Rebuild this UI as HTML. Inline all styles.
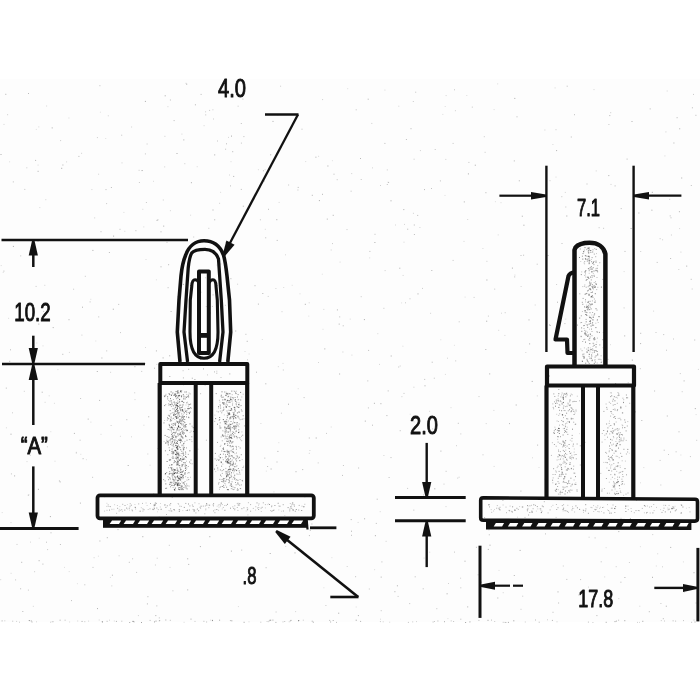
<!DOCTYPE html>
<html><head><meta charset="utf-8"><style>
html,body{margin:0;padding:0;background:#fff;width:700px;height:700px;overflow:hidden}
svg{display:block;filter:blur(0.45px)}
</style></head><body><svg width="700" height="700" viewBox="0 0 700 700"><rect x="0" y="79" width="700" height="543" fill="#fdfdfd"/><g fill="#111" opacity="1"><rect x="175.6" y="405.1" width="1.0" height="1.0" fill-opacity="0.41"/><rect x="175.0" y="395.8" width="1.0" height="1.0" fill-opacity="0.40"/><rect x="179.5" y="433.4" width="1.0" height="1.0" fill-opacity="0.37"/><rect x="178.2" y="402.4" width="1.0" height="1.0" fill-opacity="0.29"/><rect x="171.4" y="484.8" width="1.0" height="1.0" fill-opacity="0.59"/><rect x="174.1" y="475.8" width="1.0" height="1.0" fill-opacity="0.32"/><rect x="172.8" y="401.8" width="1.0" height="1.0" fill-opacity="0.27"/><rect x="187.8" y="453.9" width="1.0" height="1.0" fill-opacity="0.35"/><rect x="181.0" y="396.3" width="1.0" height="1.0" fill-opacity="0.47"/><rect x="178.6" y="421.4" width="1.0" height="1.0" fill-opacity="0.43"/><rect x="179.7" y="420.0" width="1.0" height="1.0" fill-opacity="0.30"/><rect x="167.6" y="442.5" width="1.0" height="1.0" fill-opacity="0.55"/><rect x="180.1" y="418.8" width="1.0" height="1.0" fill-opacity="0.37"/><rect x="176.6" y="405.2" width="1.0" height="1.0" fill-opacity="0.40"/><rect x="177.8" y="456.8" width="1.0" height="1.0" fill-opacity="0.55"/><rect x="168.8" y="459.5" width="1.0" height="1.0" fill-opacity="0.44"/><rect x="185.1" y="435.6" width="1.0" height="1.0" fill-opacity="0.39"/><rect x="164.2" y="396.1" width="1.0" height="1.0" fill-opacity="0.48"/><rect x="179.3" y="489.3" width="1.0" height="1.0" fill-opacity="0.35"/><rect x="172.4" y="392.3" width="1.0" height="1.0" fill-opacity="0.38"/><rect x="187.0" y="401.7" width="1.0" height="1.0" fill-opacity="0.25"/><rect x="180.9" y="429.1" width="1.0" height="1.0" fill-opacity="0.55"/><rect x="164.6" y="434.9" width="1.0" height="1.0" fill-opacity="0.53"/><rect x="173.0" y="417.8" width="1.0" height="1.0" fill-opacity="0.37"/><rect x="180.5" y="478.4" width="1.0" height="1.0" fill-opacity="0.27"/><rect x="176.1" y="413.3" width="1.0" height="1.0" fill-opacity="0.39"/><rect x="183.6" y="416.3" width="1.0" height="1.0" fill-opacity="0.35"/><rect x="177.2" y="485.3" width="1.0" height="1.0" fill-opacity="0.48"/><rect x="176.1" y="451.8" width="1.0" height="1.0" fill-opacity="0.56"/><rect x="175.1" y="477.5" width="1.0" height="1.0" fill-opacity="0.52"/><rect x="184.1" y="429.9" width="1.0" height="1.0" fill-opacity="0.22"/><rect x="182.4" y="410.9" width="1.0" height="1.0" fill-opacity="0.26"/><rect x="180.6" y="395.3" width="1.0" height="1.0" fill-opacity="0.24"/><rect x="177.0" y="392.6" width="1.0" height="1.0" fill-opacity="0.55"/><rect x="176.9" y="404.9" width="1.0" height="1.0" fill-opacity="0.35"/><rect x="182.8" y="474.9" width="1.0" height="1.0" fill-opacity="0.60"/><rect x="179.5" y="438.4" width="1.0" height="1.0" fill-opacity="0.34"/><rect x="178.5" y="472.9" width="1.0" height="1.0" fill-opacity="0.26"/><rect x="173.5" y="485.1" width="1.0" height="1.0" fill-opacity="0.42"/><rect x="176.4" y="442.8" width="1.0" height="1.0" fill-opacity="0.59"/><rect x="176.6" y="459.6" width="1.0" height="1.0" fill-opacity="0.27"/><rect x="183.0" y="443.3" width="1.0" height="1.0" fill-opacity="0.51"/><rect x="183.9" y="412.3" width="1.0" height="1.0" fill-opacity="0.54"/><rect x="171.1" y="412.7" width="1.0" height="1.0" fill-opacity="0.21"/><rect x="176.3" y="417.9" width="1.0" height="1.0" fill-opacity="0.30"/><rect x="181.8" y="485.5" width="1.0" height="1.0" fill-opacity="0.35"/><rect x="178.4" y="412.7" width="1.0" height="1.0" fill-opacity="0.45"/><rect x="181.0" y="474.0" width="1.0" height="1.0" fill-opacity="0.39"/><rect x="185.0" y="470.0" width="1.0" height="1.0" fill-opacity="0.56"/><rect x="181.7" y="465.0" width="1.0" height="1.0" fill-opacity="0.39"/><rect x="171.4" y="468.9" width="1.0" height="1.0" fill-opacity="0.59"/><rect x="186.8" y="430.1" width="1.0" height="1.0" fill-opacity="0.58"/><rect x="179.5" y="407.0" width="1.0" height="1.0" fill-opacity="0.56"/><rect x="179.6" y="404.6" width="1.0" height="1.0" fill-opacity="0.53"/><rect x="172.3" y="455.7" width="1.0" height="1.0" fill-opacity="0.25"/><rect x="183.4" y="487.1" width="1.0" height="1.0" fill-opacity="0.46"/><rect x="165.3" y="483.4" width="1.0" height="1.0" fill-opacity="0.53"/><rect x="182.2" y="415.2" width="1.0" height="1.0" fill-opacity="0.32"/><rect x="176.6" y="448.6" width="1.0" height="1.0" fill-opacity="0.25"/><rect x="183.6" y="425.4" width="1.0" height="1.0" fill-opacity="0.38"/><rect x="164.6" y="480.4" width="1.0" height="1.0" fill-opacity="0.40"/><rect x="183.7" y="442.4" width="1.0" height="1.0" fill-opacity="0.21"/><rect x="188.3" y="408.3" width="1.0" height="1.0" fill-opacity="0.27"/><rect x="177.3" y="462.5" width="1.0" height="1.0" fill-opacity="0.42"/><rect x="166.6" y="441.8" width="1.0" height="1.0" fill-opacity="0.24"/><rect x="173.2" y="414.8" width="1.0" height="1.0" fill-opacity="0.31"/><rect x="167.1" y="440.8" width="1.0" height="1.0" fill-opacity="0.56"/><rect x="173.0" y="451.3" width="1.0" height="1.0" fill-opacity="0.40"/><rect x="169.6" y="459.3" width="1.0" height="1.0" fill-opacity="0.39"/><rect x="179.3" y="459.9" width="1.0" height="1.0" fill-opacity="0.55"/><rect x="171.5" y="403.7" width="1.0" height="1.0" fill-opacity="0.25"/><rect x="177.1" y="397.3" width="1.0" height="1.0" fill-opacity="0.47"/><rect x="179.5" y="479.7" width="1.0" height="1.0" fill-opacity="0.26"/><rect x="185.1" y="456.0" width="1.0" height="1.0" fill-opacity="0.59"/><rect x="187.2" y="485.3" width="1.0" height="1.0" fill-opacity="0.36"/><rect x="178.9" y="489.0" width="1.0" height="1.0" fill-opacity="0.37"/><rect x="173.8" y="423.9" width="1.0" height="1.0" fill-opacity="0.28"/><rect x="184.9" y="462.2" width="1.0" height="1.0" fill-opacity="0.38"/><rect x="178.0" y="423.1" width="1.0" height="1.0" fill-opacity="0.45"/><rect x="188.1" y="396.4" width="1.0" height="1.0" fill-opacity="0.59"/><rect x="176.0" y="416.6" width="1.0" height="1.0" fill-opacity="0.22"/><rect x="181.5" y="417.0" width="1.0" height="1.0" fill-opacity="0.56"/><rect x="181.8" y="415.9" width="1.0" height="1.0" fill-opacity="0.26"/><rect x="176.2" y="447.1" width="1.0" height="1.0" fill-opacity="0.22"/><rect x="174.4" y="432.5" width="1.0" height="1.0" fill-opacity="0.23"/><rect x="177.8" y="453.4" width="1.0" height="1.0" fill-opacity="0.54"/><rect x="174.5" y="476.3" width="1.0" height="1.0" fill-opacity="0.38"/><rect x="181.5" y="445.3" width="1.0" height="1.0" fill-opacity="0.25"/><rect x="174.8" y="413.8" width="1.0" height="1.0" fill-opacity="0.24"/><rect x="178.6" y="395.0" width="1.0" height="1.0" fill-opacity="0.32"/><rect x="182.2" y="419.0" width="1.0" height="1.0" fill-opacity="0.40"/><rect x="181.8" y="424.7" width="1.0" height="1.0" fill-opacity="0.21"/><rect x="177.5" y="445.1" width="1.0" height="1.0" fill-opacity="0.28"/><rect x="186.1" y="483.5" width="1.0" height="1.0" fill-opacity="0.37"/><rect x="184.2" y="473.5" width="1.0" height="1.0" fill-opacity="0.36"/><rect x="182.7" y="458.8" width="1.0" height="1.0" fill-opacity="0.53"/><rect x="176.4" y="453.6" width="1.0" height="1.0" fill-opacity="0.36"/><rect x="178.7" y="395.4" width="1.0" height="1.0" fill-opacity="0.50"/><rect x="178.8" y="406.3" width="1.0" height="1.0" fill-opacity="0.23"/><rect x="174.5" y="477.1" width="1.0" height="1.0" fill-opacity="0.30"/><rect x="172.5" y="435.9" width="1.0" height="1.0" fill-opacity="0.26"/><rect x="173.0" y="414.4" width="1.0" height="1.0" fill-opacity="0.59"/><rect x="183.2" y="425.7" width="1.0" height="1.0" fill-opacity="0.39"/><rect x="177.0" y="410.1" width="1.0" height="1.0" fill-opacity="0.40"/><rect x="182.4" y="416.4" width="1.0" height="1.0" fill-opacity="0.22"/><rect x="180.4" y="420.4" width="1.0" height="1.0" fill-opacity="0.29"/><rect x="177.0" y="442.9" width="1.0" height="1.0" fill-opacity="0.49"/><rect x="167.8" y="429.0" width="1.0" height="1.0" fill-opacity="0.33"/><rect x="175.5" y="404.9" width="1.0" height="1.0" fill-opacity="0.22"/><rect x="168.1" y="479.2" width="1.0" height="1.0" fill-opacity="0.45"/><rect x="181.9" y="471.2" width="1.0" height="1.0" fill-opacity="0.40"/><rect x="182.9" y="470.5" width="1.0" height="1.0" fill-opacity="0.53"/><rect x="173.0" y="479.3" width="1.0" height="1.0" fill-opacity="0.29"/><rect x="168.2" y="403.3" width="1.0" height="1.0" fill-opacity="0.34"/><rect x="168.7" y="473.6" width="1.0" height="1.0" fill-opacity="0.45"/><rect x="173.8" y="438.9" width="1.0" height="1.0" fill-opacity="0.20"/><rect x="169.2" y="464.8" width="1.0" height="1.0" fill-opacity="0.46"/><rect x="176.9" y="463.7" width="1.0" height="1.0" fill-opacity="0.30"/><rect x="176.4" y="416.6" width="1.0" height="1.0" fill-opacity="0.50"/><rect x="172.8" y="439.4" width="1.0" height="1.0" fill-opacity="0.35"/><rect x="177.9" y="458.4" width="1.0" height="1.0" fill-opacity="0.46"/><rect x="168.3" y="404.7" width="1.0" height="1.0" fill-opacity="0.30"/><rect x="176.1" y="420.4" width="1.0" height="1.0" fill-opacity="0.22"/><rect x="176.6" y="457.2" width="1.0" height="1.0" fill-opacity="0.48"/><rect x="170.0" y="419.1" width="1.0" height="1.0" fill-opacity="0.39"/><rect x="176.3" y="479.4" width="1.0" height="1.0" fill-opacity="0.28"/><rect x="183.9" y="483.6" width="1.0" height="1.0" fill-opacity="0.53"/><rect x="177.8" y="434.9" width="1.0" height="1.0" fill-opacity="0.31"/><rect x="179.0" y="484.6" width="1.0" height="1.0" fill-opacity="0.26"/><rect x="185.1" y="485.3" width="1.0" height="1.0" fill-opacity="0.25"/><rect x="184.4" y="440.9" width="1.0" height="1.0" fill-opacity="0.29"/><rect x="170.6" y="438.6" width="1.0" height="1.0" fill-opacity="0.21"/><rect x="171.9" y="439.2" width="1.0" height="1.0" fill-opacity="0.26"/><rect x="178.6" y="421.6" width="1.0" height="1.0" fill-opacity="0.54"/><rect x="178.7" y="465.1" width="1.0" height="1.0" fill-opacity="0.57"/><rect x="174.3" y="480.2" width="1.0" height="1.0" fill-opacity="0.32"/><rect x="185.4" y="429.3" width="1.0" height="1.0" fill-opacity="0.34"/><rect x="176.9" y="417.5" width="1.0" height="1.0" fill-opacity="0.22"/><rect x="173.7" y="473.5" width="1.0" height="1.0" fill-opacity="0.30"/><rect x="191.4" y="441.1" width="1.0" height="1.0" fill-opacity="0.28"/><rect x="185.6" y="485.6" width="1.0" height="1.0" fill-opacity="0.45"/><rect x="169.3" y="484.1" width="1.0" height="1.0" fill-opacity="0.42"/><rect x="176.2" y="394.9" width="1.0" height="1.0" fill-opacity="0.50"/><rect x="170.1" y="418.6" width="1.0" height="1.0" fill-opacity="0.22"/><rect x="171.3" y="402.7" width="1.0" height="1.0" fill-opacity="0.32"/><rect x="178.0" y="487.6" width="1.0" height="1.0" fill-opacity="0.30"/><rect x="171.1" y="420.1" width="1.0" height="1.0" fill-opacity="0.27"/><rect x="174.8" y="410.8" width="1.0" height="1.0" fill-opacity="0.56"/><rect x="165.2" y="404.0" width="1.0" height="1.0" fill-opacity="0.28"/><rect x="180.9" y="424.2" width="1.0" height="1.0" fill-opacity="0.30"/><rect x="179.5" y="478.7" width="1.0" height="1.0" fill-opacity="0.50"/><rect x="170.9" y="431.4" width="1.0" height="1.0" fill-opacity="0.34"/><rect x="176.1" y="417.8" width="1.0" height="1.0" fill-opacity="0.59"/><rect x="168.4" y="440.3" width="1.0" height="1.0" fill-opacity="0.29"/><rect x="167.9" y="414.8" width="1.0" height="1.0" fill-opacity="0.36"/><rect x="184.4" y="485.4" width="1.0" height="1.0" fill-opacity="0.21"/><rect x="166.6" y="461.0" width="1.0" height="1.0" fill-opacity="0.56"/><rect x="183.3" y="448.7" width="1.0" height="1.0" fill-opacity="0.57"/><rect x="177.0" y="475.5" width="1.0" height="1.0" fill-opacity="0.59"/><rect x="181.3" y="400.9" width="1.0" height="1.0" fill-opacity="0.47"/><rect x="183.3" y="462.2" width="1.0" height="1.0" fill-opacity="0.46"/><rect x="175.3" y="435.7" width="1.0" height="1.0" fill-opacity="0.51"/><rect x="176.4" y="482.0" width="1.0" height="1.0" fill-opacity="0.46"/><rect x="176.9" y="402.8" width="1.0" height="1.0" fill-opacity="0.48"/><rect x="186.0" y="397.0" width="1.0" height="1.0" fill-opacity="0.41"/><rect x="178.4" y="428.8" width="1.0" height="1.0" fill-opacity="0.20"/><rect x="185.4" y="436.1" width="1.0" height="1.0" fill-opacity="0.58"/><rect x="172.4" y="478.4" width="1.0" height="1.0" fill-opacity="0.30"/><rect x="177.7" y="460.5" width="1.0" height="1.0" fill-opacity="0.32"/><rect x="174.0" y="439.8" width="1.0" height="1.0" fill-opacity="0.30"/><rect x="171.2" y="482.5" width="1.0" height="1.0" fill-opacity="0.29"/><rect x="168.6" y="423.8" width="1.0" height="1.0" fill-opacity="0.28"/><rect x="181.6" y="463.9" width="1.0" height="1.0" fill-opacity="0.40"/><rect x="172.6" y="487.0" width="1.0" height="1.0" fill-opacity="0.29"/><rect x="187.8" y="466.0" width="1.0" height="1.0" fill-opacity="0.32"/><rect x="178.7" y="439.6" width="1.0" height="1.0" fill-opacity="0.37"/><rect x="181.1" y="484.9" width="1.0" height="1.0" fill-opacity="0.26"/><rect x="180.4" y="411.3" width="1.0" height="1.0" fill-opacity="0.22"/><rect x="176.4" y="429.3" width="1.0" height="1.0" fill-opacity="0.56"/><rect x="191.6" y="463.3" width="1.0" height="1.0" fill-opacity="0.33"/><rect x="176.8" y="483.6" width="1.0" height="1.0" fill-opacity="0.50"/><rect x="172.6" y="456.4" width="1.0" height="1.0" fill-opacity="0.33"/><rect x="181.2" y="390.3" width="1.0" height="1.0" fill-opacity="0.31"/><rect x="188.6" y="485.6" width="1.0" height="1.0" fill-opacity="0.28"/><rect x="188.4" y="472.2" width="1.0" height="1.0" fill-opacity="0.53"/><rect x="171.0" y="394.9" width="1.0" height="1.0" fill-opacity="0.57"/><rect x="178.0" y="426.4" width="1.0" height="1.0" fill-opacity="0.56"/><rect x="181.1" y="431.1" width="1.0" height="1.0" fill-opacity="0.22"/><rect x="167.1" y="396.3" width="1.0" height="1.0" fill-opacity="0.57"/><rect x="181.6" y="464.7" width="1.0" height="1.0" fill-opacity="0.31"/><rect x="173.6" y="451.7" width="1.0" height="1.0" fill-opacity="0.30"/><rect x="176.9" y="421.6" width="1.0" height="1.0" fill-opacity="0.50"/><rect x="177.5" y="453.4" width="1.0" height="1.0" fill-opacity="0.58"/><rect x="179.5" y="428.7" width="1.0" height="1.0" fill-opacity="0.30"/><rect x="180.6" y="439.3" width="1.0" height="1.0" fill-opacity="0.52"/><rect x="175.3" y="472.3" width="1.0" height="1.0" fill-opacity="0.51"/><rect x="174.5" y="422.8" width="1.0" height="1.0" fill-opacity="0.51"/><rect x="182.4" y="409.7" width="1.0" height="1.0" fill-opacity="0.50"/><rect x="184.8" y="396.5" width="1.0" height="1.0" fill-opacity="0.33"/><rect x="178.7" y="478.3" width="1.0" height="1.0" fill-opacity="0.60"/><rect x="183.1" y="398.4" width="1.0" height="1.0" fill-opacity="0.48"/><rect x="181.2" y="413.4" width="1.0" height="1.0" fill-opacity="0.37"/><rect x="176.8" y="457.4" width="1.0" height="1.0" fill-opacity="0.47"/><rect x="164.8" y="474.1" width="1.0" height="1.0" fill-opacity="0.32"/><rect x="176.7" y="427.3" width="1.0" height="1.0" fill-opacity="0.30"/><rect x="172.8" y="405.3" width="1.0" height="1.0" fill-opacity="0.55"/><rect x="189.0" y="413.1" width="1.0" height="1.0" fill-opacity="0.52"/><rect x="182.7" y="489.1" width="1.0" height="1.0" fill-opacity="0.53"/><rect x="181.3" y="481.4" width="1.0" height="1.0" fill-opacity="0.22"/><rect x="183.3" y="401.9" width="1.0" height="1.0" fill-opacity="0.43"/><rect x="192.7" y="427.2" width="1.0" height="1.0" fill-opacity="0.55"/><rect x="179.6" y="416.0" width="1.0" height="1.0" fill-opacity="0.24"/><rect x="179.7" y="426.9" width="1.0" height="1.0" fill-opacity="0.30"/><rect x="180.3" y="455.2" width="1.0" height="1.0" fill-opacity="0.28"/><rect x="175.2" y="422.7" width="1.0" height="1.0" fill-opacity="0.32"/><rect x="173.4" y="469.5" width="1.0" height="1.0" fill-opacity="0.42"/><rect x="170.7" y="400.1" width="1.0" height="1.0" fill-opacity="0.46"/><rect x="181.9" y="406.4" width="1.0" height="1.0" fill-opacity="0.48"/><rect x="171.5" y="418.3" width="1.0" height="1.0" fill-opacity="0.32"/><rect x="191.6" y="425.7" width="1.0" height="1.0" fill-opacity="0.37"/><rect x="174.3" y="489.7" width="1.0" height="1.0" fill-opacity="0.49"/><rect x="180.2" y="390.6" width="1.0" height="1.0" fill-opacity="0.56"/><rect x="166.2" y="472.0" width="1.0" height="1.0" fill-opacity="0.38"/><rect x="184.3" y="391.5" width="1.0" height="1.0" fill-opacity="0.42"/><rect x="184.5" y="481.0" width="1.0" height="1.0" fill-opacity="0.35"/><rect x="181.7" y="404.6" width="1.0" height="1.0" fill-opacity="0.31"/><rect x="182.7" y="482.5" width="1.0" height="1.0" fill-opacity="0.52"/><rect x="181.6" y="409.7" width="1.0" height="1.0" fill-opacity="0.25"/><rect x="174.9" y="487.6" width="1.0" height="1.0" fill-opacity="0.57"/><rect x="177.2" y="480.4" width="1.0" height="1.0" fill-opacity="0.45"/><rect x="178.0" y="406.0" width="1.0" height="1.0" fill-opacity="0.36"/><rect x="172.6" y="472.9" width="1.0" height="1.0" fill-opacity="0.27"/><rect x="170.8" y="430.0" width="1.0" height="1.0" fill-opacity="0.25"/><rect x="176.3" y="462.5" width="1.0" height="1.0" fill-opacity="0.56"/><rect x="177.1" y="446.2" width="1.0" height="1.0" fill-opacity="0.54"/><rect x="175.2" y="450.0" width="1.0" height="1.0" fill-opacity="0.42"/><rect x="169.7" y="420.6" width="1.0" height="1.0" fill-opacity="0.37"/><rect x="181.0" y="434.7" width="1.0" height="1.0" fill-opacity="0.38"/><rect x="172.4" y="451.9" width="1.0" height="1.0" fill-opacity="0.51"/><rect x="177.3" y="435.8" width="1.0" height="1.0" fill-opacity="0.27"/><rect x="181.6" y="400.7" width="1.0" height="1.0" fill-opacity="0.24"/><rect x="181.8" y="441.0" width="1.0" height="1.0" fill-opacity="0.22"/><rect x="175.9" y="398.2" width="1.0" height="1.0" fill-opacity="0.40"/><rect x="166.1" y="440.4" width="1.0" height="1.0" fill-opacity="0.35"/><rect x="190.1" y="403.6" width="1.0" height="1.0" fill-opacity="0.49"/><rect x="190.5" y="439.2" width="1.0" height="1.0" fill-opacity="0.27"/><rect x="173.2" y="483.1" width="1.0" height="1.0" fill-opacity="0.23"/><rect x="184.3" y="465.6" width="1.0" height="1.0" fill-opacity="0.31"/><rect x="188.3" y="404.4" width="1.0" height="1.0" fill-opacity="0.40"/><rect x="176.4" y="410.8" width="1.0" height="1.0" fill-opacity="0.33"/><rect x="184.5" y="408.2" width="1.0" height="1.0" fill-opacity="0.26"/><rect x="180.0" y="458.0" width="1.0" height="1.0" fill-opacity="0.51"/><rect x="174.7" y="443.1" width="1.0" height="1.0" fill-opacity="0.45"/><rect x="169.2" y="477.3" width="1.0" height="1.0" fill-opacity="0.55"/><rect x="174.2" y="489.3" width="1.0" height="1.0" fill-opacity="0.45"/><rect x="175.2" y="469.8" width="1.0" height="1.0" fill-opacity="0.43"/><rect x="176.9" y="407.7" width="1.0" height="1.0" fill-opacity="0.53"/><rect x="175.0" y="453.9" width="1.0" height="1.0" fill-opacity="0.59"/><rect x="176.9" y="456.4" width="1.0" height="1.0" fill-opacity="0.21"/><rect x="177.3" y="451.6" width="1.0" height="1.0" fill-opacity="0.37"/><rect x="180.1" y="479.6" width="1.0" height="1.0" fill-opacity="0.46"/><rect x="180.3" y="390.3" width="1.0" height="1.0" fill-opacity="0.34"/><rect x="178.3" y="425.7" width="1.0" height="1.0" fill-opacity="0.44"/><rect x="185.2" y="452.4" width="1.0" height="1.0" fill-opacity="0.39"/><rect x="177.1" y="483.7" width="1.0" height="1.0" fill-opacity="0.24"/><rect x="180.6" y="477.1" width="1.0" height="1.0" fill-opacity="0.51"/><rect x="186.0" y="416.4" width="1.0" height="1.0" fill-opacity="0.42"/><rect x="177.7" y="454.6" width="1.0" height="1.0" fill-opacity="0.38"/><rect x="177.1" y="463.4" width="1.0" height="1.0" fill-opacity="0.22"/><rect x="190.6" y="430.6" width="1.0" height="1.0" fill-opacity="0.30"/><rect x="184.9" y="467.9" width="1.0" height="1.0" fill-opacity="0.58"/><rect x="177.6" y="410.0" width="1.0" height="1.0" fill-opacity="0.44"/><rect x="178.5" y="454.2" width="1.0" height="1.0" fill-opacity="0.32"/><rect x="173.4" y="394.8" width="1.0" height="1.0" fill-opacity="0.56"/><rect x="189.1" y="461.5" width="1.0" height="1.0" fill-opacity="0.50"/><rect x="177.5" y="464.2" width="1.0" height="1.0" fill-opacity="0.38"/><rect x="177.2" y="400.5" width="1.0" height="1.0" fill-opacity="0.33"/><rect x="178.8" y="459.5" width="1.0" height="1.0" fill-opacity="0.54"/><rect x="170.6" y="416.6" width="1.0" height="1.0" fill-opacity="0.52"/><rect x="174.8" y="416.5" width="1.0" height="1.0" fill-opacity="0.46"/><rect x="177.8" y="411.7" width="1.0" height="1.0" fill-opacity="0.30"/><rect x="176.2" y="464.4" width="1.0" height="1.0" fill-opacity="0.58"/><rect x="181.1" y="422.7" width="1.0" height="1.0" fill-opacity="0.30"/><rect x="173.2" y="453.1" width="1.0" height="1.0" fill-opacity="0.48"/><rect x="165.2" y="487.9" width="1.0" height="1.0" fill-opacity="0.48"/><rect x="179.3" y="433.7" width="1.0" height="1.0" fill-opacity="0.49"/><rect x="179.1" y="420.8" width="1.0" height="1.0" fill-opacity="0.23"/><rect x="185.5" y="404.5" width="1.0" height="1.0" fill-opacity="0.21"/><rect x="175.0" y="482.9" width="1.0" height="1.0" fill-opacity="0.21"/><rect x="179.9" y="459.3" width="1.0" height="1.0" fill-opacity="0.45"/><rect x="184.7" y="463.7" width="1.0" height="1.0" fill-opacity="0.35"/><rect x="180.4" y="472.0" width="1.0" height="1.0" fill-opacity="0.56"/><rect x="190.0" y="476.8" width="1.0" height="1.0" fill-opacity="0.24"/><rect x="169.2" y="401.2" width="1.0" height="1.0" fill-opacity="0.21"/><rect x="169.2" y="471.2" width="1.0" height="1.0" fill-opacity="0.45"/><rect x="168.2" y="400.0" width="1.0" height="1.0" fill-opacity="0.24"/><rect x="174.2" y="410.5" width="1.0" height="1.0" fill-opacity="0.21"/><rect x="183.0" y="418.3" width="1.0" height="1.0" fill-opacity="0.49"/><rect x="184.3" y="422.1" width="1.0" height="1.0" fill-opacity="0.54"/><rect x="175.3" y="393.1" width="1.0" height="1.0" fill-opacity="0.37"/><rect x="171.4" y="467.3" width="1.0" height="1.0" fill-opacity="0.42"/><rect x="185.1" y="476.2" width="1.0" height="1.0" fill-opacity="0.24"/><rect x="181.2" y="407.0" width="1.0" height="1.0" fill-opacity="0.50"/><rect x="177.0" y="390.4" width="1.0" height="1.0" fill-opacity="0.40"/><rect x="179.9" y="469.7" width="1.0" height="1.0" fill-opacity="0.34"/><rect x="183.7" y="416.1" width="1.0" height="1.0" fill-opacity="0.58"/><rect x="174.7" y="411.5" width="1.0" height="1.0" fill-opacity="0.24"/><rect x="170.0" y="398.1" width="1.0" height="1.0" fill-opacity="0.52"/><rect x="172.9" y="468.7" width="1.0" height="1.0" fill-opacity="0.36"/><rect x="172.7" y="479.0" width="1.0" height="1.0" fill-opacity="0.23"/><rect x="178.3" y="392.5" width="1.0" height="1.0" fill-opacity="0.56"/><rect x="181.7" y="427.9" width="1.0" height="1.0" fill-opacity="0.55"/><rect x="166.6" y="436.1" width="1.0" height="1.0" fill-opacity="0.50"/><rect x="174.9" y="424.8" width="1.0" height="1.0" fill-opacity="0.33"/><rect x="171.6" y="474.3" width="1.0" height="1.0" fill-opacity="0.27"/><rect x="168.2" y="467.3" width="1.0" height="1.0" fill-opacity="0.43"/><rect x="180.5" y="436.2" width="1.0" height="1.0" fill-opacity="0.28"/><rect x="173.9" y="460.3" width="1.0" height="1.0" fill-opacity="0.54"/><rect x="177.1" y="405.6" width="1.0" height="1.0" fill-opacity="0.41"/><rect x="182.6" y="422.8" width="1.0" height="1.0" fill-opacity="0.28"/><rect x="189.9" y="462.9" width="1.0" height="1.0" fill-opacity="0.24"/><rect x="186.6" y="488.4" width="1.0" height="1.0" fill-opacity="0.52"/><rect x="180.0" y="433.5" width="1.0" height="1.0" fill-opacity="0.24"/><rect x="185.5" y="428.8" width="1.0" height="1.0" fill-opacity="0.21"/><rect x="174.4" y="469.1" width="1.0" height="1.0" fill-opacity="0.45"/><rect x="170.0" y="404.2" width="1.0" height="1.0" fill-opacity="0.44"/><rect x="182.6" y="464.1" width="1.0" height="1.0" fill-opacity="0.43"/><rect x="173.4" y="432.1" width="1.0" height="1.0" fill-opacity="0.29"/><rect x="178.5" y="478.0" width="1.0" height="1.0" fill-opacity="0.54"/><rect x="167.3" y="454.2" width="1.0" height="1.0" fill-opacity="0.38"/><rect x="182.4" y="452.8" width="1.0" height="1.0" fill-opacity="0.51"/><rect x="180.8" y="453.0" width="1.0" height="1.0" fill-opacity="0.30"/><rect x="172.3" y="435.5" width="1.0" height="1.0" fill-opacity="0.47"/><rect x="172.5" y="408.3" width="1.0" height="1.0" fill-opacity="0.46"/><rect x="178.1" y="444.3" width="1.0" height="1.0" fill-opacity="0.26"/><rect x="174.1" y="484.1" width="1.0" height="1.0" fill-opacity="0.43"/><rect x="176.6" y="461.7" width="1.0" height="1.0" fill-opacity="0.40"/><rect x="170.6" y="472.9" width="1.0" height="1.0" fill-opacity="0.58"/><rect x="176.1" y="458.4" width="1.0" height="1.0" fill-opacity="0.36"/><rect x="182.9" y="402.2" width="1.0" height="1.0" fill-opacity="0.22"/><rect x="176.4" y="430.0" width="1.0" height="1.0" fill-opacity="0.21"/><rect x="175.1" y="432.1" width="1.0" height="1.0" fill-opacity="0.31"/><rect x="171.4" y="464.1" width="1.0" height="1.0" fill-opacity="0.58"/><rect x="179.0" y="411.9" width="1.0" height="1.0" fill-opacity="0.28"/><rect x="171.0" y="467.7" width="1.0" height="1.0" fill-opacity="0.52"/><rect x="172.8" y="436.9" width="1.0" height="1.0" fill-opacity="0.59"/><rect x="175.3" y="453.9" width="1.0" height="1.0" fill-opacity="0.53"/><rect x="174.8" y="436.8" width="1.0" height="1.0" fill-opacity="0.25"/><rect x="184.6" y="425.5" width="1.0" height="1.0" fill-opacity="0.54"/><rect x="176.9" y="427.6" width="1.0" height="1.0" fill-opacity="0.27"/><rect x="183.6" y="462.2" width="1.0" height="1.0" fill-opacity="0.31"/><rect x="170.4" y="420.2" width="1.0" height="1.0" fill-opacity="0.45"/><rect x="177.9" y="426.2" width="1.0" height="1.0" fill-opacity="0.57"/><rect x="183.4" y="395.7" width="1.0" height="1.0" fill-opacity="0.51"/><rect x="164.9" y="473.1" width="1.0" height="1.0" fill-opacity="0.45"/><rect x="185.8" y="391.1" width="1.0" height="1.0" fill-opacity="0.30"/><rect x="174.3" y="404.3" width="1.0" height="1.0" fill-opacity="0.29"/><rect x="184.8" y="424.6" width="1.0" height="1.0" fill-opacity="0.52"/><rect x="188.2" y="479.1" width="1.0" height="1.0" fill-opacity="0.44"/><rect x="185.7" y="456.8" width="1.0" height="1.0" fill-opacity="0.54"/><rect x="170.1" y="459.3" width="1.0" height="1.0" fill-opacity="0.41"/><rect x="182.9" y="433.9" width="1.0" height="1.0" fill-opacity="0.31"/><rect x="171.6" y="403.9" width="1.0" height="1.0" fill-opacity="0.40"/><rect x="181.5" y="436.7" width="1.0" height="1.0" fill-opacity="0.40"/><rect x="182.8" y="476.3" width="1.0" height="1.0" fill-opacity="0.20"/><rect x="168.4" y="436.8" width="1.0" height="1.0" fill-opacity="0.54"/><rect x="173.4" y="431.9" width="1.0" height="1.0" fill-opacity="0.58"/><rect x="176.0" y="453.7" width="1.0" height="1.0" fill-opacity="0.44"/><rect x="175.9" y="483.1" width="1.0" height="1.0" fill-opacity="0.33"/><rect x="163.6" y="441.1" width="1.0" height="1.0" fill-opacity="0.21"/><rect x="178.3" y="452.5" width="1.0" height="1.0" fill-opacity="0.34"/><rect x="169.4" y="426.6" width="1.0" height="1.0" fill-opacity="0.51"/><rect x="178.2" y="433.5" width="1.0" height="1.0" fill-opacity="0.37"/><rect x="173.9" y="472.7" width="1.0" height="1.0" fill-opacity="0.36"/><rect x="188.4" y="417.2" width="1.0" height="1.0" fill-opacity="0.40"/><rect x="178.5" y="455.5" width="1.0" height="1.0" fill-opacity="0.33"/><rect x="171.5" y="448.6" width="1.0" height="1.0" fill-opacity="0.45"/><rect x="174.8" y="394.0" width="1.0" height="1.0" fill-opacity="0.42"/><rect x="164.1" y="420.0" width="1.0" height="1.0" fill-opacity="0.20"/><rect x="169.8" y="482.1" width="1.0" height="1.0" fill-opacity="0.52"/><rect x="171.2" y="451.2" width="1.0" height="1.0" fill-opacity="0.45"/><rect x="169.2" y="459.6" width="1.0" height="1.0" fill-opacity="0.29"/><rect x="171.6" y="435.8" width="1.0" height="1.0" fill-opacity="0.51"/><rect x="187.6" y="408.1" width="1.0" height="1.0" fill-opacity="0.57"/><rect x="179.5" y="426.9" width="1.0" height="1.0" fill-opacity="0.53"/><rect x="176.7" y="446.2" width="1.0" height="1.0" fill-opacity="0.37"/><rect x="182.3" y="433.1" width="1.0" height="1.0" fill-opacity="0.46"/><rect x="175.4" y="395.5" width="1.0" height="1.0" fill-opacity="0.25"/><rect x="176.3" y="447.5" width="1.0" height="1.0" fill-opacity="0.57"/><rect x="170.6" y="391.4" width="1.0" height="1.0" fill-opacity="0.58"/><rect x="182.5" y="437.5" width="1.0" height="1.0" fill-opacity="0.36"/><rect x="177.8" y="454.5" width="1.0" height="1.0" fill-opacity="0.21"/><rect x="180.5" y="458.4" width="1.0" height="1.0" fill-opacity="0.25"/><rect x="179.3" y="398.8" width="1.0" height="1.0" fill-opacity="0.21"/><rect x="174.6" y="414.2" width="1.0" height="1.0" fill-opacity="0.49"/><rect x="178.5" y="395.0" width="1.0" height="1.0" fill-opacity="0.54"/><rect x="167.2" y="398.4" width="1.0" height="1.0" fill-opacity="0.45"/><rect x="181.4" y="436.1" width="1.0" height="1.0" fill-opacity="0.59"/><rect x="175.0" y="391.1" width="1.0" height="1.0" fill-opacity="0.21"/><rect x="181.8" y="471.7" width="1.0" height="1.0" fill-opacity="0.49"/><rect x="179.6" y="476.1" width="1.0" height="1.0" fill-opacity="0.39"/><rect x="171.0" y="426.8" width="1.0" height="1.0" fill-opacity="0.47"/><rect x="173.9" y="469.7" width="1.0" height="1.0" fill-opacity="0.35"/><rect x="171.6" y="453.0" width="1.0" height="1.0" fill-opacity="0.51"/><rect x="180.1" y="468.5" width="1.0" height="1.0" fill-opacity="0.43"/><rect x="186.7" y="396.1" width="1.0" height="1.0" fill-opacity="0.53"/><rect x="175.4" y="450.6" width="1.0" height="1.0" fill-opacity="0.59"/><rect x="174.6" y="450.1" width="1.0" height="1.0" fill-opacity="0.56"/><rect x="183.2" y="458.5" width="1.0" height="1.0" fill-opacity="0.44"/><rect x="176.9" y="470.7" width="1.0" height="1.0" fill-opacity="0.31"/><rect x="177.4" y="448.7" width="1.0" height="1.0" fill-opacity="0.53"/><rect x="182.8" y="394.2" width="1.0" height="1.0" fill-opacity="0.55"/><rect x="167.0" y="417.4" width="1.0" height="1.0" fill-opacity="0.54"/><rect x="182.0" y="458.5" width="1.0" height="1.0" fill-opacity="0.23"/><rect x="174.0" y="469.7" width="1.0" height="1.0" fill-opacity="0.28"/><rect x="177.9" y="483.2" width="1.0" height="1.0" fill-opacity="0.47"/><rect x="185.6" y="410.7" width="1.0" height="1.0" fill-opacity="0.30"/><rect x="174.4" y="469.2" width="1.0" height="1.0" fill-opacity="0.52"/><rect x="177.7" y="413.3" width="1.0" height="1.0" fill-opacity="0.43"/><rect x="169.9" y="478.5" width="1.0" height="1.0" fill-opacity="0.44"/><rect x="176.0" y="409.2" width="1.0" height="1.0" fill-opacity="0.27"/><rect x="171.1" y="426.3" width="1.0" height="1.0" fill-opacity="0.41"/><rect x="174.5" y="394.5" width="1.0" height="1.0" fill-opacity="0.60"/><rect x="169.6" y="400.6" width="1.0" height="1.0" fill-opacity="0.26"/><rect x="168.8" y="424.5" width="1.0" height="1.0" fill-opacity="0.41"/><rect x="189.6" y="393.4" width="1.0" height="1.0" fill-opacity="0.39"/><rect x="176.2" y="416.2" width="1.0" height="1.0" fill-opacity="0.51"/><rect x="178.3" y="484.6" width="1.0" height="1.0" fill-opacity="0.59"/><rect x="165.4" y="393.8" width="1.0" height="1.0" fill-opacity="0.28"/><rect x="184.6" y="398.4" width="1.0" height="1.0" fill-opacity="0.55"/><rect x="179.5" y="484.7" width="1.0" height="1.0" fill-opacity="0.56"/><rect x="174.5" y="449.8" width="1.0" height="1.0" fill-opacity="0.58"/><rect x="178.9" y="446.4" width="1.0" height="1.0" fill-opacity="0.46"/><rect x="171.6" y="457.0" width="1.0" height="1.0" fill-opacity="0.26"/><rect x="181.3" y="489.2" width="1.0" height="1.0" fill-opacity="0.29"/><rect x="168.9" y="415.6" width="1.0" height="1.0" fill-opacity="0.56"/><rect x="187.9" y="394.7" width="1.0" height="1.0" fill-opacity="0.51"/><rect x="179.1" y="454.7" width="1.0" height="1.0" fill-opacity="0.26"/><rect x="176.8" y="483.9" width="1.0" height="1.0" fill-opacity="0.47"/><rect x="177.1" y="449.1" width="1.0" height="1.0" fill-opacity="0.33"/><rect x="174.0" y="402.4" width="1.0" height="1.0" fill-opacity="0.39"/><rect x="182.9" y="413.8" width="1.0" height="1.0" fill-opacity="0.21"/><rect x="184.4" y="409.5" width="1.0" height="1.0" fill-opacity="0.21"/><rect x="188.6" y="412.1" width="1.0" height="1.0" fill-opacity="0.56"/><rect x="171.9" y="434.7" width="1.0" height="1.0" fill-opacity="0.24"/><rect x="172.2" y="474.2" width="1.0" height="1.0" fill-opacity="0.34"/><rect x="172.0" y="437.8" width="1.0" height="1.0" fill-opacity="0.45"/><rect x="186.3" y="412.2" width="1.0" height="1.0" fill-opacity="0.42"/><rect x="180.5" y="477.1" width="1.0" height="1.0" fill-opacity="0.31"/><rect x="175.4" y="405.6" width="1.0" height="1.0" fill-opacity="0.33"/><rect x="188.9" y="439.1" width="1.0" height="1.0" fill-opacity="0.33"/><rect x="179.1" y="401.4" width="1.0" height="1.0" fill-opacity="0.56"/><rect x="176.7" y="411.1" width="1.0" height="1.0" fill-opacity="0.39"/><rect x="178.8" y="415.8" width="1.0" height="1.0" fill-opacity="0.60"/><rect x="182.7" y="482.5" width="1.0" height="1.0" fill-opacity="0.24"/><rect x="186.5" y="479.6" width="1.0" height="1.0" fill-opacity="0.32"/><rect x="180.6" y="391.6" width="1.0" height="1.0" fill-opacity="0.52"/><rect x="188.9" y="404.0" width="1.0" height="1.0" fill-opacity="0.41"/><rect x="177.1" y="433.5" width="1.0" height="1.0" fill-opacity="0.56"/><rect x="179.6" y="447.1" width="1.0" height="1.0" fill-opacity="0.51"/><rect x="180.0" y="409.7" width="1.0" height="1.0" fill-opacity="0.23"/><rect x="172.0" y="450.9" width="1.0" height="1.0" fill-opacity="0.28"/><rect x="177.1" y="460.8" width="1.0" height="1.0" fill-opacity="0.52"/><rect x="186.4" y="410.2" width="1.0" height="1.0" fill-opacity="0.36"/><rect x="181.1" y="395.5" width="1.0" height="1.0" fill-opacity="0.52"/><rect x="181.8" y="474.2" width="1.0" height="1.0" fill-opacity="0.21"/><rect x="171.5" y="437.7" width="1.0" height="1.0" fill-opacity="0.55"/><rect x="180.0" y="408.6" width="1.0" height="1.0" fill-opacity="0.27"/><rect x="171.7" y="449.5" width="1.0" height="1.0" fill-opacity="0.20"/><rect x="173.8" y="434.6" width="1.0" height="1.0" fill-opacity="0.49"/><rect x="176.7" y="476.5" width="1.0" height="1.0" fill-opacity="0.33"/><rect x="177.0" y="428.1" width="1.0" height="1.0" fill-opacity="0.55"/><rect x="174.8" y="439.5" width="1.0" height="1.0" fill-opacity="0.41"/><rect x="179.1" y="408.2" width="1.0" height="1.0" fill-opacity="0.24"/><rect x="179.8" y="471.7" width="1.0" height="1.0" fill-opacity="0.48"/><rect x="177.5" y="391.8" width="1.0" height="1.0" fill-opacity="0.44"/><rect x="176.1" y="442.3" width="1.0" height="1.0" fill-opacity="0.55"/><rect x="174.2" y="394.5" width="1.0" height="1.0" fill-opacity="0.25"/><rect x="176.4" y="440.1" width="1.0" height="1.0" fill-opacity="0.36"/><rect x="180.2" y="449.2" width="1.0" height="1.0" fill-opacity="0.54"/><rect x="176.9" y="447.3" width="1.0" height="1.0" fill-opacity="0.53"/><rect x="173.2" y="428.9" width="1.0" height="1.0" fill-opacity="0.37"/><rect x="165.1" y="442.6" width="1.0" height="1.0" fill-opacity="0.51"/><rect x="186.1" y="414.0" width="1.0" height="1.0" fill-opacity="0.33"/><rect x="181.7" y="488.1" width="1.0" height="1.0" fill-opacity="0.53"/><rect x="163.9" y="395.4" width="1.0" height="1.0" fill-opacity="0.41"/><rect x="177.0" y="483.4" width="1.0" height="1.0" fill-opacity="0.45"/><rect x="183.6" y="443.1" width="1.0" height="1.0" fill-opacity="0.23"/><rect x="180.4" y="440.5" width="1.0" height="1.0" fill-opacity="0.59"/><rect x="177.5" y="483.7" width="1.0" height="1.0" fill-opacity="0.45"/><rect x="178.2" y="478.4" width="1.0" height="1.0" fill-opacity="0.46"/><rect x="175.9" y="457.8" width="1.0" height="1.0" fill-opacity="0.31"/><rect x="173.5" y="482.4" width="1.0" height="1.0" fill-opacity="0.41"/><rect x="173.7" y="485.1" width="1.0" height="1.0" fill-opacity="0.32"/><rect x="183.2" y="454.8" width="1.0" height="1.0" fill-opacity="0.58"/><rect x="182.8" y="416.8" width="1.0" height="1.0" fill-opacity="0.39"/><rect x="179.4" y="404.8" width="1.0" height="1.0" fill-opacity="0.32"/><rect x="179.3" y="418.8" width="1.0" height="1.0" fill-opacity="0.30"/><rect x="181.6" y="444.6" width="1.0" height="1.0" fill-opacity="0.43"/><rect x="169.7" y="410.1" width="1.0" height="1.0" fill-opacity="0.48"/><rect x="171.6" y="444.8" width="1.0" height="1.0" fill-opacity="0.32"/><rect x="172.4" y="412.2" width="1.0" height="1.0" fill-opacity="0.40"/><rect x="182.9" y="448.6" width="1.0" height="1.0" fill-opacity="0.54"/><rect x="177.4" y="445.7" width="1.0" height="1.0" fill-opacity="0.40"/><rect x="173.9" y="488.8" width="1.0" height="1.0" fill-opacity="0.26"/><rect x="187.4" y="477.1" width="1.0" height="1.0" fill-opacity="0.38"/><rect x="167.5" y="428.8" width="1.0" height="1.0" fill-opacity="0.24"/><rect x="180.8" y="485.9" width="1.0" height="1.0" fill-opacity="0.50"/><rect x="171.3" y="423.7" width="1.0" height="1.0" fill-opacity="0.45"/><rect x="184.6" y="472.1" width="1.0" height="1.0" fill-opacity="0.41"/><rect x="177.4" y="464.3" width="1.0" height="1.0" fill-opacity="0.51"/><rect x="169.9" y="481.5" width="1.0" height="1.0" fill-opacity="0.25"/><rect x="177.8" y="390.4" width="1.0" height="1.0" fill-opacity="0.40"/><rect x="168.7" y="447.2" width="1.0" height="1.0" fill-opacity="0.37"/><rect x="172.2" y="477.3" width="1.0" height="1.0" fill-opacity="0.38"/><rect x="173.2" y="462.3" width="1.0" height="1.0" fill-opacity="0.32"/><rect x="172.8" y="445.5" width="1.0" height="1.0" fill-opacity="0.51"/><rect x="180.7" y="440.0" width="1.0" height="1.0" fill-opacity="0.38"/><rect x="182.1" y="420.4" width="1.0" height="1.0" fill-opacity="0.43"/><rect x="183.5" y="482.0" width="1.0" height="1.0" fill-opacity="0.33"/><rect x="181.1" y="473.8" width="1.0" height="1.0" fill-opacity="0.37"/><rect x="175.9" y="391.1" width="1.0" height="1.0" fill-opacity="0.22"/><rect x="186.5" y="439.7" width="1.0" height="1.0" fill-opacity="0.42"/><rect x="171.8" y="441.7" width="1.0" height="1.0" fill-opacity="0.41"/><rect x="171.7" y="429.0" width="1.0" height="1.0" fill-opacity="0.34"/><rect x="183.6" y="457.6" width="1.0" height="1.0" fill-opacity="0.41"/><rect x="170.4" y="427.4" width="1.0" height="1.0" fill-opacity="0.43"/><rect x="181.7" y="486.4" width="1.0" height="1.0" fill-opacity="0.39"/><rect x="182.8" y="452.5" width="1.0" height="1.0" fill-opacity="0.41"/><rect x="176.9" y="407.1" width="1.0" height="1.0" fill-opacity="0.33"/><rect x="174.0" y="472.6" width="1.0" height="1.0" fill-opacity="0.56"/><rect x="176.8" y="472.1" width="1.0" height="1.0" fill-opacity="0.60"/><rect x="179.9" y="432.1" width="1.0" height="1.0" fill-opacity="0.40"/><rect x="181.3" y="408.8" width="1.0" height="1.0" fill-opacity="0.27"/><rect x="164.9" y="450.3" width="1.0" height="1.0" fill-opacity="0.45"/><rect x="193.0" y="431.1" width="1.0" height="1.0" fill-opacity="0.52"/><rect x="182.4" y="459.1" width="1.0" height="1.0" fill-opacity="0.54"/><rect x="177.1" y="456.8" width="1.0" height="1.0" fill-opacity="0.28"/><rect x="176.1" y="445.3" width="1.0" height="1.0" fill-opacity="0.41"/><rect x="186.0" y="447.4" width="1.0" height="1.0" fill-opacity="0.36"/><rect x="177.2" y="405.7" width="1.0" height="1.0" fill-opacity="0.24"/><rect x="174.0" y="442.2" width="1.0" height="1.0" fill-opacity="0.53"/><rect x="177.9" y="470.7" width="1.0" height="1.0" fill-opacity="0.51"/><rect x="177.4" y="461.5" width="1.0" height="1.0" fill-opacity="0.34"/><rect x="188.1" y="416.7" width="1.0" height="1.0" fill-opacity="0.43"/><rect x="185.0" y="435.0" width="1.0" height="1.0" fill-opacity="0.35"/><rect x="163.1" y="479.1" width="1.0" height="1.0" fill-opacity="0.38"/><rect x="169.1" y="414.9" width="1.0" height="1.0" fill-opacity="0.22"/><rect x="171.7" y="475.5" width="1.0" height="1.0" fill-opacity="0.53"/><rect x="189.4" y="450.3" width="1.0" height="1.0" fill-opacity="0.58"/><rect x="177.3" y="485.0" width="1.0" height="1.0" fill-opacity="0.49"/><rect x="183.3" y="420.9" width="1.0" height="1.0" fill-opacity="0.55"/><rect x="177.2" y="469.3" width="1.0" height="1.0" fill-opacity="0.34"/><rect x="180.9" y="487.2" width="1.0" height="1.0" fill-opacity="0.32"/><rect x="170.9" y="401.5" width="1.0" height="1.0" fill-opacity="0.36"/><rect x="175.7" y="402.3" width="1.0" height="1.0" fill-opacity="0.53"/><rect x="178.9" y="414.5" width="1.0" height="1.0" fill-opacity="0.29"/><rect x="181.8" y="456.4" width="1.0" height="1.0" fill-opacity="0.34"/><rect x="181.2" y="460.6" width="1.0" height="1.0" fill-opacity="0.53"/><rect x="179.7" y="434.3" width="1.0" height="1.0" fill-opacity="0.53"/><rect x="170.9" y="405.9" width="1.0" height="1.0" fill-opacity="0.35"/><rect x="185.1" y="410.8" width="1.0" height="1.0" fill-opacity="0.58"/><rect x="173.8" y="412.7" width="1.0" height="1.0" fill-opacity="0.48"/><rect x="178.0" y="480.0" width="1.0" height="1.0" fill-opacity="0.44"/><rect x="173.6" y="414.6" width="1.0" height="1.0" fill-opacity="0.55"/><rect x="174.3" y="441.3" width="1.0" height="1.0" fill-opacity="0.42"/><rect x="170.1" y="467.2" width="1.0" height="1.0" fill-opacity="0.43"/><rect x="183.1" y="429.0" width="1.0" height="1.0" fill-opacity="0.23"/><rect x="173.0" y="475.1" width="1.0" height="1.0" fill-opacity="0.24"/><rect x="185.4" y="426.1" width="1.0" height="1.0" fill-opacity="0.40"/><rect x="175.3" y="396.6" width="1.0" height="1.0" fill-opacity="0.25"/><rect x="181.2" y="418.2" width="1.0" height="1.0" fill-opacity="0.36"/><rect x="186.3" y="467.5" width="1.0" height="1.0" fill-opacity="0.25"/><rect x="168.6" y="393.0" width="1.0" height="1.0" fill-opacity="0.47"/><rect x="169.1" y="425.1" width="1.0" height="1.0" fill-opacity="0.48"/><rect x="181.8" y="474.7" width="1.0" height="1.0" fill-opacity="0.34"/><rect x="187.4" y="408.2" width="1.0" height="1.0" fill-opacity="0.49"/><rect x="186.2" y="394.0" width="1.0" height="1.0" fill-opacity="0.22"/><rect x="175.0" y="409.8" width="1.0" height="1.0" fill-opacity="0.22"/><rect x="182.8" y="453.8" width="1.0" height="1.0" fill-opacity="0.27"/><rect x="176.0" y="447.0" width="1.0" height="1.0" fill-opacity="0.37"/><rect x="172.3" y="424.9" width="1.0" height="1.0" fill-opacity="0.20"/><rect x="176.6" y="467.6" width="1.0" height="1.0" fill-opacity="0.54"/><rect x="178.8" y="394.7" width="1.0" height="1.0" fill-opacity="0.30"/><rect x="180.5" y="469.1" width="1.0" height="1.0" fill-opacity="0.50"/><rect x="190.5" y="459.5" width="1.0" height="1.0" fill-opacity="0.36"/><rect x="176.5" y="472.9" width="1.0" height="1.0" fill-opacity="0.58"/><rect x="179.7" y="483.0" width="1.0" height="1.0" fill-opacity="0.48"/><rect x="172.2" y="473.0" width="1.0" height="1.0" fill-opacity="0.22"/><rect x="172.0" y="432.8" width="1.0" height="1.0" fill-opacity="0.40"/><rect x="177.1" y="402.8" width="1.0" height="1.0" fill-opacity="0.48"/><rect x="175.1" y="416.1" width="1.0" height="1.0" fill-opacity="0.42"/><rect x="172.4" y="453.8" width="1.0" height="1.0" fill-opacity="0.22"/><rect x="175.7" y="431.2" width="1.0" height="1.0" fill-opacity="0.28"/><rect x="174.5" y="403.7" width="1.0" height="1.0" fill-opacity="0.30"/><rect x="168.0" y="441.5" width="1.0" height="1.0" fill-opacity="0.38"/><rect x="173.0" y="425.1" width="1.0" height="1.0" fill-opacity="0.26"/><rect x="189.5" y="423.4" width="1.0" height="1.0" fill-opacity="0.53"/><rect x="181.5" y="466.1" width="1.0" height="1.0" fill-opacity="0.44"/><rect x="185.2" y="466.6" width="1.0" height="1.0" fill-opacity="0.53"/><rect x="174.3" y="418.9" width="1.0" height="1.0" fill-opacity="0.22"/><rect x="180.3" y="409.7" width="1.0" height="1.0" fill-opacity="0.48"/><rect x="173.8" y="401.3" width="1.0" height="1.0" fill-opacity="0.35"/><rect x="183.3" y="397.2" width="1.0" height="1.0" fill-opacity="0.20"/><rect x="185.7" y="465.0" width="1.0" height="1.0" fill-opacity="0.59"/><rect x="182.0" y="400.9" width="1.0" height="1.0" fill-opacity="0.40"/><rect x="176.2" y="409.0" width="1.0" height="1.0" fill-opacity="0.57"/><rect x="176.8" y="452.8" width="1.0" height="1.0" fill-opacity="0.57"/><rect x="177.1" y="415.1" width="1.0" height="1.0" fill-opacity="0.21"/><rect x="180.4" y="474.0" width="1.0" height="1.0" fill-opacity="0.32"/><rect x="185.1" y="453.8" width="1.0" height="1.0" fill-opacity="0.27"/><rect x="165.1" y="473.0" width="1.0" height="1.0" fill-opacity="0.50"/><rect x="179.5" y="408.5" width="1.0" height="1.0" fill-opacity="0.35"/><rect x="172.1" y="426.9" width="1.0" height="1.0" fill-opacity="0.53"/><rect x="168.9" y="394.1" width="1.0" height="1.0" fill-opacity="0.53"/><rect x="173.4" y="480.5" width="1.0" height="1.0" fill-opacity="0.58"/><rect x="179.9" y="440.0" width="1.0" height="1.0" fill-opacity="0.43"/><rect x="181.4" y="458.8" width="1.0" height="1.0" fill-opacity="0.27"/><rect x="178.5" y="487.0" width="1.0" height="1.0" fill-opacity="0.38"/><rect x="178.0" y="462.3" width="1.0" height="1.0" fill-opacity="0.20"/><rect x="178.5" y="475.5" width="1.0" height="1.0" fill-opacity="0.31"/><rect x="170.5" y="441.5" width="1.0" height="1.0" fill-opacity="0.37"/><rect x="171.1" y="433.9" width="1.0" height="1.0" fill-opacity="0.56"/><rect x="166.8" y="419.6" width="1.0" height="1.0" fill-opacity="0.38"/><rect x="177.9" y="424.8" width="1.0" height="1.0" fill-opacity="0.33"/><rect x="179.5" y="487.1" width="1.0" height="1.0" fill-opacity="0.56"/><rect x="185.5" y="487.4" width="1.0" height="1.0" fill-opacity="0.52"/><rect x="174.9" y="457.6" width="1.0" height="1.0" fill-opacity="0.44"/><rect x="183.9" y="447.1" width="1.0" height="1.0" fill-opacity="0.46"/><rect x="174.9" y="424.3" width="1.0" height="1.0" fill-opacity="0.55"/><rect x="174.0" y="408.9" width="1.0" height="1.0" fill-opacity="0.23"/><rect x="170.8" y="427.2" width="1.0" height="1.0" fill-opacity="0.43"/><rect x="171.2" y="443.0" width="1.0" height="1.0" fill-opacity="0.25"/><rect x="174.5" y="479.0" width="1.0" height="1.0" fill-opacity="0.42"/><rect x="176.9" y="476.2" width="1.0" height="1.0" fill-opacity="0.41"/><rect x="179.8" y="438.9" width="1.0" height="1.0" fill-opacity="0.42"/><rect x="182.7" y="447.3" width="1.0" height="1.0" fill-opacity="0.44"/><rect x="181.9" y="430.8" width="1.0" height="1.0" fill-opacity="0.23"/><rect x="167.5" y="476.3" width="1.0" height="1.0" fill-opacity="0.50"/><rect x="173.9" y="489.1" width="1.0" height="1.0" fill-opacity="0.49"/><rect x="174.0" y="473.0" width="1.0" height="1.0" fill-opacity="0.58"/><rect x="179.4" y="467.5" width="1.0" height="1.0" fill-opacity="0.25"/><rect x="177.5" y="395.8" width="1.0" height="1.0" fill-opacity="0.21"/><rect x="183.1" y="411.3" width="1.0" height="1.0" fill-opacity="0.32"/><rect x="183.7" y="432.6" width="1.0" height="1.0" fill-opacity="0.55"/><rect x="171.3" y="481.8" width="1.0" height="1.0" fill-opacity="0.55"/><rect x="171.2" y="464.5" width="1.0" height="1.0" fill-opacity="0.47"/><rect x="186.0" y="402.3" width="1.0" height="1.0" fill-opacity="0.35"/><rect x="176.7" y="484.8" width="1.0" height="1.0" fill-opacity="0.44"/><rect x="175.2" y="444.9" width="1.0" height="1.0" fill-opacity="0.52"/><rect x="174.8" y="482.5" width="1.0" height="1.0" fill-opacity="0.28"/><rect x="172.7" y="473.8" width="1.0" height="1.0" fill-opacity="0.43"/><rect x="185.7" y="392.1" width="1.0" height="1.0" fill-opacity="0.27"/><rect x="184.2" y="419.0" width="1.0" height="1.0" fill-opacity="0.47"/><rect x="182.6" y="404.4" width="1.0" height="1.0" fill-opacity="0.48"/><rect x="171.5" y="484.9" width="1.0" height="1.0" fill-opacity="0.21"/><rect x="164.2" y="405.1" width="1.0" height="1.0" fill-opacity="0.52"/><rect x="176.9" y="408.2" width="1.0" height="1.0" fill-opacity="0.53"/><rect x="173.3" y="429.3" width="1.0" height="1.0" fill-opacity="0.54"/><rect x="177.6" y="477.3" width="1.0" height="1.0" fill-opacity="0.44"/><rect x="179.8" y="422.9" width="1.0" height="1.0" fill-opacity="0.44"/><rect x="190.0" y="407.0" width="1.0" height="1.0" fill-opacity="0.34"/><rect x="172.5" y="447.7" width="1.0" height="1.0" fill-opacity="0.20"/><rect x="180.8" y="423.4" width="1.0" height="1.0" fill-opacity="0.21"/><rect x="180.4" y="488.6" width="1.0" height="1.0" fill-opacity="0.47"/><rect x="178.0" y="417.3" width="1.0" height="1.0" fill-opacity="0.40"/><rect x="174.2" y="393.4" width="1.0" height="1.0" fill-opacity="0.42"/><rect x="178.4" y="477.2" width="1.0" height="1.0" fill-opacity="0.45"/><rect x="168.2" y="418.2" width="1.0" height="1.0" fill-opacity="0.52"/><rect x="174.8" y="483.9" width="1.0" height="1.0" fill-opacity="0.51"/><rect x="172.1" y="440.9" width="1.0" height="1.0" fill-opacity="0.45"/><rect x="175.2" y="445.1" width="1.0" height="1.0" fill-opacity="0.33"/><rect x="178.2" y="488.8" width="1.0" height="1.0" fill-opacity="0.39"/><rect x="177.6" y="414.3" width="1.0" height="1.0" fill-opacity="0.25"/><rect x="182.8" y="477.1" width="1.0" height="1.0" fill-opacity="0.38"/><rect x="175.8" y="446.9" width="1.0" height="1.0" fill-opacity="0.23"/><rect x="180.6" y="420.8" width="1.0" height="1.0" fill-opacity="0.49"/><rect x="169.4" y="483.7" width="1.0" height="1.0" fill-opacity="0.43"/><rect x="189.0" y="407.9" width="1.0" height="1.0" fill-opacity="0.43"/><rect x="178.0" y="425.7" width="1.0" height="1.0" fill-opacity="0.55"/><rect x="170.4" y="438.5" width="1.0" height="1.0" fill-opacity="0.56"/><rect x="180.7" y="415.8" width="1.0" height="1.0" fill-opacity="0.31"/><rect x="177.5" y="411.8" width="1.0" height="1.0" fill-opacity="0.36"/><rect x="183.0" y="450.3" width="1.0" height="1.0" fill-opacity="0.28"/><rect x="170.1" y="486.3" width="1.0" height="1.0" fill-opacity="0.44"/><rect x="181.1" y="470.9" width="1.0" height="1.0" fill-opacity="0.25"/><rect x="172.9" y="443.7" width="1.0" height="1.0" fill-opacity="0.55"/><rect x="178.3" y="482.3" width="1.0" height="1.0" fill-opacity="0.50"/><rect x="182.4" y="430.5" width="1.0" height="1.0" fill-opacity="0.47"/><rect x="175.4" y="395.7" width="1.0" height="1.0" fill-opacity="0.45"/><rect x="178.0" y="439.4" width="1.0" height="1.0" fill-opacity="0.44"/><rect x="191.3" y="436.3" width="1.0" height="1.0" fill-opacity="0.43"/><rect x="178.2" y="395.6" width="1.0" height="1.0" fill-opacity="0.45"/><rect x="180.1" y="422.9" width="1.0" height="1.0" fill-opacity="0.26"/><rect x="179.0" y="399.0" width="1.0" height="1.0" fill-opacity="0.53"/><rect x="170.2" y="443.9" width="1.0" height="1.0" fill-opacity="0.46"/><rect x="172.8" y="423.1" width="1.0" height="1.0" fill-opacity="0.50"/><rect x="177.9" y="461.1" width="1.0" height="1.0" fill-opacity="0.32"/><rect x="166.1" y="487.7" width="1.0" height="1.0" fill-opacity="0.38"/><rect x="180.1" y="442.3" width="1.0" height="1.0" fill-opacity="0.20"/><rect x="175.8" y="455.5" width="1.0" height="1.0" fill-opacity="0.51"/><rect x="178.4" y="489.0" width="1.0" height="1.0" fill-opacity="0.24"/><rect x="187.5" y="403.4" width="1.0" height="1.0" fill-opacity="0.22"/><rect x="183.2" y="445.5" width="1.0" height="1.0" fill-opacity="0.35"/><rect x="190.6" y="407.7" width="1.0" height="1.0" fill-opacity="0.50"/><rect x="187.8" y="406.2" width="1.0" height="1.0" fill-opacity="0.30"/><rect x="179.0" y="439.9" width="1.0" height="1.0" fill-opacity="0.45"/><rect x="171.6" y="470.1" width="1.0" height="1.0" fill-opacity="0.56"/><rect x="178.4" y="463.3" width="1.0" height="1.0" fill-opacity="0.23"/><rect x="178.5" y="430.2" width="1.0" height="1.0" fill-opacity="0.43"/><rect x="175.3" y="481.9" width="1.0" height="1.0" fill-opacity="0.58"/><rect x="176.9" y="412.4" width="1.0" height="1.0" fill-opacity="0.37"/><rect x="181.9" y="410.3" width="1.0" height="1.0" fill-opacity="0.50"/><rect x="181.4" y="419.8" width="1.0" height="1.0" fill-opacity="0.43"/><rect x="176.8" y="476.3" width="1.0" height="1.0" fill-opacity="0.55"/><rect x="179.3" y="465.2" width="1.0" height="1.0" fill-opacity="0.33"/><rect x="172.4" y="479.1" width="1.0" height="1.0" fill-opacity="0.26"/><rect x="169.1" y="449.8" width="1.0" height="1.0" fill-opacity="0.55"/><rect x="179.4" y="478.4" width="1.0" height="1.0" fill-opacity="0.34"/><rect x="182.2" y="476.3" width="1.0" height="1.0" fill-opacity="0.60"/><rect x="188.5" y="392.4" width="1.0" height="1.0" fill-opacity="0.24"/><rect x="180.1" y="390.9" width="1.0" height="1.0" fill-opacity="0.49"/><rect x="175.1" y="406.9" width="1.0" height="1.0" fill-opacity="0.47"/><rect x="185.7" y="424.0" width="1.0" height="1.0" fill-opacity="0.55"/><rect x="172.1" y="393.3" width="1.0" height="1.0" fill-opacity="0.29"/><rect x="184.3" y="458.9" width="1.0" height="1.0" fill-opacity="0.29"/><rect x="178.8" y="400.5" width="1.0" height="1.0" fill-opacity="0.21"/><rect x="179.3" y="421.6" width="1.0" height="1.0" fill-opacity="0.39"/><rect x="174.8" y="432.8" width="1.0" height="1.0" fill-opacity="0.27"/><rect x="176.5" y="404.8" width="1.0" height="1.0" fill-opacity="0.24"/><rect x="169.6" y="439.6" width="1.0" height="1.0" fill-opacity="0.57"/><rect x="189.8" y="411.5" width="1.0" height="1.0" fill-opacity="0.49"/><rect x="174.4" y="407.7" width="1.0" height="1.0" fill-opacity="0.31"/><rect x="170.6" y="394.3" width="1.0" height="1.0" fill-opacity="0.42"/><rect x="176.6" y="391.1" width="1.0" height="1.0" fill-opacity="0.48"/><rect x="167.8" y="444.4" width="1.0" height="1.0" fill-opacity="0.59"/><rect x="174.1" y="461.8" width="1.0" height="1.0" fill-opacity="0.36"/><rect x="183.1" y="431.9" width="1.0" height="1.0" fill-opacity="0.35"/><rect x="175.9" y="404.3" width="1.0" height="1.0" fill-opacity="0.60"/><rect x="181.3" y="450.8" width="1.0" height="1.0" fill-opacity="0.44"/><rect x="174.8" y="414.1" width="1.0" height="1.0" fill-opacity="0.28"/><rect x="179.9" y="474.3" width="1.0" height="1.0" fill-opacity="0.22"/><rect x="163.5" y="422.4" width="1.0" height="1.0" fill-opacity="0.46"/><rect x="177.3" y="421.6" width="1.0" height="1.0" fill-opacity="0.50"/><rect x="177.0" y="441.0" width="1.0" height="1.0" fill-opacity="0.44"/><rect x="169.9" y="413.4" width="1.0" height="1.0" fill-opacity="0.35"/><rect x="169.4" y="429.4" width="1.0" height="1.0" fill-opacity="0.41"/><rect x="173.1" y="457.7" width="1.0" height="1.0" fill-opacity="0.42"/><rect x="185.0" y="451.3" width="1.0" height="1.0" fill-opacity="0.31"/><rect x="175.6" y="437.3" width="1.0" height="1.0" fill-opacity="0.39"/><rect x="169.5" y="404.2" width="1.0" height="1.0" fill-opacity="0.57"/><rect x="165.6" y="442.4" width="1.0" height="1.0" fill-opacity="0.30"/><rect x="175.0" y="472.2" width="1.0" height="1.0" fill-opacity="0.38"/><rect x="187.0" y="472.7" width="1.0" height="1.0" fill-opacity="0.22"/><rect x="169.2" y="473.2" width="1.0" height="1.0" fill-opacity="0.53"/><rect x="177.0" y="405.4" width="1.0" height="1.0" fill-opacity="0.34"/><rect x="179.9" y="442.1" width="1.0" height="1.0" fill-opacity="0.38"/><rect x="186.7" y="429.6" width="1.0" height="1.0" fill-opacity="0.38"/><rect x="176.8" y="469.8" width="1.0" height="1.0" fill-opacity="0.50"/><rect x="171.9" y="458.0" width="1.0" height="1.0" fill-opacity="0.30"/><rect x="182.7" y="424.0" width="1.0" height="1.0" fill-opacity="0.35"/><rect x="175.0" y="410.1" width="1.0" height="1.0" fill-opacity="0.27"/><rect x="176.1" y="417.5" width="1.0" height="1.0" fill-opacity="0.33"/><rect x="184.5" y="473.4" width="1.0" height="1.0" fill-opacity="0.54"/><rect x="181.9" y="432.3" width="1.0" height="1.0" fill-opacity="0.52"/><rect x="183.6" y="427.2" width="1.0" height="1.0" fill-opacity="0.35"/><rect x="178.9" y="419.5" width="1.0" height="1.0" fill-opacity="0.36"/><rect x="173.3" y="471.1" width="1.0" height="1.0" fill-opacity="0.43"/><rect x="182.0" y="409.2" width="1.0" height="1.0" fill-opacity="0.59"/><rect x="174.2" y="427.2" width="1.0" height="1.0" fill-opacity="0.23"/><rect x="172.1" y="427.9" width="1.0" height="1.0" fill-opacity="0.41"/><rect x="177.1" y="480.1" width="1.0" height="1.0" fill-opacity="0.44"/><rect x="175.6" y="436.2" width="1.0" height="1.0" fill-opacity="0.54"/><rect x="182.2" y="437.4" width="1.0" height="1.0" fill-opacity="0.40"/><rect x="172.7" y="472.5" width="1.0" height="1.0" fill-opacity="0.47"/><rect x="186.2" y="430.2" width="1.0" height="1.0" fill-opacity="0.42"/><rect x="179.4" y="467.0" width="1.0" height="1.0" fill-opacity="0.25"/><rect x="178.2" y="397.7" width="1.0" height="1.0" fill-opacity="0.24"/><rect x="174.3" y="446.4" width="1.0" height="1.0" fill-opacity="0.22"/><rect x="174.9" y="461.1" width="1.0" height="1.0" fill-opacity="0.48"/><rect x="177.2" y="448.4" width="1.0" height="1.0" fill-opacity="0.60"/><rect x="180.5" y="477.2" width="1.0" height="1.0" fill-opacity="0.41"/><rect x="181.5" y="488.9" width="1.0" height="1.0" fill-opacity="0.31"/><rect x="176.6" y="421.3" width="1.0" height="1.0" fill-opacity="0.42"/><rect x="189.5" y="432.0" width="1.0" height="1.0" fill-opacity="0.22"/><rect x="181.0" y="476.7" width="1.0" height="1.0" fill-opacity="0.30"/><rect x="165.2" y="395.2" width="1.0" height="1.0" fill-opacity="0.41"/><rect x="220.7" y="436.4" width="1.0" height="1.0" fill-opacity="0.33"/><rect x="229.6" y="410.0" width="1.0" height="1.0" fill-opacity="0.52"/><rect x="225.9" y="395.1" width="1.0" height="1.0" fill-opacity="0.34"/><rect x="236.1" y="422.4" width="1.0" height="1.0" fill-opacity="0.30"/><rect x="226.2" y="419.2" width="1.0" height="1.0" fill-opacity="0.41"/><rect x="218.0" y="483.5" width="1.0" height="1.0" fill-opacity="0.36"/><rect x="220.8" y="395.8" width="1.0" height="1.0" fill-opacity="0.22"/><rect x="232.6" y="397.2" width="1.0" height="1.0" fill-opacity="0.41"/><rect x="218.5" y="482.2" width="1.0" height="1.0" fill-opacity="0.37"/><rect x="224.8" y="457.5" width="1.0" height="1.0" fill-opacity="0.30"/><rect x="237.6" y="473.8" width="1.0" height="1.0" fill-opacity="0.27"/><rect x="240.2" y="399.5" width="1.0" height="1.0" fill-opacity="0.47"/><rect x="226.4" y="431.5" width="1.0" height="1.0" fill-opacity="0.52"/><rect x="224.9" y="405.5" width="1.0" height="1.0" fill-opacity="0.22"/><rect x="231.7" y="394.2" width="1.0" height="1.0" fill-opacity="0.28"/><rect x="224.5" y="421.9" width="1.0" height="1.0" fill-opacity="0.40"/><rect x="223.6" y="481.2" width="1.0" height="1.0" fill-opacity="0.25"/><rect x="239.8" y="488.0" width="1.0" height="1.0" fill-opacity="0.34"/><rect x="226.2" y="428.0" width="1.0" height="1.0" fill-opacity="0.39"/><rect x="225.5" y="436.4" width="1.0" height="1.0" fill-opacity="0.45"/><rect x="237.9" y="457.9" width="1.0" height="1.0" fill-opacity="0.24"/><rect x="236.8" y="489.6" width="1.0" height="1.0" fill-opacity="0.53"/><rect x="222.9" y="419.1" width="1.0" height="1.0" fill-opacity="0.37"/><rect x="237.6" y="399.3" width="1.0" height="1.0" fill-opacity="0.37"/><rect x="226.4" y="449.8" width="1.0" height="1.0" fill-opacity="0.25"/><rect x="228.3" y="479.3" width="1.0" height="1.0" fill-opacity="0.50"/><rect x="237.3" y="482.5" width="1.0" height="1.0" fill-opacity="0.54"/><rect x="230.7" y="484.4" width="1.0" height="1.0" fill-opacity="0.43"/><rect x="224.5" y="423.3" width="1.0" height="1.0" fill-opacity="0.46"/><rect x="230.5" y="468.8" width="1.0" height="1.0" fill-opacity="0.30"/><rect x="235.6" y="445.9" width="1.0" height="1.0" fill-opacity="0.48"/><rect x="233.5" y="436.1" width="1.0" height="1.0" fill-opacity="0.21"/><rect x="227.0" y="399.7" width="1.0" height="1.0" fill-opacity="0.40"/><rect x="226.3" y="427.5" width="1.0" height="1.0" fill-opacity="0.43"/><rect x="234.3" y="407.0" width="1.0" height="1.0" fill-opacity="0.49"/><rect x="227.0" y="438.0" width="1.0" height="1.0" fill-opacity="0.25"/><rect x="234.5" y="477.9" width="1.0" height="1.0" fill-opacity="0.39"/><rect x="233.9" y="436.8" width="1.0" height="1.0" fill-opacity="0.26"/><rect x="226.2" y="440.7" width="1.0" height="1.0" fill-opacity="0.34"/><rect x="232.1" y="402.7" width="1.0" height="1.0" fill-opacity="0.28"/><rect x="229.8" y="440.2" width="1.0" height="1.0" fill-opacity="0.53"/><rect x="228.3" y="469.1" width="1.0" height="1.0" fill-opacity="0.40"/><rect x="229.0" y="412.9" width="1.0" height="1.0" fill-opacity="0.29"/><rect x="225.4" y="429.3" width="1.0" height="1.0" fill-opacity="0.38"/><rect x="236.1" y="479.1" width="1.0" height="1.0" fill-opacity="0.28"/><rect x="233.2" y="468.4" width="1.0" height="1.0" fill-opacity="0.45"/><rect x="214.4" y="414.6" width="1.0" height="1.0" fill-opacity="0.21"/><rect x="218.5" y="459.2" width="1.0" height="1.0" fill-opacity="0.49"/><rect x="215.2" y="471.1" width="1.0" height="1.0" fill-opacity="0.20"/><rect x="232.4" y="431.2" width="1.0" height="1.0" fill-opacity="0.34"/><rect x="228.0" y="414.5" width="1.0" height="1.0" fill-opacity="0.25"/><rect x="219.6" y="404.0" width="1.0" height="1.0" fill-opacity="0.27"/><rect x="225.7" y="438.0" width="1.0" height="1.0" fill-opacity="0.37"/><rect x="229.1" y="480.8" width="1.0" height="1.0" fill-opacity="0.27"/><rect x="220.0" y="474.6" width="1.0" height="1.0" fill-opacity="0.48"/><rect x="226.8" y="461.7" width="1.0" height="1.0" fill-opacity="0.54"/><rect x="232.0" y="464.6" width="1.0" height="1.0" fill-opacity="0.25"/><rect x="237.6" y="483.7" width="1.0" height="1.0" fill-opacity="0.49"/><rect x="223.1" y="449.0" width="1.0" height="1.0" fill-opacity="0.35"/><rect x="232.7" y="468.4" width="1.0" height="1.0" fill-opacity="0.54"/><rect x="225.1" y="484.6" width="1.0" height="1.0" fill-opacity="0.24"/><rect x="228.8" y="468.7" width="1.0" height="1.0" fill-opacity="0.28"/><rect x="241.0" y="435.8" width="1.0" height="1.0" fill-opacity="0.28"/><rect x="225.1" y="480.8" width="1.0" height="1.0" fill-opacity="0.34"/><rect x="219.9" y="469.4" width="1.0" height="1.0" fill-opacity="0.44"/><rect x="226.8" y="472.6" width="1.0" height="1.0" fill-opacity="0.43"/><rect x="230.5" y="424.0" width="1.0" height="1.0" fill-opacity="0.41"/><rect x="236.3" y="469.3" width="1.0" height="1.0" fill-opacity="0.21"/><rect x="229.2" y="471.2" width="1.0" height="1.0" fill-opacity="0.35"/><rect x="226.8" y="435.7" width="1.0" height="1.0" fill-opacity="0.32"/><rect x="232.8" y="451.9" width="1.0" height="1.0" fill-opacity="0.30"/><rect x="226.9" y="417.1" width="1.0" height="1.0" fill-opacity="0.43"/><rect x="222.5" y="402.1" width="1.0" height="1.0" fill-opacity="0.44"/><rect x="231.0" y="472.3" width="1.0" height="1.0" fill-opacity="0.54"/><rect x="233.6" y="412.4" width="1.0" height="1.0" fill-opacity="0.51"/><rect x="223.2" y="479.4" width="1.0" height="1.0" fill-opacity="0.53"/><rect x="233.6" y="488.9" width="1.0" height="1.0" fill-opacity="0.27"/><rect x="228.8" y="406.2" width="1.0" height="1.0" fill-opacity="0.26"/><rect x="229.0" y="435.5" width="1.0" height="1.0" fill-opacity="0.48"/><rect x="235.4" y="425.2" width="1.0" height="1.0" fill-opacity="0.50"/><rect x="233.7" y="427.7" width="1.0" height="1.0" fill-opacity="0.53"/><rect x="236.8" y="456.6" width="1.0" height="1.0" fill-opacity="0.36"/><rect x="233.0" y="426.2" width="1.0" height="1.0" fill-opacity="0.43"/><rect x="219.6" y="427.6" width="1.0" height="1.0" fill-opacity="0.52"/><rect x="227.7" y="426.4" width="1.0" height="1.0" fill-opacity="0.54"/><rect x="225.7" y="473.5" width="1.0" height="1.0" fill-opacity="0.36"/><rect x="221.6" y="479.1" width="1.0" height="1.0" fill-opacity="0.46"/><rect x="227.4" y="393.5" width="1.0" height="1.0" fill-opacity="0.53"/><rect x="232.0" y="404.5" width="1.0" height="1.0" fill-opacity="0.41"/><rect x="220.9" y="394.7" width="1.0" height="1.0" fill-opacity="0.42"/><rect x="235.5" y="466.2" width="1.0" height="1.0" fill-opacity="0.30"/><rect x="238.0" y="432.1" width="1.0" height="1.0" fill-opacity="0.48"/><rect x="227.8" y="428.0" width="1.0" height="1.0" fill-opacity="0.54"/><rect x="228.4" y="459.1" width="1.0" height="1.0" fill-opacity="0.40"/><rect x="232.7" y="469.4" width="1.0" height="1.0" fill-opacity="0.32"/><rect x="231.7" y="441.6" width="1.0" height="1.0" fill-opacity="0.46"/><rect x="226.4" y="421.2" width="1.0" height="1.0" fill-opacity="0.22"/><rect x="225.7" y="420.9" width="1.0" height="1.0" fill-opacity="0.53"/><rect x="226.2" y="422.1" width="1.0" height="1.0" fill-opacity="0.29"/><rect x="230.1" y="428.6" width="1.0" height="1.0" fill-opacity="0.54"/><rect x="234.8" y="410.4" width="1.0" height="1.0" fill-opacity="0.49"/><rect x="225.3" y="467.9" width="1.0" height="1.0" fill-opacity="0.31"/><rect x="221.1" y="465.7" width="1.0" height="1.0" fill-opacity="0.43"/><rect x="230.5" y="417.5" width="1.0" height="1.0" fill-opacity="0.33"/><rect x="226.9" y="442.9" width="1.0" height="1.0" fill-opacity="0.29"/><rect x="237.6" y="394.1" width="1.0" height="1.0" fill-opacity="0.49"/><rect x="233.6" y="425.4" width="1.0" height="1.0" fill-opacity="0.29"/><rect x="227.2" y="444.9" width="1.0" height="1.0" fill-opacity="0.46"/><rect x="230.1" y="431.3" width="1.0" height="1.0" fill-opacity="0.31"/><rect x="226.1" y="486.7" width="1.0" height="1.0" fill-opacity="0.42"/><rect x="217.2" y="467.5" width="1.0" height="1.0" fill-opacity="0.46"/><rect x="238.2" y="429.3" width="1.0" height="1.0" fill-opacity="0.48"/><rect x="234.4" y="408.6" width="1.0" height="1.0" fill-opacity="0.38"/><rect x="223.4" y="480.2" width="1.0" height="1.0" fill-opacity="0.25"/><rect x="222.6" y="396.6" width="1.0" height="1.0" fill-opacity="0.50"/><rect x="232.9" y="447.8" width="1.0" height="1.0" fill-opacity="0.34"/><rect x="235.2" y="417.4" width="1.0" height="1.0" fill-opacity="0.49"/><rect x="219.8" y="457.2" width="1.0" height="1.0" fill-opacity="0.46"/><rect x="237.4" y="479.8" width="1.0" height="1.0" fill-opacity="0.49"/><rect x="222.8" y="477.9" width="1.0" height="1.0" fill-opacity="0.25"/><rect x="225.2" y="460.4" width="1.0" height="1.0" fill-opacity="0.22"/><rect x="225.7" y="472.4" width="1.0" height="1.0" fill-opacity="0.30"/><rect x="236.9" y="412.4" width="1.0" height="1.0" fill-opacity="0.54"/><rect x="234.3" y="426.0" width="1.0" height="1.0" fill-opacity="0.44"/><rect x="228.8" y="473.9" width="1.0" height="1.0" fill-opacity="0.42"/><rect x="229.5" y="417.5" width="1.0" height="1.0" fill-opacity="0.22"/><rect x="229.6" y="445.5" width="1.0" height="1.0" fill-opacity="0.49"/><rect x="227.3" y="412.4" width="1.0" height="1.0" fill-opacity="0.42"/><rect x="225.0" y="423.1" width="1.0" height="1.0" fill-opacity="0.48"/><rect x="227.2" y="473.9" width="1.0" height="1.0" fill-opacity="0.48"/><rect x="229.3" y="393.0" width="1.0" height="1.0" fill-opacity="0.38"/><rect x="227.5" y="396.3" width="1.0" height="1.0" fill-opacity="0.42"/><rect x="222.9" y="448.5" width="1.0" height="1.0" fill-opacity="0.41"/><rect x="233.4" y="476.8" width="1.0" height="1.0" fill-opacity="0.55"/><rect x="220.2" y="486.1" width="1.0" height="1.0" fill-opacity="0.22"/><rect x="227.2" y="458.3" width="1.0" height="1.0" fill-opacity="0.32"/><rect x="222.3" y="430.3" width="1.0" height="1.0" fill-opacity="0.30"/><rect x="222.3" y="463.6" width="1.0" height="1.0" fill-opacity="0.27"/><rect x="228.3" y="409.7" width="1.0" height="1.0" fill-opacity="0.29"/><rect x="239.3" y="460.1" width="1.0" height="1.0" fill-opacity="0.53"/><rect x="227.2" y="462.3" width="1.0" height="1.0" fill-opacity="0.45"/><rect x="241.5" y="410.6" width="1.0" height="1.0" fill-opacity="0.45"/><rect x="230.0" y="416.4" width="1.0" height="1.0" fill-opacity="0.32"/><rect x="234.4" y="453.2" width="1.0" height="1.0" fill-opacity="0.22"/><rect x="228.7" y="425.5" width="1.0" height="1.0" fill-opacity="0.51"/><rect x="231.4" y="435.5" width="1.0" height="1.0" fill-opacity="0.25"/><rect x="230.8" y="437.1" width="1.0" height="1.0" fill-opacity="0.55"/><rect x="217.4" y="469.5" width="1.0" height="1.0" fill-opacity="0.24"/><rect x="230.7" y="446.3" width="1.0" height="1.0" fill-opacity="0.38"/><rect x="242.7" y="415.2" width="1.0" height="1.0" fill-opacity="0.45"/><rect x="230.8" y="488.1" width="1.0" height="1.0" fill-opacity="0.35"/><rect x="233.6" y="428.4" width="1.0" height="1.0" fill-opacity="0.25"/><rect x="217.8" y="411.4" width="1.0" height="1.0" fill-opacity="0.40"/><rect x="234.3" y="390.9" width="1.0" height="1.0" fill-opacity="0.36"/><rect x="219.3" y="478.9" width="1.0" height="1.0" fill-opacity="0.39"/><rect x="219.7" y="422.3" width="1.0" height="1.0" fill-opacity="0.37"/><rect x="219.8" y="410.6" width="1.0" height="1.0" fill-opacity="0.29"/><rect x="235.7" y="428.3" width="1.0" height="1.0" fill-opacity="0.24"/><rect x="234.1" y="435.6" width="1.0" height="1.0" fill-opacity="0.40"/><rect x="226.8" y="460.7" width="1.0" height="1.0" fill-opacity="0.45"/><rect x="229.9" y="437.1" width="1.0" height="1.0" fill-opacity="0.34"/><rect x="229.6" y="461.4" width="1.0" height="1.0" fill-opacity="0.44"/><rect x="238.1" y="404.2" width="1.0" height="1.0" fill-opacity="0.52"/><rect x="230.3" y="396.3" width="1.0" height="1.0" fill-opacity="0.28"/><rect x="228.9" y="453.4" width="1.0" height="1.0" fill-opacity="0.23"/><rect x="227.2" y="470.3" width="1.0" height="1.0" fill-opacity="0.21"/><rect x="233.0" y="414.0" width="1.0" height="1.0" fill-opacity="0.44"/><rect x="227.1" y="453.9" width="1.0" height="1.0" fill-opacity="0.52"/><rect x="239.5" y="405.3" width="1.0" height="1.0" fill-opacity="0.24"/><rect x="230.2" y="461.0" width="1.0" height="1.0" fill-opacity="0.27"/><rect x="226.0" y="406.3" width="1.0" height="1.0" fill-opacity="0.48"/><rect x="228.8" y="481.6" width="1.0" height="1.0" fill-opacity="0.20"/><rect x="232.2" y="445.6" width="1.0" height="1.0" fill-opacity="0.42"/><rect x="222.3" y="470.0" width="1.0" height="1.0" fill-opacity="0.23"/><rect x="227.4" y="444.5" width="1.0" height="1.0" fill-opacity="0.20"/><rect x="235.1" y="392.4" width="1.0" height="1.0" fill-opacity="0.49"/><rect x="235.6" y="435.8" width="1.0" height="1.0" fill-opacity="0.27"/><rect x="235.3" y="401.0" width="1.0" height="1.0" fill-opacity="0.54"/><rect x="237.5" y="425.3" width="1.0" height="1.0" fill-opacity="0.50"/><rect x="234.7" y="400.1" width="1.0" height="1.0" fill-opacity="0.33"/><rect x="234.2" y="466.2" width="1.0" height="1.0" fill-opacity="0.54"/><rect x="235.9" y="390.7" width="1.0" height="1.0" fill-opacity="0.23"/><rect x="222.8" y="459.2" width="1.0" height="1.0" fill-opacity="0.36"/><rect x="224.6" y="451.1" width="1.0" height="1.0" fill-opacity="0.43"/><rect x="233.0" y="463.3" width="1.0" height="1.0" fill-opacity="0.49"/><rect x="215.7" y="393.1" width="1.0" height="1.0" fill-opacity="0.44"/><rect x="231.9" y="433.1" width="1.0" height="1.0" fill-opacity="0.53"/><rect x="226.3" y="460.6" width="1.0" height="1.0" fill-opacity="0.29"/><rect x="227.7" y="424.8" width="1.0" height="1.0" fill-opacity="0.36"/><rect x="231.5" y="455.4" width="1.0" height="1.0" fill-opacity="0.53"/><rect x="239.5" y="473.7" width="1.0" height="1.0" fill-opacity="0.30"/><rect x="228.6" y="431.2" width="1.0" height="1.0" fill-opacity="0.21"/><rect x="233.9" y="478.6" width="1.0" height="1.0" fill-opacity="0.47"/><rect x="226.3" y="479.0" width="1.0" height="1.0" fill-opacity="0.48"/><rect x="231.5" y="400.5" width="1.0" height="1.0" fill-opacity="0.42"/><rect x="224.1" y="443.7" width="1.0" height="1.0" fill-opacity="0.54"/><rect x="224.4" y="443.1" width="1.0" height="1.0" fill-opacity="0.53"/><rect x="222.7" y="481.4" width="1.0" height="1.0" fill-opacity="0.44"/><rect x="230.2" y="399.0" width="1.0" height="1.0" fill-opacity="0.52"/><rect x="234.0" y="416.0" width="1.0" height="1.0" fill-opacity="0.45"/><rect x="220.1" y="407.6" width="1.0" height="1.0" fill-opacity="0.44"/><rect x="232.6" y="465.3" width="1.0" height="1.0" fill-opacity="0.29"/><rect x="227.4" y="392.8" width="1.0" height="1.0" fill-opacity="0.29"/><rect x="225.0" y="454.3" width="1.0" height="1.0" fill-opacity="0.41"/><rect x="227.2" y="449.8" width="1.0" height="1.0" fill-opacity="0.22"/><rect x="224.0" y="391.5" width="1.0" height="1.0" fill-opacity="0.33"/><rect x="229.7" y="417.3" width="1.0" height="1.0" fill-opacity="0.47"/><rect x="226.9" y="400.0" width="1.0" height="1.0" fill-opacity="0.44"/><rect x="235.1" y="462.8" width="1.0" height="1.0" fill-opacity="0.23"/><rect x="229.8" y="424.2" width="1.0" height="1.0" fill-opacity="0.49"/><rect x="227.6" y="475.5" width="1.0" height="1.0" fill-opacity="0.48"/><rect x="233.1" y="417.8" width="1.0" height="1.0" fill-opacity="0.52"/><rect x="229.3" y="455.9" width="1.0" height="1.0" fill-opacity="0.41"/><rect x="230.8" y="408.1" width="1.0" height="1.0" fill-opacity="0.54"/><rect x="231.2" y="455.2" width="1.0" height="1.0" fill-opacity="0.40"/><rect x="241.3" y="396.5" width="1.0" height="1.0" fill-opacity="0.25"/><rect x="230.1" y="426.4" width="1.0" height="1.0" fill-opacity="0.45"/><rect x="228.9" y="468.8" width="1.0" height="1.0" fill-opacity="0.38"/><rect x="235.0" y="414.8" width="1.0" height="1.0" fill-opacity="0.48"/><rect x="229.4" y="428.1" width="1.0" height="1.0" fill-opacity="0.27"/><rect x="224.5" y="428.4" width="1.0" height="1.0" fill-opacity="0.33"/><rect x="230.4" y="437.2" width="1.0" height="1.0" fill-opacity="0.43"/><rect x="227.5" y="413.5" width="1.0" height="1.0" fill-opacity="0.21"/><rect x="219.4" y="401.6" width="1.0" height="1.0" fill-opacity="0.23"/><rect x="231.5" y="438.0" width="1.0" height="1.0" fill-opacity="0.26"/><rect x="230.7" y="434.0" width="1.0" height="1.0" fill-opacity="0.33"/><rect x="230.6" y="483.7" width="1.0" height="1.0" fill-opacity="0.39"/><rect x="228.7" y="412.2" width="1.0" height="1.0" fill-opacity="0.50"/><rect x="220.9" y="475.8" width="1.0" height="1.0" fill-opacity="0.24"/><rect x="229.2" y="442.5" width="1.0" height="1.0" fill-opacity="0.50"/><rect x="232.8" y="398.3" width="1.0" height="1.0" fill-opacity="0.29"/><rect x="228.7" y="436.1" width="1.0" height="1.0" fill-opacity="0.36"/><rect x="226.5" y="410.5" width="1.0" height="1.0" fill-opacity="0.43"/><rect x="236.2" y="402.0" width="1.0" height="1.0" fill-opacity="0.26"/><rect x="228.3" y="455.3" width="1.0" height="1.0" fill-opacity="0.38"/><rect x="228.5" y="437.0" width="1.0" height="1.0" fill-opacity="0.28"/><rect x="221.2" y="450.5" width="1.0" height="1.0" fill-opacity="0.43"/><rect x="238.7" y="470.4" width="1.0" height="1.0" fill-opacity="0.50"/><rect x="225.5" y="480.3" width="1.0" height="1.0" fill-opacity="0.26"/><rect x="231.1" y="449.8" width="1.0" height="1.0" fill-opacity="0.28"/><rect x="227.5" y="433.9" width="1.0" height="1.0" fill-opacity="0.25"/><rect x="216.1" y="464.9" width="1.0" height="1.0" fill-opacity="0.34"/><rect x="221.5" y="391.3" width="1.0" height="1.0" fill-opacity="0.53"/><rect x="227.9" y="489.2" width="1.0" height="1.0" fill-opacity="0.42"/><rect x="236.4" y="473.4" width="1.0" height="1.0" fill-opacity="0.36"/><rect x="223.8" y="430.7" width="1.0" height="1.0" fill-opacity="0.21"/><rect x="236.8" y="406.2" width="1.0" height="1.0" fill-opacity="0.49"/><rect x="228.7" y="450.8" width="1.0" height="1.0" fill-opacity="0.40"/><rect x="235.9" y="403.8" width="1.0" height="1.0" fill-opacity="0.28"/><rect x="231.0" y="486.0" width="1.0" height="1.0" fill-opacity="0.38"/><rect x="231.8" y="478.7" width="1.0" height="1.0" fill-opacity="0.22"/><rect x="223.1" y="406.8" width="1.0" height="1.0" fill-opacity="0.34"/><rect x="225.5" y="456.2" width="1.0" height="1.0" fill-opacity="0.50"/><rect x="235.0" y="416.9" width="1.0" height="1.0" fill-opacity="0.22"/><rect x="226.7" y="400.4" width="1.0" height="1.0" fill-opacity="0.21"/><rect x="241.5" y="418.9" width="1.0" height="1.0" fill-opacity="0.35"/><rect x="226.4" y="474.9" width="1.0" height="1.0" fill-opacity="0.48"/><rect x="232.5" y="441.3" width="1.0" height="1.0" fill-opacity="0.43"/><rect x="232.1" y="470.1" width="1.0" height="1.0" fill-opacity="0.51"/><rect x="240.9" y="409.3" width="1.0" height="1.0" fill-opacity="0.40"/><rect x="235.2" y="459.2" width="1.0" height="1.0" fill-opacity="0.29"/><rect x="219.6" y="426.6" width="1.0" height="1.0" fill-opacity="0.23"/><rect x="227.6" y="452.4" width="1.0" height="1.0" fill-opacity="0.37"/><rect x="236.1" y="470.0" width="1.0" height="1.0" fill-opacity="0.44"/><rect x="229.4" y="454.8" width="1.0" height="1.0" fill-opacity="0.26"/><rect x="229.7" y="468.6" width="1.0" height="1.0" fill-opacity="0.54"/><rect x="235.6" y="430.9" width="1.0" height="1.0" fill-opacity="0.54"/><rect x="228.5" y="413.2" width="1.0" height="1.0" fill-opacity="0.43"/><rect x="223.1" y="402.8" width="1.0" height="1.0" fill-opacity="0.28"/><rect x="232.3" y="416.6" width="1.0" height="1.0" fill-opacity="0.34"/><rect x="229.8" y="397.8" width="1.0" height="1.0" fill-opacity="0.40"/><rect x="222.9" y="447.7" width="1.0" height="1.0" fill-opacity="0.35"/><rect x="236.7" y="438.2" width="1.0" height="1.0" fill-opacity="0.21"/><rect x="218.0" y="406.1" width="1.0" height="1.0" fill-opacity="0.47"/><rect x="240.8" y="454.2" width="1.0" height="1.0" fill-opacity="0.42"/><rect x="232.6" y="486.6" width="1.0" height="1.0" fill-opacity="0.31"/><rect x="239.1" y="472.2" width="1.0" height="1.0" fill-opacity="0.41"/><rect x="225.4" y="477.5" width="1.0" height="1.0" fill-opacity="0.21"/><rect x="226.8" y="462.6" width="1.0" height="1.0" fill-opacity="0.30"/><rect x="233.5" y="390.5" width="1.0" height="1.0" fill-opacity="0.20"/><rect x="237.6" y="416.5" width="1.0" height="1.0" fill-opacity="0.45"/><rect x="240.1" y="391.9" width="1.0" height="1.0" fill-opacity="0.54"/><rect x="238.7" y="423.5" width="1.0" height="1.0" fill-opacity="0.38"/><rect x="224.2" y="431.7" width="1.0" height="1.0" fill-opacity="0.22"/><rect x="229.6" y="406.2" width="1.0" height="1.0" fill-opacity="0.23"/><rect x="228.1" y="459.7" width="1.0" height="1.0" fill-opacity="0.46"/><rect x="240.1" y="439.2" width="1.0" height="1.0" fill-opacity="0.27"/><rect x="232.5" y="446.0" width="1.0" height="1.0" fill-opacity="0.44"/><rect x="230.2" y="461.7" width="1.0" height="1.0" fill-opacity="0.28"/><rect x="235.9" y="470.2" width="1.0" height="1.0" fill-opacity="0.27"/><rect x="233.7" y="470.4" width="1.0" height="1.0" fill-opacity="0.48"/><rect x="224.8" y="399.3" width="1.0" height="1.0" fill-opacity="0.25"/><rect x="222.0" y="448.2" width="1.0" height="1.0" fill-opacity="0.24"/><rect x="228.6" y="414.1" width="1.0" height="1.0" fill-opacity="0.39"/><rect x="235.6" y="393.1" width="1.0" height="1.0" fill-opacity="0.45"/><rect x="222.8" y="419.1" width="1.0" height="1.0" fill-opacity="0.42"/><rect x="221.6" y="410.5" width="1.0" height="1.0" fill-opacity="0.31"/><rect x="231.5" y="416.1" width="1.0" height="1.0" fill-opacity="0.47"/><rect x="232.8" y="461.6" width="1.0" height="1.0" fill-opacity="0.54"/><rect x="225.0" y="421.0" width="1.0" height="1.0" fill-opacity="0.22"/><rect x="238.2" y="398.9" width="1.0" height="1.0" fill-opacity="0.22"/><rect x="240.7" y="405.1" width="1.0" height="1.0" fill-opacity="0.36"/><rect x="223.6" y="402.0" width="1.0" height="1.0" fill-opacity="0.38"/><rect x="227.4" y="426.3" width="1.0" height="1.0" fill-opacity="0.47"/><rect x="221.4" y="397.0" width="1.0" height="1.0" fill-opacity="0.34"/><rect x="226.8" y="415.3" width="1.0" height="1.0" fill-opacity="0.31"/><rect x="225.1" y="461.2" width="1.0" height="1.0" fill-opacity="0.47"/><rect x="242.2" y="434.7" width="1.0" height="1.0" fill-opacity="0.42"/><rect x="222.5" y="435.6" width="1.0" height="1.0" fill-opacity="0.42"/><rect x="242.7" y="393.7" width="1.0" height="1.0" fill-opacity="0.25"/><rect x="227.4" y="451.9" width="1.0" height="1.0" fill-opacity="0.30"/><rect x="229.9" y="465.1" width="1.0" height="1.0" fill-opacity="0.23"/><rect x="222.3" y="399.4" width="1.0" height="1.0" fill-opacity="0.54"/><rect x="229.4" y="418.8" width="1.0" height="1.0" fill-opacity="0.24"/><rect x="225.6" y="406.4" width="1.0" height="1.0" fill-opacity="0.39"/><rect x="233.9" y="406.9" width="1.0" height="1.0" fill-opacity="0.35"/><rect x="238.5" y="402.3" width="1.0" height="1.0" fill-opacity="0.28"/><rect x="228.4" y="401.7" width="1.0" height="1.0" fill-opacity="0.51"/><rect x="239.3" y="437.3" width="1.0" height="1.0" fill-opacity="0.53"/><rect x="219.2" y="418.9" width="1.0" height="1.0" fill-opacity="0.46"/><rect x="231.2" y="409.4" width="1.0" height="1.0" fill-opacity="0.54"/><rect x="226.5" y="471.3" width="1.0" height="1.0" fill-opacity="0.29"/><rect x="233.0" y="489.1" width="1.0" height="1.0" fill-opacity="0.25"/><rect x="233.9" y="422.1" width="1.0" height="1.0" fill-opacity="0.32"/><rect x="238.2" y="431.8" width="1.0" height="1.0" fill-opacity="0.49"/><rect x="239.7" y="447.5" width="1.0" height="1.0" fill-opacity="0.41"/><rect x="229.7" y="485.2" width="1.0" height="1.0" fill-opacity="0.31"/><rect x="228.4" y="471.9" width="1.0" height="1.0" fill-opacity="0.33"/><rect x="235.0" y="427.8" width="1.0" height="1.0" fill-opacity="0.24"/><rect x="221.4" y="481.0" width="1.0" height="1.0" fill-opacity="0.51"/><rect x="233.8" y="414.4" width="1.0" height="1.0" fill-opacity="0.52"/><rect x="227.5" y="489.1" width="1.0" height="1.0" fill-opacity="0.48"/><rect x="218.5" y="455.6" width="1.0" height="1.0" fill-opacity="0.33"/><rect x="223.5" y="403.4" width="1.0" height="1.0" fill-opacity="0.49"/><rect x="227.6" y="474.4" width="1.0" height="1.0" fill-opacity="0.50"/><rect x="238.6" y="403.9" width="1.0" height="1.0" fill-opacity="0.44"/><rect x="225.1" y="394.8" width="1.0" height="1.0" fill-opacity="0.50"/><rect x="223.1" y="435.6" width="1.0" height="1.0" fill-opacity="0.47"/><rect x="238.3" y="411.4" width="1.0" height="1.0" fill-opacity="0.32"/><rect x="228.3" y="400.0" width="1.0" height="1.0" fill-opacity="0.48"/><rect x="230.3" y="397.1" width="1.0" height="1.0" fill-opacity="0.22"/><rect x="222.8" y="409.8" width="1.0" height="1.0" fill-opacity="0.48"/><rect x="230.5" y="421.0" width="1.0" height="1.0" fill-opacity="0.42"/><rect x="237.3" y="437.0" width="1.0" height="1.0" fill-opacity="0.31"/><rect x="223.0" y="447.3" width="1.0" height="1.0" fill-opacity="0.24"/><rect x="221.8" y="472.9" width="1.0" height="1.0" fill-opacity="0.35"/><rect x="228.2" y="456.6" width="1.0" height="1.0" fill-opacity="0.27"/><rect x="238.4" y="426.3" width="1.0" height="1.0" fill-opacity="0.24"/><rect x="226.5" y="393.5" width="1.0" height="1.0" fill-opacity="0.41"/><rect x="226.5" y="461.7" width="1.0" height="1.0" fill-opacity="0.38"/><rect x="230.2" y="468.9" width="1.0" height="1.0" fill-opacity="0.32"/><rect x="230.4" y="464.5" width="1.0" height="1.0" fill-opacity="0.51"/><rect x="224.8" y="433.3" width="1.0" height="1.0" fill-opacity="0.33"/><rect x="230.6" y="483.0" width="1.0" height="1.0" fill-opacity="0.32"/><rect x="234.1" y="408.7" width="1.0" height="1.0" fill-opacity="0.39"/><rect x="238.8" y="456.8" width="1.0" height="1.0" fill-opacity="0.55"/><rect x="241.4" y="469.5" width="1.0" height="1.0" fill-opacity="0.26"/><rect x="229.8" y="445.1" width="1.0" height="1.0" fill-opacity="0.33"/><rect x="216.3" y="410.7" width="1.0" height="1.0" fill-opacity="0.21"/><rect x="241.7" y="479.9" width="1.0" height="1.0" fill-opacity="0.38"/><rect x="219.8" y="446.0" width="1.0" height="1.0" fill-opacity="0.25"/><rect x="221.4" y="470.3" width="1.0" height="1.0" fill-opacity="0.29"/><rect x="232.9" y="432.0" width="1.0" height="1.0" fill-opacity="0.38"/><rect x="234.7" y="399.2" width="1.0" height="1.0" fill-opacity="0.45"/><rect x="229.2" y="413.7" width="1.0" height="1.0" fill-opacity="0.29"/><rect x="218.1" y="407.5" width="1.0" height="1.0" fill-opacity="0.27"/><rect x="220.8" y="462.1" width="1.0" height="1.0" fill-opacity="0.46"/><rect x="227.3" y="461.1" width="1.0" height="1.0" fill-opacity="0.52"/><rect x="240.9" y="484.4" width="1.0" height="1.0" fill-opacity="0.35"/><rect x="231.8" y="397.0" width="1.0" height="1.0" fill-opacity="0.25"/><rect x="219.9" y="453.9" width="1.0" height="1.0" fill-opacity="0.55"/><rect x="229.1" y="466.7" width="1.0" height="1.0" fill-opacity="0.26"/><rect x="233.2" y="451.8" width="1.0" height="1.0" fill-opacity="0.31"/><rect x="232.6" y="411.9" width="1.0" height="1.0" fill-opacity="0.31"/><rect x="231.1" y="408.4" width="1.0" height="1.0" fill-opacity="0.37"/><rect x="230.3" y="409.8" width="1.0" height="1.0" fill-opacity="0.41"/><rect x="237.8" y="406.9" width="1.0" height="1.0" fill-opacity="0.54"/><rect x="233.4" y="425.4" width="1.0" height="1.0" fill-opacity="0.35"/><rect x="226.2" y="459.1" width="1.0" height="1.0" fill-opacity="0.50"/><rect x="231.3" y="390.6" width="1.0" height="1.0" fill-opacity="0.50"/><rect x="219.3" y="425.4" width="1.0" height="1.0" fill-opacity="0.34"/><rect x="218.7" y="419.8" width="1.0" height="1.0" fill-opacity="0.39"/><rect x="232.4" y="463.5" width="1.0" height="1.0" fill-opacity="0.33"/><rect x="227.9" y="469.1" width="1.0" height="1.0" fill-opacity="0.41"/><rect x="236.5" y="424.0" width="1.0" height="1.0" fill-opacity="0.34"/><rect x="226.3" y="401.5" width="1.0" height="1.0" fill-opacity="0.51"/><rect x="225.8" y="392.7" width="1.0" height="1.0" fill-opacity="0.37"/><rect x="235.5" y="479.5" width="1.0" height="1.0" fill-opacity="0.32"/><rect x="224.4" y="482.9" width="1.0" height="1.0" fill-opacity="0.32"/><rect x="223.5" y="450.9" width="1.0" height="1.0" fill-opacity="0.48"/><rect x="224.4" y="427.0" width="1.0" height="1.0" fill-opacity="0.52"/><rect x="232.9" y="417.6" width="1.0" height="1.0" fill-opacity="0.32"/><rect x="228.5" y="406.0" width="1.0" height="1.0" fill-opacity="0.27"/><rect x="227.8" y="470.6" width="1.0" height="1.0" fill-opacity="0.25"/><rect x="228.1" y="395.8" width="1.0" height="1.0" fill-opacity="0.45"/><rect x="239.2" y="484.7" width="1.0" height="1.0" fill-opacity="0.39"/><rect x="235.0" y="399.0" width="1.0" height="1.0" fill-opacity="0.27"/><rect x="226.0" y="475.9" width="1.0" height="1.0" fill-opacity="0.34"/><rect x="229.2" y="477.3" width="1.0" height="1.0" fill-opacity="0.54"/><rect x="220.5" y="395.6" width="1.0" height="1.0" fill-opacity="0.24"/><rect x="226.9" y="460.8" width="1.0" height="1.0" fill-opacity="0.26"/><rect x="226.8" y="450.9" width="1.0" height="1.0" fill-opacity="0.44"/><rect x="235.7" y="426.1" width="1.0" height="1.0" fill-opacity="0.34"/><rect x="228.1" y="413.3" width="1.0" height="1.0" fill-opacity="0.54"/><rect x="230.8" y="460.6" width="1.0" height="1.0" fill-opacity="0.25"/><rect x="232.5" y="463.7" width="1.0" height="1.0" fill-opacity="0.22"/><rect x="235.6" y="458.1" width="1.0" height="1.0" fill-opacity="0.48"/><rect x="230.4" y="435.2" width="1.0" height="1.0" fill-opacity="0.51"/><rect x="217.0" y="423.7" width="1.0" height="1.0" fill-opacity="0.50"/><rect x="238.2" y="446.1" width="1.0" height="1.0" fill-opacity="0.25"/><rect x="228.8" y="428.3" width="1.0" height="1.0" fill-opacity="0.48"/><rect x="228.4" y="441.5" width="1.0" height="1.0" fill-opacity="0.20"/><rect x="225.0" y="431.4" width="1.0" height="1.0" fill-opacity="0.45"/><rect x="221.8" y="486.0" width="1.0" height="1.0" fill-opacity="0.53"/><rect x="226.5" y="451.5" width="1.0" height="1.0" fill-opacity="0.29"/><rect x="234.6" y="469.2" width="1.0" height="1.0" fill-opacity="0.48"/><rect x="226.9" y="489.1" width="1.0" height="1.0" fill-opacity="0.47"/><rect x="223.9" y="451.1" width="1.0" height="1.0" fill-opacity="0.26"/><rect x="226.8" y="438.9" width="1.0" height="1.0" fill-opacity="0.23"/><rect x="243.1" y="465.7" width="1.0" height="1.0" fill-opacity="0.25"/><rect x="236.0" y="447.3" width="1.0" height="1.0" fill-opacity="0.35"/><rect x="224.4" y="398.7" width="1.0" height="1.0" fill-opacity="0.47"/><rect x="238.6" y="417.7" width="1.0" height="1.0" fill-opacity="0.35"/><rect x="237.4" y="415.7" width="1.0" height="1.0" fill-opacity="0.46"/><rect x="218.9" y="399.8" width="1.0" height="1.0" fill-opacity="0.28"/><rect x="229.4" y="417.8" width="1.0" height="1.0" fill-opacity="0.33"/><rect x="235.6" y="484.3" width="1.0" height="1.0" fill-opacity="0.40"/><rect x="228.9" y="465.9" width="1.0" height="1.0" fill-opacity="0.36"/><rect x="235.8" y="430.1" width="1.0" height="1.0" fill-opacity="0.24"/><rect x="226.8" y="404.5" width="1.0" height="1.0" fill-opacity="0.44"/><rect x="219.0" y="488.8" width="1.0" height="1.0" fill-opacity="0.25"/><rect x="226.4" y="427.7" width="1.0" height="1.0" fill-opacity="0.29"/><rect x="226.3" y="393.3" width="1.0" height="1.0" fill-opacity="0.50"/><rect x="229.4" y="393.4" width="1.0" height="1.0" fill-opacity="0.36"/><rect x="228.2" y="461.9" width="1.0" height="1.0" fill-opacity="0.53"/><rect x="223.3" y="403.7" width="1.0" height="1.0" fill-opacity="0.49"/><rect x="223.3" y="408.6" width="1.0" height="1.0" fill-opacity="0.26"/><rect x="229.0" y="437.4" width="1.0" height="1.0" fill-opacity="0.48"/><rect x="231.5" y="481.3" width="1.0" height="1.0" fill-opacity="0.41"/><rect x="242.5" y="467.1" width="1.0" height="1.0" fill-opacity="0.42"/><rect x="226.3" y="475.5" width="1.0" height="1.0" fill-opacity="0.52"/><rect x="230.0" y="458.2" width="1.0" height="1.0" fill-opacity="0.46"/><rect x="236.1" y="436.3" width="1.0" height="1.0" fill-opacity="0.52"/><rect x="214.6" y="458.4" width="1.0" height="1.0" fill-opacity="0.39"/><rect x="233.6" y="406.8" width="1.0" height="1.0" fill-opacity="0.37"/><rect x="234.4" y="426.8" width="1.0" height="1.0" fill-opacity="0.39"/><rect x="235.9" y="448.9" width="1.0" height="1.0" fill-opacity="0.33"/><rect x="240.2" y="488.2" width="1.0" height="1.0" fill-opacity="0.25"/><rect x="223.0" y="486.7" width="1.0" height="1.0" fill-opacity="0.31"/><rect x="234.2" y="410.5" width="1.0" height="1.0" fill-opacity="0.24"/><rect x="214.9" y="452.9" width="1.0" height="1.0" fill-opacity="0.44"/><rect x="223.1" y="484.9" width="1.0" height="1.0" fill-opacity="0.42"/><rect x="226.1" y="476.3" width="1.0" height="1.0" fill-opacity="0.41"/><rect x="223.8" y="486.9" width="1.0" height="1.0" fill-opacity="0.29"/><rect x="237.0" y="396.4" width="1.0" height="1.0" fill-opacity="0.27"/><rect x="229.5" y="401.8" width="1.0" height="1.0" fill-opacity="0.49"/><rect x="220.3" y="461.3" width="1.0" height="1.0" fill-opacity="0.20"/><rect x="234.4" y="432.7" width="1.0" height="1.0" fill-opacity="0.40"/><rect x="227.9" y="431.6" width="1.0" height="1.0" fill-opacity="0.52"/><rect x="233.2" y="472.4" width="1.0" height="1.0" fill-opacity="0.26"/><rect x="229.3" y="400.2" width="1.0" height="1.0" fill-opacity="0.53"/><rect x="223.5" y="478.0" width="1.0" height="1.0" fill-opacity="0.54"/><rect x="228.5" y="459.7" width="1.0" height="1.0" fill-opacity="0.22"/><rect x="237.0" y="488.1" width="1.0" height="1.0" fill-opacity="0.29"/><rect x="235.7" y="426.4" width="1.0" height="1.0" fill-opacity="0.43"/><rect x="237.8" y="489.4" width="1.0" height="1.0" fill-opacity="0.43"/><rect x="228.6" y="462.6" width="1.0" height="1.0" fill-opacity="0.39"/><rect x="228.9" y="480.0" width="1.0" height="1.0" fill-opacity="0.26"/><rect x="232.5" y="448.9" width="1.0" height="1.0" fill-opacity="0.48"/><rect x="221.8" y="440.3" width="1.0" height="1.0" fill-opacity="0.34"/><rect x="225.4" y="391.5" width="1.0" height="1.0" fill-opacity="0.22"/><rect x="229.2" y="413.7" width="1.0" height="1.0" fill-opacity="0.49"/><rect x="224.3" y="399.3" width="1.0" height="1.0" fill-opacity="0.37"/><rect x="229.4" y="423.6" width="1.0" height="1.0" fill-opacity="0.43"/><rect x="224.6" y="435.3" width="1.0" height="1.0" fill-opacity="0.38"/><rect x="230.0" y="450.4" width="1.0" height="1.0" fill-opacity="0.23"/><rect x="231.2" y="398.9" width="1.0" height="1.0" fill-opacity="0.43"/><rect x="214.2" y="420.9" width="1.0" height="1.0" fill-opacity="0.29"/><rect x="227.9" y="420.5" width="1.0" height="1.0" fill-opacity="0.31"/><rect x="225.6" y="460.6" width="1.0" height="1.0" fill-opacity="0.22"/><rect x="230.6" y="474.7" width="1.0" height="1.0" fill-opacity="0.43"/><rect x="236.0" y="452.5" width="1.0" height="1.0" fill-opacity="0.32"/><rect x="231.7" y="464.2" width="1.0" height="1.0" fill-opacity="0.45"/><rect x="225.8" y="406.8" width="1.0" height="1.0" fill-opacity="0.43"/><rect x="223.1" y="480.3" width="1.0" height="1.0" fill-opacity="0.20"/><rect x="229.9" y="429.8" width="1.0" height="1.0" fill-opacity="0.44"/><rect x="231.6" y="423.5" width="1.0" height="1.0" fill-opacity="0.29"/><rect x="221.2" y="412.3" width="1.0" height="1.0" fill-opacity="0.35"/><rect x="234.6" y="397.0" width="1.0" height="1.0" fill-opacity="0.39"/><rect x="235.0" y="482.0" width="1.0" height="1.0" fill-opacity="0.37"/><rect x="233.4" y="457.0" width="1.0" height="1.0" fill-opacity="0.37"/><rect x="239.6" y="419.2" width="1.0" height="1.0" fill-opacity="0.37"/><rect x="224.3" y="438.4" width="1.0" height="1.0" fill-opacity="0.24"/><rect x="220.9" y="461.5" width="1.0" height="1.0" fill-opacity="0.48"/><rect x="236.9" y="422.2" width="1.0" height="1.0" fill-opacity="0.45"/><rect x="231.8" y="459.5" width="1.0" height="1.0" fill-opacity="0.33"/><rect x="235.7" y="417.7" width="1.0" height="1.0" fill-opacity="0.20"/><rect x="228.1" y="462.6" width="1.0" height="1.0" fill-opacity="0.50"/><rect x="235.9" y="405.5" width="1.0" height="1.0" fill-opacity="0.24"/><rect x="221.8" y="457.1" width="1.0" height="1.0" fill-opacity="0.20"/><rect x="243.9" y="425.4" width="1.0" height="1.0" fill-opacity="0.31"/><rect x="214.0" y="468.6" width="1.0" height="1.0" fill-opacity="0.50"/><rect x="219.5" y="486.9" width="1.0" height="1.0" fill-opacity="0.40"/><rect x="217.0" y="441.9" width="1.0" height="1.0" fill-opacity="0.37"/><rect x="220.6" y="427.4" width="1.0" height="1.0" fill-opacity="0.28"/><rect x="228.4" y="440.3" width="1.0" height="1.0" fill-opacity="0.38"/><rect x="232.1" y="456.4" width="1.0" height="1.0" fill-opacity="0.30"/><rect x="236.1" y="460.4" width="1.0" height="1.0" fill-opacity="0.47"/><rect x="235.7" y="414.9" width="1.0" height="1.0" fill-opacity="0.33"/><rect x="225.6" y="430.2" width="1.0" height="1.0" fill-opacity="0.45"/><rect x="228.5" y="438.3" width="1.0" height="1.0" fill-opacity="0.36"/><rect x="224.7" y="420.6" width="1.0" height="1.0" fill-opacity="0.33"/><rect x="230.2" y="463.3" width="1.0" height="1.0" fill-opacity="0.47"/><rect x="233.4" y="457.6" width="1.0" height="1.0" fill-opacity="0.42"/><rect x="234.5" y="417.3" width="1.0" height="1.0" fill-opacity="0.21"/><rect x="231.2" y="442.5" width="1.0" height="1.0" fill-opacity="0.43"/><rect x="229.7" y="470.4" width="1.0" height="1.0" fill-opacity="0.24"/><rect x="234.7" y="463.7" width="1.0" height="1.0" fill-opacity="0.37"/><rect x="219.1" y="417.0" width="1.0" height="1.0" fill-opacity="0.51"/><rect x="229.8" y="476.8" width="1.0" height="1.0" fill-opacity="0.35"/><rect x="233.0" y="421.4" width="1.0" height="1.0" fill-opacity="0.26"/><rect x="228.4" y="482.2" width="1.0" height="1.0" fill-opacity="0.50"/><rect x="234.1" y="475.2" width="1.0" height="1.0" fill-opacity="0.27"/><rect x="224.8" y="427.5" width="1.0" height="1.0" fill-opacity="0.24"/><rect x="222.2" y="434.0" width="1.0" height="1.0" fill-opacity="0.29"/><rect x="234.1" y="429.0" width="1.0" height="1.0" fill-opacity="0.33"/><rect x="229.4" y="427.2" width="1.0" height="1.0" fill-opacity="0.44"/><rect x="223.3" y="408.8" width="1.0" height="1.0" fill-opacity="0.21"/><rect x="227.9" y="451.1" width="1.0" height="1.0" fill-opacity="0.50"/><rect x="233.1" y="413.3" width="1.0" height="1.0" fill-opacity="0.41"/><rect x="234.4" y="422.2" width="1.0" height="1.0" fill-opacity="0.43"/><rect x="230.3" y="441.0" width="1.0" height="1.0" fill-opacity="0.24"/><rect x="223.8" y="421.1" width="1.0" height="1.0" fill-opacity="0.52"/><rect x="232.0" y="488.6" width="1.0" height="1.0" fill-opacity="0.28"/><rect x="223.8" y="414.4" width="1.0" height="1.0" fill-opacity="0.21"/><rect x="225.8" y="471.0" width="1.0" height="1.0" fill-opacity="0.29"/><rect x="231.1" y="437.9" width="1.0" height="1.0" fill-opacity="0.33"/><rect x="228.8" y="452.5" width="1.0" height="1.0" fill-opacity="0.47"/><rect x="220.4" y="444.8" width="1.0" height="1.0" fill-opacity="0.24"/><rect x="236.4" y="465.3" width="1.0" height="1.0" fill-opacity="0.35"/><rect x="224.8" y="399.1" width="1.0" height="1.0" fill-opacity="0.20"/><rect x="230.0" y="399.1" width="1.0" height="1.0" fill-opacity="0.33"/><rect x="226.6" y="440.8" width="1.0" height="1.0" fill-opacity="0.38"/><rect x="238.5" y="406.9" width="1.0" height="1.0" fill-opacity="0.38"/><rect x="231.8" y="427.2" width="1.0" height="1.0" fill-opacity="0.51"/><rect x="225.7" y="423.5" width="1.0" height="1.0" fill-opacity="0.42"/><rect x="242.5" y="418.4" width="1.0" height="1.0" fill-opacity="0.33"/><rect x="236.9" y="455.6" width="1.0" height="1.0" fill-opacity="0.39"/><rect x="232.2" y="422.8" width="1.0" height="1.0" fill-opacity="0.35"/><rect x="224.3" y="426.1" width="1.0" height="1.0" fill-opacity="0.34"/><rect x="225.5" y="456.2" width="1.0" height="1.0" fill-opacity="0.34"/><rect x="223.1" y="469.0" width="1.0" height="1.0" fill-opacity="0.36"/><rect x="228.8" y="427.5" width="1.0" height="1.0" fill-opacity="0.28"/><rect x="227.5" y="458.2" width="1.0" height="1.0" fill-opacity="0.44"/><rect x="230.3" y="437.2" width="1.0" height="1.0" fill-opacity="0.43"/><rect x="232.7" y="415.9" width="1.0" height="1.0" fill-opacity="0.43"/><rect x="232.6" y="451.3" width="1.0" height="1.0" fill-opacity="0.31"/><rect x="235.6" y="403.4" width="1.0" height="1.0" fill-opacity="0.37"/><rect x="225.6" y="403.5" width="1.0" height="1.0" fill-opacity="0.39"/><rect x="237.9" y="468.0" width="1.0" height="1.0" fill-opacity="0.40"/><rect x="232.9" y="434.3" width="1.0" height="1.0" fill-opacity="0.46"/><rect x="221.9" y="434.8" width="1.0" height="1.0" fill-opacity="0.54"/><rect x="235.8" y="455.3" width="1.0" height="1.0" fill-opacity="0.21"/><rect x="234.4" y="487.2" width="1.0" height="1.0" fill-opacity="0.45"/><rect x="234.2" y="474.6" width="1.0" height="1.0" fill-opacity="0.38"/><rect x="239.6" y="479.0" width="1.0" height="1.0" fill-opacity="0.35"/><rect x="216.7" y="458.8" width="1.0" height="1.0" fill-opacity="0.27"/><rect x="226.4" y="423.9" width="1.0" height="1.0" fill-opacity="0.21"/><rect x="236.9" y="396.6" width="1.0" height="1.0" fill-opacity="0.24"/><rect x="232.9" y="419.3" width="1.0" height="1.0" fill-opacity="0.30"/><rect x="242.1" y="480.5" width="1.0" height="1.0" fill-opacity="0.35"/><rect x="215.1" y="418.1" width="1.0" height="1.0" fill-opacity="0.52"/><rect x="229.4" y="463.2" width="1.0" height="1.0" fill-opacity="0.52"/><rect x="231.7" y="451.2" width="1.0" height="1.0" fill-opacity="0.50"/><rect x="218.2" y="459.9" width="1.0" height="1.0" fill-opacity="0.36"/><rect x="231.5" y="485.6" width="1.0" height="1.0" fill-opacity="0.30"/><rect x="229.1" y="473.1" width="1.0" height="1.0" fill-opacity="0.34"/><rect x="238.7" y="411.7" width="1.0" height="1.0" fill-opacity="0.53"/><rect x="227.5" y="441.0" width="1.0" height="1.0" fill-opacity="0.46"/><rect x="229.0" y="477.6" width="1.0" height="1.0" fill-opacity="0.32"/><rect x="228.0" y="424.7" width="1.0" height="1.0" fill-opacity="0.34"/><rect x="219.8" y="405.4" width="1.0" height="1.0" fill-opacity="0.52"/><rect x="230.0" y="440.7" width="1.0" height="1.0" fill-opacity="0.45"/><rect x="224.9" y="471.2" width="1.0" height="1.0" fill-opacity="0.23"/><rect x="222.9" y="453.6" width="1.0" height="1.0" fill-opacity="0.40"/><rect x="229.7" y="433.7" width="1.0" height="1.0" fill-opacity="0.20"/><rect x="232.9" y="415.4" width="1.0" height="1.0" fill-opacity="0.41"/><rect x="222.0" y="402.5" width="1.0" height="1.0" fill-opacity="0.47"/><rect x="231.1" y="476.3" width="1.0" height="1.0" fill-opacity="0.49"/><rect x="219.8" y="457.3" width="1.0" height="1.0" fill-opacity="0.53"/><rect x="142.0" y="502.9" width="1.0" height="1.0" fill-opacity="0.27"/><rect x="206.4" y="503.3" width="1.0" height="1.0" fill-opacity="0.22"/><rect x="278.2" y="505.5" width="1.0" height="1.0" fill-opacity="0.19"/><rect x="140.8" y="507.2" width="1.0" height="1.0" fill-opacity="0.21"/><rect x="199.5" y="506.8" width="1.0" height="1.0" fill-opacity="0.28"/><rect x="205.2" y="509.5" width="1.0" height="1.0" fill-opacity="0.16"/><rect x="290.9" y="503.8" width="1.0" height="1.0" fill-opacity="0.16"/><rect x="258.3" y="507.1" width="1.0" height="1.0" fill-opacity="0.31"/><rect x="147.7" y="509.0" width="1.0" height="1.0" fill-opacity="0.24"/><rect x="250.1" y="504.1" width="1.0" height="1.0" fill-opacity="0.32"/><rect x="234.3" y="505.3" width="1.0" height="1.0" fill-opacity="0.29"/><rect x="117.1" y="507.8" width="1.0" height="1.0" fill-opacity="0.36"/><rect x="134.8" y="507.0" width="1.0" height="1.0" fill-opacity="0.37"/><rect x="124.3" y="509.6" width="1.0" height="1.0" fill-opacity="0.41"/><rect x="114.1" y="504.2" width="1.0" height="1.0" fill-opacity="0.18"/><rect x="154.8" y="502.8" width="1.0" height="1.0" fill-opacity="0.30"/><rect x="154.3" y="504.7" width="1.0" height="1.0" fill-opacity="0.29"/><rect x="178.7" y="509.1" width="1.0" height="1.0" fill-opacity="0.37"/><rect x="126.9" y="504.0" width="1.0" height="1.0" fill-opacity="0.15"/><rect x="170.2" y="503.0" width="1.0" height="1.0" fill-opacity="0.36"/><rect x="260.8" y="511.0" width="1.0" height="1.0" fill-opacity="0.21"/><rect x="111.4" y="508.8" width="1.0" height="1.0" fill-opacity="0.27"/><rect x="291.1" y="505.5" width="1.0" height="1.0" fill-opacity="0.24"/><rect x="118.6" y="510.5" width="1.0" height="1.0" fill-opacity="0.30"/><rect x="192.6" y="505.9" width="1.0" height="1.0" fill-opacity="0.38"/><rect x="271.0" y="506.3" width="1.0" height="1.0" fill-opacity="0.20"/><rect x="185.7" y="510.0" width="1.0" height="1.0" fill-opacity="0.27"/><rect x="236.8" y="507.0" width="1.0" height="1.0" fill-opacity="0.29"/><rect x="219.5" y="504.2" width="1.0" height="1.0" fill-opacity="0.32"/><rect x="277.8" y="502.7" width="1.0" height="1.0" fill-opacity="0.26"/><rect x="281.0" y="510.8" width="1.0" height="1.0" fill-opacity="0.15"/><rect x="230.0" y="507.7" width="1.0" height="1.0" fill-opacity="0.40"/><rect x="198.5" y="503.2" width="1.0" height="1.0" fill-opacity="0.24"/><rect x="247.3" y="508.6" width="1.0" height="1.0" fill-opacity="0.21"/><rect x="233.2" y="507.9" width="1.0" height="1.0" fill-opacity="0.35"/><rect x="108.4" y="506.0" width="1.0" height="1.0" fill-opacity="0.25"/><rect x="224.0" y="505.0" width="1.0" height="1.0" fill-opacity="0.19"/><rect x="238.7" y="504.6" width="1.0" height="1.0" fill-opacity="0.39"/><rect x="165.4" y="506.9" width="1.0" height="1.0" fill-opacity="0.39"/><rect x="127.2" y="508.6" width="1.0" height="1.0" fill-opacity="0.17"/><rect x="292.2" y="502.2" width="1.0" height="1.0" fill-opacity="0.37"/><rect x="178.1" y="503.6" width="1.0" height="1.0" fill-opacity="0.27"/><rect x="204.8" y="505.7" width="1.0" height="1.0" fill-opacity="0.19"/><rect x="209.1" y="504.7" width="1.0" height="1.0" fill-opacity="0.44"/><rect x="181.0" y="505.9" width="1.0" height="1.0" fill-opacity="0.22"/><rect x="298.7" y="504.9" width="1.0" height="1.0" fill-opacity="0.34"/><rect x="271.3" y="505.5" width="1.0" height="1.0" fill-opacity="0.38"/><rect x="160.0" y="503.0" width="1.0" height="1.0" fill-opacity="0.16"/><rect x="194.2" y="509.9" width="1.0" height="1.0" fill-opacity="0.21"/><rect x="192.5" y="508.9" width="1.0" height="1.0" fill-opacity="0.23"/><rect x="134.7" y="506.7" width="1.0" height="1.0" fill-opacity="0.28"/><rect x="292.6" y="510.1" width="1.0" height="1.0" fill-opacity="0.22"/><rect x="216.7" y="505.7" width="1.0" height="1.0" fill-opacity="0.16"/><rect x="193.3" y="510.2" width="1.0" height="1.0" fill-opacity="0.24"/><rect x="221.8" y="508.4" width="1.0" height="1.0" fill-opacity="0.17"/><rect x="289.8" y="503.0" width="1.0" height="1.0" fill-opacity="0.24"/><rect x="247.9" y="502.2" width="1.0" height="1.0" fill-opacity="0.26"/><rect x="129.5" y="506.3" width="1.0" height="1.0" fill-opacity="0.15"/><rect x="134.4" y="504.0" width="1.0" height="1.0" fill-opacity="0.17"/><rect x="122.2" y="503.8" width="1.0" height="1.0" fill-opacity="0.31"/><rect x="131.5" y="509.4" width="1.0" height="1.0" fill-opacity="0.28"/><rect x="154.6" y="504.2" width="1.0" height="1.0" fill-opacity="0.40"/><rect x="113.4" y="508.7" width="1.0" height="1.0" fill-opacity="0.18"/><rect x="293.9" y="505.7" width="1.0" height="1.0" fill-opacity="0.33"/><rect x="277.5" y="502.9" width="1.0" height="1.0" fill-opacity="0.17"/><rect x="243.4" y="507.3" width="1.0" height="1.0" fill-opacity="0.37"/><rect x="159.8" y="506.5" width="1.0" height="1.0" fill-opacity="0.21"/><rect x="191.9" y="504.5" width="1.0" height="1.0" fill-opacity="0.33"/><rect x="164.1" y="504.5" width="1.0" height="1.0" fill-opacity="0.34"/><rect x="121.2" y="509.2" width="1.0" height="1.0" fill-opacity="0.30"/><rect x="150.0" y="503.0" width="1.0" height="1.0" fill-opacity="0.30"/><rect x="205.3" y="508.5" width="1.0" height="1.0" fill-opacity="0.26"/><rect x="186.9" y="510.0" width="1.0" height="1.0" fill-opacity="0.23"/><rect x="301.2" y="510.0" width="1.0" height="1.0" fill-opacity="0.45"/><rect x="293.6" y="504.3" width="1.0" height="1.0" fill-opacity="0.39"/><rect x="227.0" y="503.8" width="1.0" height="1.0" fill-opacity="0.45"/><rect x="234.2" y="509.3" width="1.0" height="1.0" fill-opacity="0.32"/><rect x="120.0" y="509.8" width="1.0" height="1.0" fill-opacity="0.20"/><rect x="156.1" y="507.5" width="1.0" height="1.0" fill-opacity="0.21"/><rect x="197.0" y="508.4" width="1.0" height="1.0" fill-opacity="0.18"/><rect x="236.8" y="502.9" width="1.0" height="1.0" fill-opacity="0.29"/><rect x="234.5" y="508.2" width="1.0" height="1.0" fill-opacity="0.16"/><rect x="142.4" y="510.6" width="1.0" height="1.0" fill-opacity="0.27"/><rect x="189.4" y="505.4" width="1.0" height="1.0" fill-opacity="0.36"/><rect x="252.8" y="507.9" width="1.0" height="1.0" fill-opacity="0.27"/><rect x="218.5" y="506.6" width="1.0" height="1.0" fill-opacity="0.21"/><rect x="294.8" y="510.7" width="1.0" height="1.0" fill-opacity="0.38"/><rect x="303.5" y="506.2" width="1.0" height="1.0" fill-opacity="0.40"/><rect x="152.4" y="508.7" width="1.0" height="1.0" fill-opacity="0.36"/><rect x="292.7" y="509.5" width="1.0" height="1.0" fill-opacity="0.41"/><rect x="157.8" y="509.1" width="1.0" height="1.0" fill-opacity="0.29"/><rect x="166.8" y="505.3" width="1.0" height="1.0" fill-opacity="0.39"/><rect x="273.4" y="509.6" width="1.0" height="1.0" fill-opacity="0.35"/><rect x="138.2" y="503.4" width="1.0" height="1.0" fill-opacity="0.32"/><rect x="146.6" y="505.0" width="1.0" height="1.0" fill-opacity="0.18"/><rect x="135.1" y="508.5" width="1.0" height="1.0" fill-opacity="0.22"/><rect x="274.4" y="505.0" width="1.0" height="1.0" fill-opacity="0.40"/><rect x="164.8" y="504.4" width="1.0" height="1.0" fill-opacity="0.27"/><rect x="106.4" y="505.9" width="1.0" height="1.0" fill-opacity="0.26"/><rect x="106.5" y="509.8" width="1.0" height="1.0" fill-opacity="0.26"/><rect x="104.1" y="510.6" width="1.0" height="1.0" fill-opacity="0.22"/><rect x="154.9" y="502.2" width="1.0" height="1.0" fill-opacity="0.18"/><rect x="246.7" y="507.2" width="1.0" height="1.0" fill-opacity="0.30"/><rect x="153.5" y="504.6" width="1.0" height="1.0" fill-opacity="0.44"/><rect x="178.8" y="510.9" width="1.0" height="1.0" fill-opacity="0.42"/><rect x="129.0" y="509.6" width="1.0" height="1.0" fill-opacity="0.16"/><rect x="246.9" y="509.3" width="1.0" height="1.0" fill-opacity="0.36"/><rect x="214.5" y="509.3" width="1.0" height="1.0" fill-opacity="0.20"/><rect x="212.5" y="504.4" width="1.0" height="1.0" fill-opacity="0.27"/><rect x="142.4" y="508.4" width="1.0" height="1.0" fill-opacity="0.32"/><rect x="260.6" y="507.7" width="1.0" height="1.0" fill-opacity="0.33"/><rect x="289.3" y="509.3" width="1.0" height="1.0" fill-opacity="0.32"/><rect x="169.6" y="510.4" width="1.0" height="1.0" fill-opacity="0.26"/><rect x="124.5" y="505.0" width="1.0" height="1.0" fill-opacity="0.36"/><rect x="291.2" y="507.8" width="1.0" height="1.0" fill-opacity="0.35"/><rect x="292.4" y="509.0" width="1.0" height="1.0" fill-opacity="0.28"/><rect x="196.8" y="508.8" width="1.0" height="1.0" fill-opacity="0.25"/><rect x="126.1" y="507.6" width="1.0" height="1.0" fill-opacity="0.39"/><rect x="153.9" y="508.2" width="1.0" height="1.0" fill-opacity="0.42"/><rect x="129.7" y="503.2" width="1.0" height="1.0" fill-opacity="0.30"/><rect x="171.2" y="510.5" width="1.0" height="1.0" fill-opacity="0.45"/><rect x="193.6" y="509.1" width="1.0" height="1.0" fill-opacity="0.34"/><rect x="138.9" y="510.7" width="1.0" height="1.0" fill-opacity="0.20"/><rect x="119.3" y="506.1" width="1.0" height="1.0" fill-opacity="0.16"/><rect x="200.6" y="505.7" width="1.0" height="1.0" fill-opacity="0.44"/><rect x="187.1" y="509.6" width="1.0" height="1.0" fill-opacity="0.38"/><rect x="221.8" y="504.1" width="1.0" height="1.0" fill-opacity="0.24"/><rect x="202.8" y="505.6" width="1.0" height="1.0" fill-opacity="0.34"/><rect x="205.6" y="504.9" width="1.0" height="1.0" fill-opacity="0.33"/><rect x="304.3" y="503.8" width="1.0" height="1.0" fill-opacity="0.25"/><rect x="106.4" y="502.8" width="1.0" height="1.0" fill-opacity="0.17"/><rect x="189.0" y="509.5" width="1.0" height="1.0" fill-opacity="0.36"/><rect x="298.2" y="509.5" width="1.0" height="1.0" fill-opacity="0.33"/><rect x="220.7" y="502.1" width="1.0" height="1.0" fill-opacity="0.27"/><rect x="156.6" y="507.6" width="1.0" height="1.0" fill-opacity="0.17"/><rect x="213.0" y="505.4" width="1.0" height="1.0" fill-opacity="0.30"/><rect x="185.3" y="502.9" width="1.0" height="1.0" fill-opacity="0.37"/><rect x="264.9" y="507.4" width="1.0" height="1.0" fill-opacity="0.18"/><rect x="224.4" y="509.8" width="1.0" height="1.0" fill-opacity="0.45"/><rect x="256.5" y="502.4" width="1.0" height="1.0" fill-opacity="0.41"/><rect x="237.7" y="504.5" width="1.0" height="1.0" fill-opacity="0.43"/><rect x="270.0" y="510.1" width="1.0" height="1.0" fill-opacity="0.22"/><rect x="220.0" y="505.4" width="1.0" height="1.0" fill-opacity="0.24"/><rect x="257.0" y="507.5" width="1.0" height="1.0" fill-opacity="0.25"/><rect x="213.1" y="510.4" width="1.0" height="1.0" fill-opacity="0.32"/><rect x="287.6" y="507.1" width="1.0" height="1.0" fill-opacity="0.45"/><rect x="109.9" y="506.1" width="1.0" height="1.0" fill-opacity="0.32"/><rect x="250.1" y="510.7" width="1.0" height="1.0" fill-opacity="0.34"/><rect x="200.1" y="507.7" width="1.0" height="1.0" fill-opacity="0.31"/><rect x="245.7" y="510.5" width="1.0" height="1.0" fill-opacity="0.15"/><rect x="168.4" y="509.9" width="1.0" height="1.0" fill-opacity="0.17"/><rect x="262.8" y="502.3" width="1.0" height="1.0" fill-opacity="0.34"/><rect x="264.9" y="504.1" width="1.0" height="1.0" fill-opacity="0.26"/><rect x="149.5" y="508.3" width="1.0" height="1.0" fill-opacity="0.31"/><rect x="225.7" y="504.9" width="1.0" height="1.0" fill-opacity="0.33"/><rect x="295.8" y="509.0" width="1.0" height="1.0" fill-opacity="0.44"/><rect x="153.7" y="506.6" width="1.0" height="1.0" fill-opacity="0.27"/><rect x="173.6" y="509.2" width="1.0" height="1.0" fill-opacity="0.20"/><rect x="216.3" y="509.0" width="1.0" height="1.0" fill-opacity="0.43"/><rect x="107.7" y="504.4" width="1.0" height="1.0" fill-opacity="0.30"/><rect x="292.2" y="503.5" width="1.0" height="1.0" fill-opacity="0.40"/><rect x="183.8" y="506.9" width="1.0" height="1.0" fill-opacity="0.43"/><rect x="116.9" y="505.0" width="1.0" height="1.0" fill-opacity="0.20"/><rect x="130.9" y="504.7" width="1.0" height="1.0" fill-opacity="0.36"/><rect x="220.7" y="503.1" width="1.0" height="1.0" fill-opacity="0.39"/><rect x="206.0" y="503.3" width="1.0" height="1.0" fill-opacity="0.40"/><rect x="269.0" y="504.0" width="1.0" height="1.0" fill-opacity="0.43"/><rect x="266.9" y="504.1" width="1.0" height="1.0" fill-opacity="0.15"/><rect x="278.3" y="509.4" width="1.0" height="1.0" fill-opacity="0.18"/><rect x="258.1" y="509.0" width="1.0" height="1.0" fill-opacity="0.34"/><rect x="271.3" y="510.9" width="1.0" height="1.0" fill-opacity="0.25"/><rect x="271.6" y="510.3" width="1.0" height="1.0" fill-opacity="0.24"/><rect x="241.4" y="508.2" width="1.0" height="1.0" fill-opacity="0.40"/><rect x="217.9" y="504.5" width="1.0" height="1.0" fill-opacity="0.23"/><rect x="213.1" y="503.2" width="1.0" height="1.0" fill-opacity="0.41"/><rect x="282.7" y="504.2" width="1.0" height="1.0" fill-opacity="0.36"/><rect x="239.3" y="503.1" width="1.0" height="1.0" fill-opacity="0.38"/><rect x="258.0" y="504.8" width="1.0" height="1.0" fill-opacity="0.18"/><rect x="160.6" y="508.9" width="1.0" height="1.0" fill-opacity="0.29"/><rect x="267.9" y="503.4" width="1.0" height="1.0" fill-opacity="0.18"/><rect x="174.1" y="509.9" width="1.0" height="1.0" fill-opacity="0.20"/><rect x="118.8" y="508.8" width="1.0" height="1.0" fill-opacity="0.18"/><rect x="238.2" y="502.8" width="1.0" height="1.0" fill-opacity="0.22"/><rect x="237.4" y="509.9" width="1.0" height="1.0" fill-opacity="0.27"/><rect x="194.4" y="502.3" width="1.0" height="1.0" fill-opacity="0.25"/><rect x="152.7" y="509.1" width="1.0" height="1.0" fill-opacity="0.36"/><rect x="261.7" y="506.8" width="1.0" height="1.0" fill-opacity="0.36"/><rect x="129.6" y="505.5" width="1.0" height="1.0" fill-opacity="0.24"/><rect x="160.7" y="508.7" width="1.0" height="1.0" fill-opacity="0.21"/><rect x="169.4" y="504.5" width="1.0" height="1.0" fill-opacity="0.41"/><rect x="232.3" y="506.3" width="1.0" height="1.0" fill-opacity="0.26"/><rect x="289.2" y="510.5" width="1.0" height="1.0" fill-opacity="0.28"/><rect x="217.9" y="509.8" width="1.0" height="1.0" fill-opacity="0.23"/><rect x="156.0" y="502.9" width="1.0" height="1.0" fill-opacity="0.30"/><rect x="258.5" y="503.4" width="1.0" height="1.0" fill-opacity="0.28"/><rect x="303.1" y="506.3" width="1.0" height="1.0" fill-opacity="0.26"/><rect x="272.7" y="510.0" width="1.0" height="1.0" fill-opacity="0.26"/><rect x="128.8" y="507.7" width="1.0" height="1.0" fill-opacity="0.37"/><rect x="289.6" y="507.9" width="1.0" height="1.0" fill-opacity="0.24"/><rect x="207.5" y="504.6" width="1.0" height="1.0" fill-opacity="0.28"/><rect x="198.1" y="510.2" width="1.0" height="1.0" fill-opacity="0.42"/><rect x="290.2" y="506.3" width="1.0" height="1.0" fill-opacity="0.44"/><rect x="131.9" y="510.3" width="1.0" height="1.0" fill-opacity="0.34"/><rect x="279.4" y="505.7" width="1.0" height="1.0" fill-opacity="0.45"/><rect x="109.0" y="509.6" width="1.0" height="1.0" fill-opacity="0.40"/><rect x="179.2" y="509.5" width="1.0" height="1.0" fill-opacity="0.21"/><rect x="255.3" y="506.2" width="1.0" height="1.0" fill-opacity="0.27"/><rect x="143.5" y="509.2" width="1.0" height="1.0" fill-opacity="0.37"/><rect x="121.9" y="510.8" width="1.0" height="1.0" fill-opacity="0.22"/><rect x="179.4" y="505.7" width="1.0" height="1.0" fill-opacity="0.32"/><rect x="282.9" y="510.5" width="1.0" height="1.0" fill-opacity="0.34"/><rect x="177.5" y="503.0" width="1.0" height="1.0" fill-opacity="0.17"/><rect x="208.3" y="507.2" width="1.0" height="1.0" fill-opacity="0.28"/><rect x="301.5" y="505.7" width="1.0" height="1.0" fill-opacity="0.26"/><rect x="188.0" y="503.5" width="1.0" height="1.0" fill-opacity="0.43"/><rect x="222.8" y="506.9" width="1.0" height="1.0" fill-opacity="0.28"/><rect x="154.3" y="504.8" width="1.0" height="1.0" fill-opacity="0.30"/><rect x="193.7" y="510.8" width="1.0" height="1.0" fill-opacity="0.32"/><rect x="145.6" y="502.5" width="1.0" height="1.0" fill-opacity="0.20"/><rect x="173.5" y="509.0" width="1.0" height="1.0" fill-opacity="0.42"/><rect x="182.9" y="377.4" width="1.0" height="1.0" fill-opacity="0.29"/><rect x="207.0" y="374.4" width="1.0" height="1.0" fill-opacity="0.21"/><rect x="169.3" y="376.0" width="1.0" height="1.0" fill-opacity="0.34"/><rect x="194.4" y="379.0" width="1.0" height="1.0" fill-opacity="0.36"/><rect x="188.2" y="368.8" width="1.0" height="1.0" fill-opacity="0.31"/><rect x="216.3" y="370.7" width="1.0" height="1.0" fill-opacity="0.21"/><rect x="203.0" y="368.4" width="1.0" height="1.0" fill-opacity="0.35"/><rect x="214.0" y="371.4" width="1.0" height="1.0" fill-opacity="0.29"/><rect x="182.6" y="370.2" width="1.0" height="1.0" fill-opacity="0.24"/><rect x="229.3" y="373.4" width="1.0" height="1.0" fill-opacity="0.34"/><rect x="191.8" y="377.7" width="1.0" height="1.0" fill-opacity="0.32"/><rect x="216.3" y="372.7" width="1.0" height="1.0" fill-opacity="0.31"/><rect x="586.8" y="360.0" width="1.0" height="1.0" fill-opacity="0.42"/><rect x="584.1" y="285.8" width="1.0" height="1.0" fill-opacity="0.28"/><rect x="579.7" y="248.5" width="1.0" height="1.0" fill-opacity="0.47"/><rect x="593.7" y="282.0" width="1.0" height="1.0" fill-opacity="0.28"/><rect x="589.1" y="281.6" width="1.0" height="1.0" fill-opacity="0.47"/><rect x="585.0" y="341.6" width="1.0" height="1.0" fill-opacity="0.54"/><rect x="601.2" y="361.4" width="1.0" height="1.0" fill-opacity="0.21"/><rect x="590.7" y="292.0" width="1.0" height="1.0" fill-opacity="0.47"/><rect x="591.5" y="271.2" width="1.0" height="1.0" fill-opacity="0.46"/><rect x="583.3" y="251.2" width="1.0" height="1.0" fill-opacity="0.47"/><rect x="594.2" y="301.7" width="1.0" height="1.0" fill-opacity="0.43"/><rect x="590.0" y="320.8" width="1.0" height="1.0" fill-opacity="0.36"/><rect x="591.8" y="324.6" width="1.0" height="1.0" fill-opacity="0.41"/><rect x="596.5" y="269.9" width="1.0" height="1.0" fill-opacity="0.31"/><rect x="584.9" y="258.1" width="1.0" height="1.0" fill-opacity="0.40"/><rect x="597.2" y="331.9" width="1.0" height="1.0" fill-opacity="0.24"/><rect x="593.4" y="264.1" width="1.0" height="1.0" fill-opacity="0.38"/><rect x="592.4" y="349.6" width="1.0" height="1.0" fill-opacity="0.53"/><rect x="587.7" y="334.0" width="1.0" height="1.0" fill-opacity="0.29"/><rect x="583.4" y="358.0" width="1.0" height="1.0" fill-opacity="0.20"/><rect x="591.8" y="284.2" width="1.0" height="1.0" fill-opacity="0.51"/><rect x="595.5" y="344.0" width="1.0" height="1.0" fill-opacity="0.31"/><rect x="589.5" y="351.4" width="1.0" height="1.0" fill-opacity="0.24"/><rect x="593.7" y="260.9" width="1.0" height="1.0" fill-opacity="0.26"/><rect x="585.6" y="314.1" width="1.0" height="1.0" fill-opacity="0.38"/><rect x="591.5" y="331.0" width="1.0" height="1.0" fill-opacity="0.32"/><rect x="584.3" y="338.8" width="1.0" height="1.0" fill-opacity="0.32"/><rect x="587.7" y="349.7" width="1.0" height="1.0" fill-opacity="0.41"/><rect x="591.1" y="354.4" width="1.0" height="1.0" fill-opacity="0.45"/><rect x="589.1" y="309.1" width="1.0" height="1.0" fill-opacity="0.49"/><rect x="588.2" y="304.8" width="1.0" height="1.0" fill-opacity="0.42"/><rect x="586.9" y="361.0" width="1.0" height="1.0" fill-opacity="0.27"/><rect x="589.6" y="251.8" width="1.0" height="1.0" fill-opacity="0.25"/><rect x="592.7" y="267.2" width="1.0" height="1.0" fill-opacity="0.48"/><rect x="591.8" y="319.3" width="1.0" height="1.0" fill-opacity="0.28"/><rect x="587.8" y="301.5" width="1.0" height="1.0" fill-opacity="0.53"/><rect x="594.8" y="293.2" width="1.0" height="1.0" fill-opacity="0.54"/><rect x="588.7" y="270.2" width="1.0" height="1.0" fill-opacity="0.39"/><rect x="595.5" y="260.6" width="1.0" height="1.0" fill-opacity="0.46"/><rect x="582.3" y="258.6" width="1.0" height="1.0" fill-opacity="0.54"/><rect x="589.2" y="337.9" width="1.0" height="1.0" fill-opacity="0.44"/><rect x="585.3" y="334.1" width="1.0" height="1.0" fill-opacity="0.22"/><rect x="592.0" y="291.6" width="1.0" height="1.0" fill-opacity="0.48"/><rect x="584.2" y="310.2" width="1.0" height="1.0" fill-opacity="0.21"/><rect x="595.2" y="256.2" width="1.0" height="1.0" fill-opacity="0.35"/><rect x="583.6" y="356.8" width="1.0" height="1.0" fill-opacity="0.53"/><rect x="589.0" y="328.7" width="1.0" height="1.0" fill-opacity="0.21"/><rect x="582.6" y="297.9" width="1.0" height="1.0" fill-opacity="0.41"/><rect x="602.2" y="278.9" width="1.0" height="1.0" fill-opacity="0.29"/><rect x="592.3" y="262.9" width="1.0" height="1.0" fill-opacity="0.55"/><rect x="597.1" y="271.3" width="1.0" height="1.0" fill-opacity="0.43"/><rect x="599.3" y="262.2" width="1.0" height="1.0" fill-opacity="0.34"/><rect x="588.4" y="247.4" width="1.0" height="1.0" fill-opacity="0.55"/><rect x="590.9" y="357.6" width="1.0" height="1.0" fill-opacity="0.49"/><rect x="587.9" y="251.9" width="1.0" height="1.0" fill-opacity="0.37"/><rect x="584.0" y="306.4" width="1.0" height="1.0" fill-opacity="0.48"/><rect x="586.2" y="348.6" width="1.0" height="1.0" fill-opacity="0.28"/><rect x="592.1" y="322.1" width="1.0" height="1.0" fill-opacity="0.40"/><rect x="588.7" y="248.9" width="1.0" height="1.0" fill-opacity="0.31"/><rect x="588.7" y="261.4" width="1.0" height="1.0" fill-opacity="0.52"/><rect x="590.7" y="348.9" width="1.0" height="1.0" fill-opacity="0.44"/><rect x="587.2" y="335.0" width="1.0" height="1.0" fill-opacity="0.27"/><rect x="598.4" y="316.1" width="1.0" height="1.0" fill-opacity="0.47"/><rect x="594.4" y="286.9" width="1.0" height="1.0" fill-opacity="0.54"/><rect x="581.2" y="271.4" width="1.0" height="1.0" fill-opacity="0.24"/><rect x="584.3" y="333.5" width="1.0" height="1.0" fill-opacity="0.38"/><rect x="582.4" y="353.8" width="1.0" height="1.0" fill-opacity="0.43"/><rect x="580.8" y="315.3" width="1.0" height="1.0" fill-opacity="0.40"/><rect x="590.4" y="296.4" width="1.0" height="1.0" fill-opacity="0.35"/><rect x="586.5" y="312.1" width="1.0" height="1.0" fill-opacity="0.35"/><rect x="594.2" y="359.7" width="1.0" height="1.0" fill-opacity="0.23"/><rect x="585.3" y="330.7" width="1.0" height="1.0" fill-opacity="0.41"/><rect x="593.6" y="274.7" width="1.0" height="1.0" fill-opacity="0.21"/><rect x="588.6" y="355.9" width="1.0" height="1.0" fill-opacity="0.31"/><rect x="596.0" y="350.5" width="1.0" height="1.0" fill-opacity="0.49"/><rect x="586.9" y="276.6" width="1.0" height="1.0" fill-opacity="0.36"/><rect x="580.8" y="274.1" width="1.0" height="1.0" fill-opacity="0.48"/><rect x="595.5" y="346.5" width="1.0" height="1.0" fill-opacity="0.54"/><rect x="594.8" y="300.3" width="1.0" height="1.0" fill-opacity="0.25"/><rect x="599.0" y="331.9" width="1.0" height="1.0" fill-opacity="0.43"/><rect x="594.2" y="350.4" width="1.0" height="1.0" fill-opacity="0.53"/><rect x="585.2" y="258.6" width="1.0" height="1.0" fill-opacity="0.29"/><rect x="587.0" y="331.7" width="1.0" height="1.0" fill-opacity="0.24"/><rect x="585.7" y="286.7" width="1.0" height="1.0" fill-opacity="0.35"/><rect x="587.9" y="268.1" width="1.0" height="1.0" fill-opacity="0.45"/><rect x="594.6" y="356.6" width="1.0" height="1.0" fill-opacity="0.41"/><rect x="588.5" y="294.6" width="1.0" height="1.0" fill-opacity="0.42"/><rect x="592.7" y="286.7" width="1.0" height="1.0" fill-opacity="0.40"/><rect x="590.6" y="282.5" width="1.0" height="1.0" fill-opacity="0.42"/><rect x="589.8" y="306.8" width="1.0" height="1.0" fill-opacity="0.30"/><rect x="597.2" y="265.1" width="1.0" height="1.0" fill-opacity="0.29"/><rect x="591.8" y="352.3" width="1.0" height="1.0" fill-opacity="0.25"/><rect x="593.1" y="285.5" width="1.0" height="1.0" fill-opacity="0.34"/><rect x="584.6" y="293.8" width="1.0" height="1.0" fill-opacity="0.47"/><rect x="590.9" y="296.4" width="1.0" height="1.0" fill-opacity="0.52"/><rect x="581.8" y="360.4" width="1.0" height="1.0" fill-opacity="0.33"/><rect x="588.7" y="262.7" width="1.0" height="1.0" fill-opacity="0.51"/><rect x="583.5" y="328.0" width="1.0" height="1.0" fill-opacity="0.27"/><rect x="591.6" y="286.0" width="1.0" height="1.0" fill-opacity="0.44"/><rect x="588.6" y="247.3" width="1.0" height="1.0" fill-opacity="0.22"/><rect x="584.4" y="271.5" width="1.0" height="1.0" fill-opacity="0.49"/><rect x="590.0" y="284.9" width="1.0" height="1.0" fill-opacity="0.30"/><rect x="594.5" y="338.7" width="1.0" height="1.0" fill-opacity="0.48"/><rect x="588.5" y="349.7" width="1.0" height="1.0" fill-opacity="0.22"/><rect x="587.8" y="276.9" width="1.0" height="1.0" fill-opacity="0.38"/><rect x="586.3" y="314.9" width="1.0" height="1.0" fill-opacity="0.54"/><rect x="591.7" y="286.6" width="1.0" height="1.0" fill-opacity="0.22"/><rect x="591.6" y="276.7" width="1.0" height="1.0" fill-opacity="0.43"/><rect x="587.8" y="350.1" width="1.0" height="1.0" fill-opacity="0.30"/><rect x="595.2" y="270.1" width="1.0" height="1.0" fill-opacity="0.43"/><rect x="591.6" y="257.1" width="1.0" height="1.0" fill-opacity="0.41"/><rect x="589.8" y="268.7" width="1.0" height="1.0" fill-opacity="0.35"/><rect x="593.9" y="275.7" width="1.0" height="1.0" fill-opacity="0.43"/><rect x="596.6" y="267.8" width="1.0" height="1.0" fill-opacity="0.51"/><rect x="590.3" y="267.2" width="1.0" height="1.0" fill-opacity="0.37"/><rect x="596.5" y="331.3" width="1.0" height="1.0" fill-opacity="0.51"/><rect x="590.5" y="251.9" width="1.0" height="1.0" fill-opacity="0.31"/><rect x="589.1" y="316.9" width="1.0" height="1.0" fill-opacity="0.47"/><rect x="595.0" y="281.1" width="1.0" height="1.0" fill-opacity="0.24"/><rect x="583.3" y="339.1" width="1.0" height="1.0" fill-opacity="0.34"/><rect x="588.8" y="323.4" width="1.0" height="1.0" fill-opacity="0.26"/><rect x="592.7" y="261.7" width="1.0" height="1.0" fill-opacity="0.33"/><rect x="581.9" y="311.0" width="1.0" height="1.0" fill-opacity="0.23"/><rect x="595.6" y="355.3" width="1.0" height="1.0" fill-opacity="0.50"/><rect x="580.6" y="335.8" width="1.0" height="1.0" fill-opacity="0.40"/><rect x="587.9" y="276.6" width="1.0" height="1.0" fill-opacity="0.23"/><rect x="584.3" y="284.4" width="1.0" height="1.0" fill-opacity="0.24"/><rect x="593.7" y="339.3" width="1.0" height="1.0" fill-opacity="0.48"/><rect x="595.6" y="283.8" width="1.0" height="1.0" fill-opacity="0.44"/><rect x="597.3" y="286.8" width="1.0" height="1.0" fill-opacity="0.25"/><rect x="591.9" y="300.4" width="1.0" height="1.0" fill-opacity="0.31"/><rect x="585.4" y="333.5" width="1.0" height="1.0" fill-opacity="0.51"/><rect x="581.1" y="327.4" width="1.0" height="1.0" fill-opacity="0.47"/><rect x="596.2" y="289.1" width="1.0" height="1.0" fill-opacity="0.30"/><rect x="589.2" y="339.9" width="1.0" height="1.0" fill-opacity="0.27"/><rect x="592.2" y="251.5" width="1.0" height="1.0" fill-opacity="0.48"/><rect x="584.6" y="311.3" width="1.0" height="1.0" fill-opacity="0.40"/><rect x="588.6" y="353.7" width="1.0" height="1.0" fill-opacity="0.24"/><rect x="583.7" y="325.0" width="1.0" height="1.0" fill-opacity="0.44"/><rect x="582.3" y="253.0" width="1.0" height="1.0" fill-opacity="0.20"/><rect x="593.9" y="337.4" width="1.0" height="1.0" fill-opacity="0.47"/><rect x="595.5" y="308.2" width="1.0" height="1.0" fill-opacity="0.52"/><rect x="585.6" y="293.2" width="1.0" height="1.0" fill-opacity="0.54"/><rect x="590.6" y="325.9" width="1.0" height="1.0" fill-opacity="0.31"/><rect x="591.5" y="303.5" width="1.0" height="1.0" fill-opacity="0.51"/><rect x="585.0" y="299.3" width="1.0" height="1.0" fill-opacity="0.40"/><rect x="590.6" y="308.4" width="1.0" height="1.0" fill-opacity="0.51"/><rect x="589.8" y="303.8" width="1.0" height="1.0" fill-opacity="0.50"/><rect x="587.7" y="286.2" width="1.0" height="1.0" fill-opacity="0.33"/><rect x="580.1" y="322.2" width="1.0" height="1.0" fill-opacity="0.22"/><rect x="585.6" y="255.9" width="1.0" height="1.0" fill-opacity="0.29"/><rect x="588.0" y="256.1" width="1.0" height="1.0" fill-opacity="0.52"/><rect x="585.6" y="311.8" width="1.0" height="1.0" fill-opacity="0.41"/><rect x="591.6" y="360.2" width="1.0" height="1.0" fill-opacity="0.53"/><rect x="592.5" y="342.8" width="1.0" height="1.0" fill-opacity="0.32"/><rect x="591.3" y="296.0" width="1.0" height="1.0" fill-opacity="0.55"/><rect x="590.7" y="358.2" width="1.0" height="1.0" fill-opacity="0.21"/><rect x="593.8" y="253.6" width="1.0" height="1.0" fill-opacity="0.38"/><rect x="583.2" y="325.2" width="1.0" height="1.0" fill-opacity="0.30"/><rect x="587.2" y="326.9" width="1.0" height="1.0" fill-opacity="0.45"/><rect x="589.7" y="300.8" width="1.0" height="1.0" fill-opacity="0.36"/><rect x="591.5" y="268.6" width="1.0" height="1.0" fill-opacity="0.50"/><rect x="592.6" y="346.0" width="1.0" height="1.0" fill-opacity="0.26"/><rect x="584.2" y="332.6" width="1.0" height="1.0" fill-opacity="0.54"/><rect x="586.9" y="247.7" width="1.0" height="1.0" fill-opacity="0.41"/><rect x="594.0" y="344.9" width="1.0" height="1.0" fill-opacity="0.32"/><rect x="588.8" y="285.2" width="1.0" height="1.0" fill-opacity="0.54"/><rect x="593.2" y="342.8" width="1.0" height="1.0" fill-opacity="0.22"/><rect x="602.8" y="332.0" width="1.0" height="1.0" fill-opacity="0.24"/><rect x="588.7" y="362.9" width="1.0" height="1.0" fill-opacity="0.39"/><rect x="592.1" y="312.0" width="1.0" height="1.0" fill-opacity="0.33"/><rect x="600.6" y="355.3" width="1.0" height="1.0" fill-opacity="0.29"/><rect x="586.3" y="249.1" width="1.0" height="1.0" fill-opacity="0.35"/><rect x="585.2" y="276.5" width="1.0" height="1.0" fill-opacity="0.28"/><rect x="595.3" y="322.7" width="1.0" height="1.0" fill-opacity="0.23"/><rect x="588.3" y="255.3" width="1.0" height="1.0" fill-opacity="0.25"/><rect x="585.2" y="362.7" width="1.0" height="1.0" fill-opacity="0.48"/><rect x="602.2" y="339.2" width="1.0" height="1.0" fill-opacity="0.39"/><rect x="587.6" y="307.1" width="1.0" height="1.0" fill-opacity="0.54"/><rect x="593.1" y="324.7" width="1.0" height="1.0" fill-opacity="0.40"/><rect x="585.3" y="270.1" width="1.0" height="1.0" fill-opacity="0.50"/><rect x="587.3" y="309.3" width="1.0" height="1.0" fill-opacity="0.52"/><rect x="588.6" y="268.5" width="1.0" height="1.0" fill-opacity="0.34"/><rect x="592.4" y="296.8" width="1.0" height="1.0" fill-opacity="0.45"/><rect x="590.0" y="276.6" width="1.0" height="1.0" fill-opacity="0.48"/><rect x="590.3" y="349.3" width="1.0" height="1.0" fill-opacity="0.46"/><rect x="590.5" y="289.3" width="1.0" height="1.0" fill-opacity="0.21"/><rect x="581.9" y="255.7" width="1.0" height="1.0" fill-opacity="0.44"/><rect x="596.0" y="283.6" width="1.0" height="1.0" fill-opacity="0.37"/><rect x="588.5" y="293.7" width="1.0" height="1.0" fill-opacity="0.48"/><rect x="585.4" y="258.8" width="1.0" height="1.0" fill-opacity="0.42"/><rect x="597.1" y="353.5" width="1.0" height="1.0" fill-opacity="0.43"/><rect x="595.5" y="261.9" width="1.0" height="1.0" fill-opacity="0.41"/><rect x="581.8" y="301.8" width="1.0" height="1.0" fill-opacity="0.41"/><rect x="591.4" y="268.6" width="1.0" height="1.0" fill-opacity="0.36"/><rect x="597.0" y="351.0" width="1.0" height="1.0" fill-opacity="0.31"/><rect x="589.8" y="320.1" width="1.0" height="1.0" fill-opacity="0.46"/><rect x="595.4" y="327.1" width="1.0" height="1.0" fill-opacity="0.53"/><rect x="590.0" y="322.7" width="1.0" height="1.0" fill-opacity="0.50"/><rect x="592.0" y="287.1" width="1.0" height="1.0" fill-opacity="0.31"/><rect x="589.8" y="333.4" width="1.0" height="1.0" fill-opacity="0.42"/><rect x="592.1" y="324.7" width="1.0" height="1.0" fill-opacity="0.21"/><rect x="590.0" y="250.1" width="1.0" height="1.0" fill-opacity="0.38"/><rect x="593.5" y="270.5" width="1.0" height="1.0" fill-opacity="0.54"/><rect x="585.6" y="318.9" width="1.0" height="1.0" fill-opacity="0.39"/><rect x="594.1" y="337.5" width="1.0" height="1.0" fill-opacity="0.31"/><rect x="590.1" y="305.1" width="1.0" height="1.0" fill-opacity="0.21"/><rect x="590.9" y="317.7" width="1.0" height="1.0" fill-opacity="0.47"/><rect x="587.6" y="307.8" width="1.0" height="1.0" fill-opacity="0.35"/><rect x="600.7" y="361.9" width="1.0" height="1.0" fill-opacity="0.46"/><rect x="584.1" y="263.4" width="1.0" height="1.0" fill-opacity="0.21"/><rect x="586.8" y="325.1" width="1.0" height="1.0" fill-opacity="0.29"/><rect x="586.5" y="308.7" width="1.0" height="1.0" fill-opacity="0.21"/><rect x="596.2" y="341.5" width="1.0" height="1.0" fill-opacity="0.20"/><rect x="588.5" y="259.9" width="1.0" height="1.0" fill-opacity="0.48"/><rect x="580.2" y="261.0" width="1.0" height="1.0" fill-opacity="0.20"/><rect x="593.1" y="344.7" width="1.0" height="1.0" fill-opacity="0.28"/><rect x="584.2" y="261.0" width="1.0" height="1.0" fill-opacity="0.31"/><rect x="581.9" y="361.0" width="1.0" height="1.0" fill-opacity="0.48"/><rect x="594.8" y="361.5" width="1.0" height="1.0" fill-opacity="0.47"/><rect x="597.9" y="358.8" width="1.0" height="1.0" fill-opacity="0.28"/><rect x="594.5" y="286.6" width="1.0" height="1.0" fill-opacity="0.55"/><rect x="587.1" y="336.0" width="1.0" height="1.0" fill-opacity="0.46"/><rect x="594.8" y="350.0" width="1.0" height="1.0" fill-opacity="0.31"/><rect x="585.0" y="332.5" width="1.0" height="1.0" fill-opacity="0.40"/><rect x="587.5" y="258.3" width="1.0" height="1.0" fill-opacity="0.31"/><rect x="588.2" y="252.7" width="1.0" height="1.0" fill-opacity="0.42"/><rect x="581.3" y="330.8" width="1.0" height="1.0" fill-opacity="0.49"/><rect x="585.0" y="273.4" width="1.0" height="1.0" fill-opacity="0.29"/><rect x="587.8" y="347.3" width="1.0" height="1.0" fill-opacity="0.42"/><rect x="589.4" y="267.0" width="1.0" height="1.0" fill-opacity="0.22"/><rect x="596.5" y="309.6" width="1.0" height="1.0" fill-opacity="0.37"/><rect x="585.3" y="314.0" width="1.0" height="1.0" fill-opacity="0.47"/><rect x="584.5" y="247.1" width="1.0" height="1.0" fill-opacity="0.54"/><rect x="593.0" y="261.7" width="1.0" height="1.0" fill-opacity="0.43"/><rect x="592.5" y="249.3" width="1.0" height="1.0" fill-opacity="0.37"/><rect x="587.3" y="277.0" width="1.0" height="1.0" fill-opacity="0.20"/><rect x="592.5" y="275.3" width="1.0" height="1.0" fill-opacity="0.31"/><rect x="589.5" y="288.7" width="1.0" height="1.0" fill-opacity="0.49"/><rect x="591.0" y="304.2" width="1.0" height="1.0" fill-opacity="0.20"/><rect x="586.4" y="351.5" width="1.0" height="1.0" fill-opacity="0.49"/><rect x="591.0" y="261.2" width="1.0" height="1.0" fill-opacity="0.38"/><rect x="586.8" y="260.6" width="1.0" height="1.0" fill-opacity="0.44"/><rect x="596.9" y="319.0" width="1.0" height="1.0" fill-opacity="0.33"/><rect x="595.7" y="248.9" width="1.0" height="1.0" fill-opacity="0.52"/><rect x="580.7" y="336.2" width="1.0" height="1.0" fill-opacity="0.26"/><rect x="596.4" y="270.2" width="1.0" height="1.0" fill-opacity="0.49"/><rect x="582.2" y="355.6" width="1.0" height="1.0" fill-opacity="0.29"/><rect x="590.5" y="325.1" width="1.0" height="1.0" fill-opacity="0.24"/><rect x="595.3" y="268.4" width="1.0" height="1.0" fill-opacity="0.25"/><rect x="585.7" y="321.3" width="1.0" height="1.0" fill-opacity="0.50"/><rect x="584.9" y="271.3" width="1.0" height="1.0" fill-opacity="0.39"/><rect x="591.3" y="275.0" width="1.0" height="1.0" fill-opacity="0.32"/><rect x="591.7" y="323.1" width="1.0" height="1.0" fill-opacity="0.23"/><rect x="588.8" y="315.6" width="1.0" height="1.0" fill-opacity="0.23"/><rect x="589.8" y="316.7" width="1.0" height="1.0" fill-opacity="0.23"/><rect x="584.3" y="274.9" width="1.0" height="1.0" fill-opacity="0.32"/><rect x="586.4" y="292.9" width="1.0" height="1.0" fill-opacity="0.35"/><rect x="599.3" y="344.4" width="1.0" height="1.0" fill-opacity="0.39"/><rect x="589.3" y="321.0" width="1.0" height="1.0" fill-opacity="0.54"/><rect x="591.5" y="335.2" width="1.0" height="1.0" fill-opacity="0.35"/><rect x="596.9" y="337.6" width="1.0" height="1.0" fill-opacity="0.28"/><rect x="582.3" y="303.8" width="1.0" height="1.0" fill-opacity="0.45"/><rect x="593.8" y="362.9" width="1.0" height="1.0" fill-opacity="0.48"/><rect x="577.0" y="324.6" width="1.0" height="1.0" fill-opacity="0.36"/><rect x="590.4" y="250.0" width="1.0" height="1.0" fill-opacity="0.36"/><rect x="595.0" y="282.8" width="1.0" height="1.0" fill-opacity="0.22"/><rect x="593.9" y="298.5" width="1.0" height="1.0" fill-opacity="0.32"/><rect x="587.8" y="308.5" width="1.0" height="1.0" fill-opacity="0.21"/><rect x="591.9" y="359.5" width="1.0" height="1.0" fill-opacity="0.30"/><rect x="589.7" y="284.1" width="1.0" height="1.0" fill-opacity="0.48"/><rect x="583.6" y="262.4" width="1.0" height="1.0" fill-opacity="0.27"/><rect x="579.3" y="293.3" width="1.0" height="1.0" fill-opacity="0.35"/><rect x="599.4" y="358.8" width="1.0" height="1.0" fill-opacity="0.42"/><rect x="589.3" y="343.1" width="1.0" height="1.0" fill-opacity="0.54"/><rect x="591.3" y="314.5" width="1.0" height="1.0" fill-opacity="0.22"/><rect x="587.2" y="290.4" width="1.0" height="1.0" fill-opacity="0.52"/><rect x="586.5" y="279.0" width="1.0" height="1.0" fill-opacity="0.51"/><rect x="591.3" y="271.4" width="1.0" height="1.0" fill-opacity="0.48"/><rect x="591.8" y="295.1" width="1.0" height="1.0" fill-opacity="0.48"/><rect x="581.6" y="350.2" width="1.0" height="1.0" fill-opacity="0.32"/><rect x="594.8" y="301.7" width="1.0" height="1.0" fill-opacity="0.29"/><rect x="586.1" y="304.6" width="1.0" height="1.0" fill-opacity="0.22"/><rect x="580.3" y="348.5" width="1.0" height="1.0" fill-opacity="0.25"/><rect x="585.1" y="301.4" width="1.0" height="1.0" fill-opacity="0.24"/><rect x="588.9" y="353.9" width="1.0" height="1.0" fill-opacity="0.41"/><rect x="583.6" y="357.6" width="1.0" height="1.0" fill-opacity="0.41"/><rect x="592.1" y="348.1" width="1.0" height="1.0" fill-opacity="0.25"/><rect x="593.5" y="314.6" width="1.0" height="1.0" fill-opacity="0.36"/><rect x="588.6" y="263.3" width="1.0" height="1.0" fill-opacity="0.31"/><rect x="583.4" y="355.9" width="1.0" height="1.0" fill-opacity="0.52"/><rect x="585.4" y="255.0" width="1.0" height="1.0" fill-opacity="0.29"/><rect x="593.8" y="352.0" width="1.0" height="1.0" fill-opacity="0.25"/><rect x="594.6" y="359.2" width="1.0" height="1.0" fill-opacity="0.24"/><rect x="586.2" y="307.0" width="1.0" height="1.0" fill-opacity="0.47"/><rect x="590.8" y="279.4" width="1.0" height="1.0" fill-opacity="0.41"/><rect x="589.9" y="334.1" width="1.0" height="1.0" fill-opacity="0.35"/><rect x="592.8" y="272.9" width="1.0" height="1.0" fill-opacity="0.22"/><rect x="587.3" y="255.8" width="1.0" height="1.0" fill-opacity="0.34"/><rect x="589.7" y="288.2" width="1.0" height="1.0" fill-opacity="0.38"/><rect x="588.6" y="258.4" width="1.0" height="1.0" fill-opacity="0.40"/><rect x="594.1" y="285.0" width="1.0" height="1.0" fill-opacity="0.24"/><rect x="582.7" y="253.1" width="1.0" height="1.0" fill-opacity="0.29"/><rect x="600.7" y="359.3" width="1.0" height="1.0" fill-opacity="0.24"/><rect x="587.9" y="335.4" width="1.0" height="1.0" fill-opacity="0.37"/><rect x="592.8" y="316.5" width="1.0" height="1.0" fill-opacity="0.25"/><rect x="592.6" y="319.4" width="1.0" height="1.0" fill-opacity="0.50"/><rect x="594.2" y="248.1" width="1.0" height="1.0" fill-opacity="0.29"/><rect x="589.3" y="259.9" width="1.0" height="1.0" fill-opacity="0.48"/><rect x="589.5" y="312.2" width="1.0" height="1.0" fill-opacity="0.41"/><rect x="589.6" y="336.4" width="1.0" height="1.0" fill-opacity="0.38"/><rect x="588.7" y="272.8" width="1.0" height="1.0" fill-opacity="0.24"/><rect x="588.2" y="339.4" width="1.0" height="1.0" fill-opacity="0.39"/><rect x="586.5" y="358.8" width="1.0" height="1.0" fill-opacity="0.40"/><rect x="588.0" y="289.7" width="1.0" height="1.0" fill-opacity="0.35"/><rect x="587.8" y="361.5" width="1.0" height="1.0" fill-opacity="0.40"/><rect x="587.4" y="301.9" width="1.0" height="1.0" fill-opacity="0.45"/><rect x="587.1" y="305.9" width="1.0" height="1.0" fill-opacity="0.49"/><rect x="596.8" y="320.1" width="1.0" height="1.0" fill-opacity="0.30"/><rect x="586.2" y="306.2" width="1.0" height="1.0" fill-opacity="0.47"/><rect x="589.2" y="288.2" width="1.0" height="1.0" fill-opacity="0.29"/><rect x="593.8" y="351.6" width="1.0" height="1.0" fill-opacity="0.22"/><rect x="588.4" y="249.9" width="1.0" height="1.0" fill-opacity="0.50"/><rect x="582.3" y="286.1" width="1.0" height="1.0" fill-opacity="0.26"/><rect x="593.0" y="338.3" width="1.0" height="1.0" fill-opacity="0.44"/><rect x="590.9" y="259.0" width="1.0" height="1.0" fill-opacity="0.21"/><rect x="594.1" y="313.4" width="1.0" height="1.0" fill-opacity="0.52"/><rect x="583.5" y="353.5" width="1.0" height="1.0" fill-opacity="0.30"/><rect x="591.3" y="355.7" width="1.0" height="1.0" fill-opacity="0.37"/><rect x="592.5" y="288.0" width="1.0" height="1.0" fill-opacity="0.38"/><rect x="597.2" y="354.5" width="1.0" height="1.0" fill-opacity="0.47"/><rect x="587.8" y="250.6" width="1.0" height="1.0" fill-opacity="0.43"/><rect x="583.0" y="251.2" width="1.0" height="1.0" fill-opacity="0.36"/><rect x="592.7" y="316.8" width="1.0" height="1.0" fill-opacity="0.52"/><rect x="590.8" y="266.1" width="1.0" height="1.0" fill-opacity="0.45"/><rect x="583.9" y="347.4" width="1.0" height="1.0" fill-opacity="0.23"/><rect x="582.2" y="341.0" width="1.0" height="1.0" fill-opacity="0.32"/><rect x="589.8" y="347.4" width="1.0" height="1.0" fill-opacity="0.22"/><rect x="589.4" y="357.7" width="1.0" height="1.0" fill-opacity="0.42"/><rect x="586.9" y="259.2" width="1.0" height="1.0" fill-opacity="0.32"/><rect x="588.4" y="300.8" width="1.0" height="1.0" fill-opacity="0.22"/><rect x="597.7" y="322.0" width="1.0" height="1.0" fill-opacity="0.23"/><rect x="584.7" y="310.0" width="1.0" height="1.0" fill-opacity="0.53"/><rect x="589.0" y="256.4" width="1.0" height="1.0" fill-opacity="0.54"/><rect x="586.8" y="351.7" width="1.0" height="1.0" fill-opacity="0.37"/><rect x="588.5" y="323.8" width="1.0" height="1.0" fill-opacity="0.30"/><rect x="584.1" y="329.9" width="1.0" height="1.0" fill-opacity="0.28"/><rect x="588.9" y="303.1" width="1.0" height="1.0" fill-opacity="0.30"/><rect x="588.3" y="278.0" width="1.0" height="1.0" fill-opacity="0.47"/><rect x="579.0" y="257.0" width="1.0" height="1.0" fill-opacity="0.47"/><rect x="591.0" y="328.6" width="1.0" height="1.0" fill-opacity="0.42"/><rect x="586.6" y="324.1" width="1.0" height="1.0" fill-opacity="0.44"/><rect x="589.5" y="282.9" width="1.0" height="1.0" fill-opacity="0.50"/><rect x="588.4" y="306.3" width="1.0" height="1.0" fill-opacity="0.33"/><rect x="583.8" y="249.6" width="1.0" height="1.0" fill-opacity="0.32"/><rect x="596.7" y="362.5" width="1.0" height="1.0" fill-opacity="0.26"/><rect x="585.7" y="279.8" width="1.0" height="1.0" fill-opacity="0.48"/><rect x="589.8" y="317.2" width="1.0" height="1.0" fill-opacity="0.49"/><rect x="585.7" y="334.8" width="1.0" height="1.0" fill-opacity="0.49"/><rect x="588.6" y="294.6" width="1.0" height="1.0" fill-opacity="0.51"/><rect x="591.7" y="303.8" width="1.0" height="1.0" fill-opacity="0.39"/><rect x="584.8" y="255.1" width="1.0" height="1.0" fill-opacity="0.39"/><rect x="596.5" y="277.0" width="1.0" height="1.0" fill-opacity="0.28"/><rect x="600.9" y="286.6" width="1.0" height="1.0" fill-opacity="0.54"/><rect x="585.5" y="306.7" width="1.0" height="1.0" fill-opacity="0.24"/><rect x="589.9" y="289.2" width="1.0" height="1.0" fill-opacity="0.30"/><rect x="596.0" y="253.1" width="1.0" height="1.0" fill-opacity="0.22"/><rect x="581.1" y="322.0" width="1.0" height="1.0" fill-opacity="0.34"/><rect x="579.2" y="317.6" width="1.0" height="1.0" fill-opacity="0.51"/><rect x="588.2" y="248.0" width="1.0" height="1.0" fill-opacity="0.47"/><rect x="566.2" y="458.8" width="1.0" height="1.0" fill-opacity="0.47"/><rect x="565.1" y="440.2" width="1.0" height="1.0" fill-opacity="0.49"/><rect x="571.5" y="456.8" width="1.0" height="1.0" fill-opacity="0.42"/><rect x="567.0" y="469.5" width="1.0" height="1.0" fill-opacity="0.49"/><rect x="573.5" y="472.6" width="1.0" height="1.0" fill-opacity="0.36"/><rect x="560.7" y="474.2" width="1.0" height="1.0" fill-opacity="0.39"/><rect x="561.1" y="410.2" width="1.0" height="1.0" fill-opacity="0.46"/><rect x="568.8" y="421.6" width="1.0" height="1.0" fill-opacity="0.50"/><rect x="562.8" y="398.3" width="1.0" height="1.0" fill-opacity="0.48"/><rect x="566.2" y="431.6" width="1.0" height="1.0" fill-opacity="0.46"/><rect x="557.5" y="456.3" width="1.0" height="1.0" fill-opacity="0.49"/><rect x="566.6" y="445.6" width="1.0" height="1.0" fill-opacity="0.34"/><rect x="552.7" y="406.9" width="1.0" height="1.0" fill-opacity="0.33"/><rect x="563.5" y="487.4" width="1.0" height="1.0" fill-opacity="0.24"/><rect x="561.9" y="396.6" width="1.0" height="1.0" fill-opacity="0.28"/><rect x="561.1" y="469.1" width="1.0" height="1.0" fill-opacity="0.33"/><rect x="558.9" y="433.0" width="1.0" height="1.0" fill-opacity="0.49"/><rect x="563.3" y="405.5" width="1.0" height="1.0" fill-opacity="0.36"/><rect x="573.2" y="465.6" width="1.0" height="1.0" fill-opacity="0.31"/><rect x="566.3" y="422.6" width="1.0" height="1.0" fill-opacity="0.33"/><rect x="562.2" y="446.4" width="1.0" height="1.0" fill-opacity="0.32"/><rect x="573.2" y="421.7" width="1.0" height="1.0" fill-opacity="0.34"/><rect x="560.2" y="465.3" width="1.0" height="1.0" fill-opacity="0.23"/><rect x="558.5" y="407.0" width="1.0" height="1.0" fill-opacity="0.26"/><rect x="556.6" y="459.5" width="1.0" height="1.0" fill-opacity="0.27"/><rect x="575.6" y="410.7" width="1.0" height="1.0" fill-opacity="0.24"/><rect x="563.9" y="451.0" width="1.0" height="1.0" fill-opacity="0.40"/><rect x="575.5" y="454.0" width="1.0" height="1.0" fill-opacity="0.40"/><rect x="554.0" y="401.3" width="1.0" height="1.0" fill-opacity="0.31"/><rect x="575.5" y="401.0" width="1.0" height="1.0" fill-opacity="0.43"/><rect x="558.8" y="430.1" width="1.0" height="1.0" fill-opacity="0.28"/><rect x="569.4" y="405.1" width="1.0" height="1.0" fill-opacity="0.41"/><rect x="576.5" y="489.5" width="1.0" height="1.0" fill-opacity="0.48"/><rect x="561.0" y="394.5" width="1.0" height="1.0" fill-opacity="0.24"/><rect x="557.5" y="481.1" width="1.0" height="1.0" fill-opacity="0.33"/><rect x="558.2" y="406.9" width="1.0" height="1.0" fill-opacity="0.36"/><rect x="569.7" y="404.4" width="1.0" height="1.0" fill-opacity="0.46"/><rect x="558.0" y="450.8" width="1.0" height="1.0" fill-opacity="0.28"/><rect x="559.2" y="413.3" width="1.0" height="1.0" fill-opacity="0.30"/><rect x="557.6" y="441.6" width="1.0" height="1.0" fill-opacity="0.36"/><rect x="566.1" y="412.7" width="1.0" height="1.0" fill-opacity="0.44"/><rect x="568.9" y="456.7" width="1.0" height="1.0" fill-opacity="0.21"/><rect x="560.9" y="464.2" width="1.0" height="1.0" fill-opacity="0.34"/><rect x="564.1" y="431.9" width="1.0" height="1.0" fill-opacity="0.37"/><rect x="576.6" y="443.5" width="1.0" height="1.0" fill-opacity="0.37"/><rect x="567.5" y="421.0" width="1.0" height="1.0" fill-opacity="0.26"/><rect x="557.8" y="477.8" width="1.0" height="1.0" fill-opacity="0.37"/><rect x="569.9" y="395.4" width="1.0" height="1.0" fill-opacity="0.42"/><rect x="565.3" y="449.6" width="1.0" height="1.0" fill-opacity="0.25"/><rect x="564.1" y="454.5" width="1.0" height="1.0" fill-opacity="0.50"/><rect x="579.8" y="445.3" width="1.0" height="1.0" fill-opacity="0.35"/><rect x="565.3" y="396.3" width="1.0" height="1.0" fill-opacity="0.45"/><rect x="561.9" y="414.1" width="1.0" height="1.0" fill-opacity="0.37"/><rect x="565.4" y="463.6" width="1.0" height="1.0" fill-opacity="0.25"/><rect x="560.3" y="455.0" width="1.0" height="1.0" fill-opacity="0.29"/><rect x="564.7" y="476.2" width="1.0" height="1.0" fill-opacity="0.28"/><rect x="555.5" y="490.8" width="1.0" height="1.0" fill-opacity="0.48"/><rect x="558.8" y="475.8" width="1.0" height="1.0" fill-opacity="0.44"/><rect x="553.1" y="432.3" width="1.0" height="1.0" fill-opacity="0.44"/><rect x="565.1" y="447.0" width="1.0" height="1.0" fill-opacity="0.20"/><rect x="562.9" y="401.9" width="1.0" height="1.0" fill-opacity="0.45"/><rect x="564.5" y="482.0" width="1.0" height="1.0" fill-opacity="0.43"/><rect x="567.3" y="433.9" width="1.0" height="1.0" fill-opacity="0.38"/><rect x="556.2" y="488.8" width="1.0" height="1.0" fill-opacity="0.34"/><rect x="563.6" y="462.4" width="1.0" height="1.0" fill-opacity="0.23"/><rect x="564.6" y="486.7" width="1.0" height="1.0" fill-opacity="0.31"/><rect x="556.1" y="401.4" width="1.0" height="1.0" fill-opacity="0.36"/><rect x="568.3" y="480.3" width="1.0" height="1.0" fill-opacity="0.44"/><rect x="573.6" y="479.5" width="1.0" height="1.0" fill-opacity="0.26"/><rect x="563.0" y="444.4" width="1.0" height="1.0" fill-opacity="0.29"/><rect x="557.2" y="432.0" width="1.0" height="1.0" fill-opacity="0.33"/><rect x="562.4" y="441.3" width="1.0" height="1.0" fill-opacity="0.40"/><rect x="558.3" y="393.2" width="1.0" height="1.0" fill-opacity="0.49"/><rect x="568.1" y="447.7" width="1.0" height="1.0" fill-opacity="0.22"/><rect x="562.9" y="407.6" width="1.0" height="1.0" fill-opacity="0.46"/><rect x="563.0" y="396.3" width="1.0" height="1.0" fill-opacity="0.25"/><rect x="571.5" y="484.3" width="1.0" height="1.0" fill-opacity="0.33"/><rect x="569.8" y="453.0" width="1.0" height="1.0" fill-opacity="0.39"/><rect x="569.0" y="448.0" width="1.0" height="1.0" fill-opacity="0.29"/><rect x="571.3" y="454.8" width="1.0" height="1.0" fill-opacity="0.25"/><rect x="559.4" y="463.8" width="1.0" height="1.0" fill-opacity="0.44"/><rect x="562.6" y="434.5" width="1.0" height="1.0" fill-opacity="0.46"/><rect x="570.9" y="467.9" width="1.0" height="1.0" fill-opacity="0.43"/><rect x="558.9" y="455.1" width="1.0" height="1.0" fill-opacity="0.36"/><rect x="569.0" y="409.2" width="1.0" height="1.0" fill-opacity="0.45"/><rect x="574.7" y="423.9" width="1.0" height="1.0" fill-opacity="0.31"/><rect x="574.4" y="412.5" width="1.0" height="1.0" fill-opacity="0.25"/><rect x="566.3" y="392.7" width="1.0" height="1.0" fill-opacity="0.24"/><rect x="558.3" y="400.6" width="1.0" height="1.0" fill-opacity="0.42"/><rect x="565.0" y="490.5" width="1.0" height="1.0" fill-opacity="0.45"/><rect x="570.4" y="485.6" width="1.0" height="1.0" fill-opacity="0.36"/><rect x="559.0" y="424.7" width="1.0" height="1.0" fill-opacity="0.27"/><rect x="559.1" y="454.6" width="1.0" height="1.0" fill-opacity="0.37"/><rect x="573.6" y="400.9" width="1.0" height="1.0" fill-opacity="0.45"/><rect x="564.7" y="456.5" width="1.0" height="1.0" fill-opacity="0.32"/><rect x="573.7" y="451.6" width="1.0" height="1.0" fill-opacity="0.24"/><rect x="572.9" y="468.7" width="1.0" height="1.0" fill-opacity="0.36"/><rect x="564.9" y="425.6" width="1.0" height="1.0" fill-opacity="0.34"/><rect x="570.8" y="468.4" width="1.0" height="1.0" fill-opacity="0.28"/><rect x="567.3" y="418.5" width="1.0" height="1.0" fill-opacity="0.26"/><rect x="555.5" y="483.3" width="1.0" height="1.0" fill-opacity="0.42"/><rect x="573.8" y="448.5" width="1.0" height="1.0" fill-opacity="0.20"/><rect x="569.8" y="456.4" width="1.0" height="1.0" fill-opacity="0.35"/><rect x="569.0" y="421.5" width="1.0" height="1.0" fill-opacity="0.47"/><rect x="569.5" y="399.4" width="1.0" height="1.0" fill-opacity="0.29"/><rect x="552.1" y="479.7" width="1.0" height="1.0" fill-opacity="0.46"/><rect x="564.1" y="477.4" width="1.0" height="1.0" fill-opacity="0.41"/><rect x="575.3" y="484.0" width="1.0" height="1.0" fill-opacity="0.44"/><rect x="554.8" y="489.8" width="1.0" height="1.0" fill-opacity="0.40"/><rect x="559.4" y="442.9" width="1.0" height="1.0" fill-opacity="0.35"/><rect x="570.8" y="418.6" width="1.0" height="1.0" fill-opacity="0.41"/><rect x="553.9" y="444.0" width="1.0" height="1.0" fill-opacity="0.37"/><rect x="569.8" y="439.7" width="1.0" height="1.0" fill-opacity="0.22"/><rect x="575.0" y="476.1" width="1.0" height="1.0" fill-opacity="0.44"/><rect x="566.3" y="418.2" width="1.0" height="1.0" fill-opacity="0.48"/><rect x="571.5" y="437.9" width="1.0" height="1.0" fill-opacity="0.40"/><rect x="561.6" y="392.5" width="1.0" height="1.0" fill-opacity="0.28"/><rect x="564.0" y="476.0" width="1.0" height="1.0" fill-opacity="0.40"/><rect x="579.8" y="464.5" width="1.0" height="1.0" fill-opacity="0.30"/><rect x="569.5" y="399.7" width="1.0" height="1.0" fill-opacity="0.37"/><rect x="554.4" y="426.7" width="1.0" height="1.0" fill-opacity="0.24"/><rect x="560.9" y="467.5" width="1.0" height="1.0" fill-opacity="0.27"/><rect x="562.7" y="393.5" width="1.0" height="1.0" fill-opacity="0.21"/><rect x="566.5" y="405.7" width="1.0" height="1.0" fill-opacity="0.42"/><rect x="561.9" y="424.2" width="1.0" height="1.0" fill-opacity="0.36"/><rect x="550.9" y="454.9" width="1.0" height="1.0" fill-opacity="0.28"/><rect x="575.2" y="423.6" width="1.0" height="1.0" fill-opacity="0.33"/><rect x="571.1" y="458.5" width="1.0" height="1.0" fill-opacity="0.25"/><rect x="557.5" y="465.7" width="1.0" height="1.0" fill-opacity="0.35"/><rect x="555.0" y="402.9" width="1.0" height="1.0" fill-opacity="0.43"/><rect x="557.6" y="398.4" width="1.0" height="1.0" fill-opacity="0.34"/><rect x="558.5" y="454.0" width="1.0" height="1.0" fill-opacity="0.36"/><rect x="568.2" y="482.8" width="1.0" height="1.0" fill-opacity="0.28"/><rect x="573.3" y="410.8" width="1.0" height="1.0" fill-opacity="0.48"/><rect x="572.0" y="428.7" width="1.0" height="1.0" fill-opacity="0.47"/><rect x="569.4" y="491.8" width="1.0" height="1.0" fill-opacity="0.22"/><rect x="563.7" y="443.2" width="1.0" height="1.0" fill-opacity="0.20"/><rect x="562.5" y="440.2" width="1.0" height="1.0" fill-opacity="0.24"/><rect x="560.7" y="401.3" width="1.0" height="1.0" fill-opacity="0.24"/><rect x="565.4" y="473.6" width="1.0" height="1.0" fill-opacity="0.44"/><rect x="562.7" y="458.4" width="1.0" height="1.0" fill-opacity="0.29"/><rect x="579.0" y="400.3" width="1.0" height="1.0" fill-opacity="0.27"/><rect x="568.5" y="468.9" width="1.0" height="1.0" fill-opacity="0.21"/><rect x="569.7" y="457.9" width="1.0" height="1.0" fill-opacity="0.40"/><rect x="571.4" y="440.6" width="1.0" height="1.0" fill-opacity="0.26"/><rect x="560.8" y="456.3" width="1.0" height="1.0" fill-opacity="0.22"/><rect x="555.8" y="471.5" width="1.0" height="1.0" fill-opacity="0.35"/><rect x="564.3" y="442.2" width="1.0" height="1.0" fill-opacity="0.28"/><rect x="556.2" y="413.8" width="1.0" height="1.0" fill-opacity="0.20"/><rect x="563.2" y="480.8" width="1.0" height="1.0" fill-opacity="0.35"/><rect x="559.8" y="451.1" width="1.0" height="1.0" fill-opacity="0.34"/><rect x="569.6" y="462.2" width="1.0" height="1.0" fill-opacity="0.44"/><rect x="558.8" y="404.2" width="1.0" height="1.0" fill-opacity="0.28"/><rect x="558.7" y="428.1" width="1.0" height="1.0" fill-opacity="0.50"/><rect x="564.3" y="429.9" width="1.0" height="1.0" fill-opacity="0.41"/><rect x="553.1" y="408.3" width="1.0" height="1.0" fill-opacity="0.31"/><rect x="552.5" y="474.0" width="1.0" height="1.0" fill-opacity="0.30"/><rect x="559.0" y="474.3" width="1.0" height="1.0" fill-opacity="0.34"/><rect x="567.0" y="483.2" width="1.0" height="1.0" fill-opacity="0.47"/><rect x="563.5" y="409.9" width="1.0" height="1.0" fill-opacity="0.26"/><rect x="564.5" y="410.1" width="1.0" height="1.0" fill-opacity="0.34"/><rect x="560.0" y="458.6" width="1.0" height="1.0" fill-opacity="0.41"/><rect x="566.5" y="394.4" width="1.0" height="1.0" fill-opacity="0.45"/><rect x="562.7" y="481.6" width="1.0" height="1.0" fill-opacity="0.41"/><rect x="568.7" y="490.6" width="1.0" height="1.0" fill-opacity="0.40"/><rect x="562.6" y="397.3" width="1.0" height="1.0" fill-opacity="0.49"/><rect x="570.5" y="452.4" width="1.0" height="1.0" fill-opacity="0.22"/><rect x="568.0" y="468.2" width="1.0" height="1.0" fill-opacity="0.25"/><rect x="554.3" y="396.0" width="1.0" height="1.0" fill-opacity="0.37"/><rect x="570.5" y="411.2" width="1.0" height="1.0" fill-opacity="0.44"/><rect x="576.6" y="491.0" width="1.0" height="1.0" fill-opacity="0.25"/><rect x="565.0" y="430.9" width="1.0" height="1.0" fill-opacity="0.44"/><rect x="561.3" y="473.4" width="1.0" height="1.0" fill-opacity="0.30"/><rect x="562.7" y="402.1" width="1.0" height="1.0" fill-opacity="0.43"/><rect x="556.6" y="420.5" width="1.0" height="1.0" fill-opacity="0.26"/><rect x="569.7" y="463.7" width="1.0" height="1.0" fill-opacity="0.21"/><rect x="572.4" y="418.2" width="1.0" height="1.0" fill-opacity="0.43"/><rect x="564.6" y="461.8" width="1.0" height="1.0" fill-opacity="0.39"/><rect x="565.8" y="392.9" width="1.0" height="1.0" fill-opacity="0.45"/><rect x="554.9" y="428.9" width="1.0" height="1.0" fill-opacity="0.48"/><rect x="562.9" y="444.6" width="1.0" height="1.0" fill-opacity="0.43"/><rect x="557.8" y="395.4" width="1.0" height="1.0" fill-opacity="0.30"/><rect x="562.1" y="414.6" width="1.0" height="1.0" fill-opacity="0.29"/><rect x="552.3" y="482.3" width="1.0" height="1.0" fill-opacity="0.24"/><rect x="567.3" y="467.9" width="1.0" height="1.0" fill-opacity="0.43"/><rect x="572.4" y="409.1" width="1.0" height="1.0" fill-opacity="0.40"/><rect x="561.9" y="403.5" width="1.0" height="1.0" fill-opacity="0.37"/><rect x="558.5" y="482.8" width="1.0" height="1.0" fill-opacity="0.37"/><rect x="555.0" y="405.7" width="1.0" height="1.0" fill-opacity="0.50"/><rect x="565.0" y="452.9" width="1.0" height="1.0" fill-opacity="0.41"/><rect x="566.6" y="460.0" width="1.0" height="1.0" fill-opacity="0.28"/><rect x="555.2" y="470.3" width="1.0" height="1.0" fill-opacity="0.23"/><rect x="553.3" y="393.4" width="1.0" height="1.0" fill-opacity="0.39"/><rect x="555.8" y="399.6" width="1.0" height="1.0" fill-opacity="0.46"/><rect x="568.6" y="444.0" width="1.0" height="1.0" fill-opacity="0.44"/><rect x="569.3" y="483.0" width="1.0" height="1.0" fill-opacity="0.26"/><rect x="561.8" y="414.4" width="1.0" height="1.0" fill-opacity="0.33"/><rect x="558.4" y="459.1" width="1.0" height="1.0" fill-opacity="0.20"/><rect x="571.7" y="394.3" width="1.0" height="1.0" fill-opacity="0.23"/><rect x="572.5" y="445.6" width="1.0" height="1.0" fill-opacity="0.36"/><rect x="561.1" y="403.3" width="1.0" height="1.0" fill-opacity="0.23"/><rect x="558.3" y="430.0" width="1.0" height="1.0" fill-opacity="0.50"/><rect x="571.1" y="410.4" width="1.0" height="1.0" fill-opacity="0.49"/><rect x="567.6" y="403.4" width="1.0" height="1.0" fill-opacity="0.36"/><rect x="561.7" y="491.7" width="1.0" height="1.0" fill-opacity="0.28"/><rect x="555.7" y="445.7" width="1.0" height="1.0" fill-opacity="0.31"/><rect x="572.9" y="443.6" width="1.0" height="1.0" fill-opacity="0.43"/><rect x="556.7" y="467.1" width="1.0" height="1.0" fill-opacity="0.26"/><rect x="570.7" y="393.6" width="1.0" height="1.0" fill-opacity="0.26"/><rect x="563.9" y="427.9" width="1.0" height="1.0" fill-opacity="0.46"/><rect x="562.7" y="488.9" width="1.0" height="1.0" fill-opacity="0.48"/><rect x="570.4" y="477.7" width="1.0" height="1.0" fill-opacity="0.46"/><rect x="561.5" y="471.6" width="1.0" height="1.0" fill-opacity="0.39"/><rect x="570.6" y="407.2" width="1.0" height="1.0" fill-opacity="0.38"/><rect x="567.8" y="410.3" width="1.0" height="1.0" fill-opacity="0.37"/><rect x="570.8" y="417.8" width="1.0" height="1.0" fill-opacity="0.40"/><rect x="568.6" y="404.7" width="1.0" height="1.0" fill-opacity="0.25"/><rect x="566.3" y="428.9" width="1.0" height="1.0" fill-opacity="0.46"/><rect x="571.9" y="483.6" width="1.0" height="1.0" fill-opacity="0.33"/><rect x="558.0" y="449.5" width="1.0" height="1.0" fill-opacity="0.29"/><rect x="560.3" y="396.4" width="1.0" height="1.0" fill-opacity="0.33"/><rect x="559.7" y="492.2" width="1.0" height="1.0" fill-opacity="0.50"/><rect x="571.4" y="489.7" width="1.0" height="1.0" fill-opacity="0.37"/><rect x="561.9" y="472.5" width="1.0" height="1.0" fill-opacity="0.35"/><rect x="557.1" y="486.0" width="1.0" height="1.0" fill-opacity="0.36"/><rect x="557.2" y="438.8" width="1.0" height="1.0" fill-opacity="0.22"/><rect x="561.5" y="492.0" width="1.0" height="1.0" fill-opacity="0.33"/><rect x="566.3" y="453.9" width="1.0" height="1.0" fill-opacity="0.27"/><rect x="564.9" y="457.0" width="1.0" height="1.0" fill-opacity="0.41"/><rect x="563.5" y="441.7" width="1.0" height="1.0" fill-opacity="0.33"/><rect x="558.4" y="427.9" width="1.0" height="1.0" fill-opacity="0.50"/><rect x="563.2" y="478.3" width="1.0" height="1.0" fill-opacity="0.44"/><rect x="551.9" y="442.2" width="1.0" height="1.0" fill-opacity="0.24"/><rect x="564.0" y="393.3" width="1.0" height="1.0" fill-opacity="0.35"/><rect x="569.8" y="489.5" width="1.0" height="1.0" fill-opacity="0.35"/><rect x="561.3" y="468.8" width="1.0" height="1.0" fill-opacity="0.36"/><rect x="568.0" y="481.4" width="1.0" height="1.0" fill-opacity="0.34"/><rect x="565.1" y="406.1" width="1.0" height="1.0" fill-opacity="0.28"/><rect x="565.1" y="426.3" width="1.0" height="1.0" fill-opacity="0.27"/><rect x="563.5" y="478.5" width="1.0" height="1.0" fill-opacity="0.23"/><rect x="575.3" y="482.4" width="1.0" height="1.0" fill-opacity="0.22"/><rect x="562.2" y="414.3" width="1.0" height="1.0" fill-opacity="0.24"/><rect x="561.0" y="467.0" width="1.0" height="1.0" fill-opacity="0.29"/><rect x="562.5" y="486.5" width="1.0" height="1.0" fill-opacity="0.43"/><rect x="568.2" y="490.1" width="1.0" height="1.0" fill-opacity="0.28"/><rect x="563.4" y="456.1" width="1.0" height="1.0" fill-opacity="0.38"/><rect x="558.6" y="470.9" width="1.0" height="1.0" fill-opacity="0.40"/><rect x="563.0" y="397.1" width="1.0" height="1.0" fill-opacity="0.35"/><rect x="553.1" y="468.2" width="1.0" height="1.0" fill-opacity="0.40"/><rect x="569.0" y="451.1" width="1.0" height="1.0" fill-opacity="0.38"/><rect x="562.5" y="473.9" width="1.0" height="1.0" fill-opacity="0.48"/><rect x="566.5" y="486.2" width="1.0" height="1.0" fill-opacity="0.48"/><rect x="555.9" y="488.8" width="1.0" height="1.0" fill-opacity="0.38"/><rect x="557.5" y="400.0" width="1.0" height="1.0" fill-opacity="0.42"/><rect x="559.4" y="404.7" width="1.0" height="1.0" fill-opacity="0.28"/><rect x="562.2" y="455.1" width="1.0" height="1.0" fill-opacity="0.42"/><rect x="557.6" y="436.5" width="1.0" height="1.0" fill-opacity="0.31"/><rect x="566.0" y="482.2" width="1.0" height="1.0" fill-opacity="0.29"/><rect x="573.6" y="414.0" width="1.0" height="1.0" fill-opacity="0.43"/><rect x="564.5" y="493.5" width="1.0" height="1.0" fill-opacity="0.42"/><rect x="565.9" y="469.5" width="1.0" height="1.0" fill-opacity="0.47"/><rect x="561.1" y="420.0" width="1.0" height="1.0" fill-opacity="0.31"/><rect x="563.4" y="445.8" width="1.0" height="1.0" fill-opacity="0.39"/><rect x="566.1" y="462.9" width="1.0" height="1.0" fill-opacity="0.32"/><rect x="564.8" y="393.8" width="1.0" height="1.0" fill-opacity="0.37"/><rect x="564.9" y="415.2" width="1.0" height="1.0" fill-opacity="0.36"/><rect x="576.8" y="395.7" width="1.0" height="1.0" fill-opacity="0.22"/><rect x="560.9" y="443.8" width="1.0" height="1.0" fill-opacity="0.36"/><rect x="572.9" y="457.4" width="1.0" height="1.0" fill-opacity="0.47"/><rect x="560.5" y="475.9" width="1.0" height="1.0" fill-opacity="0.30"/><rect x="574.3" y="472.7" width="1.0" height="1.0" fill-opacity="0.32"/><rect x="561.8" y="471.8" width="1.0" height="1.0" fill-opacity="0.22"/><rect x="562.8" y="449.9" width="1.0" height="1.0" fill-opacity="0.38"/><rect x="558.4" y="430.9" width="1.0" height="1.0" fill-opacity="0.40"/><rect x="556.9" y="429.7" width="1.0" height="1.0" fill-opacity="0.45"/><rect x="562.8" y="421.2" width="1.0" height="1.0" fill-opacity="0.32"/><rect x="571.4" y="407.8" width="1.0" height="1.0" fill-opacity="0.42"/><rect x="563.0" y="394.8" width="1.0" height="1.0" fill-opacity="0.32"/><rect x="572.3" y="401.2" width="1.0" height="1.0" fill-opacity="0.34"/><rect x="563.0" y="417.1" width="1.0" height="1.0" fill-opacity="0.30"/><rect x="559.0" y="409.8" width="1.0" height="1.0" fill-opacity="0.37"/><rect x="564.5" y="444.8" width="1.0" height="1.0" fill-opacity="0.43"/><rect x="560.0" y="400.5" width="1.0" height="1.0" fill-opacity="0.43"/><rect x="558.0" y="427.9" width="1.0" height="1.0" fill-opacity="0.46"/><rect x="575.8" y="458.3" width="1.0" height="1.0" fill-opacity="0.33"/><rect x="564.4" y="442.8" width="1.0" height="1.0" fill-opacity="0.31"/><rect x="562.5" y="462.6" width="1.0" height="1.0" fill-opacity="0.28"/><rect x="562.5" y="420.9" width="1.0" height="1.0" fill-opacity="0.29"/><rect x="558.2" y="414.9" width="1.0" height="1.0" fill-opacity="0.25"/><rect x="558.0" y="421.0" width="1.0" height="1.0" fill-opacity="0.22"/><rect x="552.3" y="403.4" width="1.0" height="1.0" fill-opacity="0.29"/><rect x="557.4" y="436.0" width="1.0" height="1.0" fill-opacity="0.49"/><rect x="571.7" y="434.9" width="1.0" height="1.0" fill-opacity="0.39"/><rect x="573.8" y="454.3" width="1.0" height="1.0" fill-opacity="0.24"/><rect x="555.2" y="484.0" width="1.0" height="1.0" fill-opacity="0.41"/><rect x="563.0" y="398.9" width="1.0" height="1.0" fill-opacity="0.42"/><rect x="563.1" y="424.8" width="1.0" height="1.0" fill-opacity="0.20"/><rect x="559.6" y="493.8" width="1.0" height="1.0" fill-opacity="0.30"/><rect x="559.9" y="490.8" width="1.0" height="1.0" fill-opacity="0.31"/><rect x="557.9" y="493.6" width="1.0" height="1.0" fill-opacity="0.29"/><rect x="567.0" y="492.2" width="1.0" height="1.0" fill-opacity="0.34"/><rect x="554.0" y="432.8" width="1.0" height="1.0" fill-opacity="0.49"/><rect x="569.3" y="463.9" width="1.0" height="1.0" fill-opacity="0.45"/><rect x="557.9" y="489.2" width="1.0" height="1.0" fill-opacity="0.20"/><rect x="562.8" y="428.2" width="1.0" height="1.0" fill-opacity="0.20"/><rect x="565.0" y="423.4" width="1.0" height="1.0" fill-opacity="0.31"/><rect x="563.5" y="460.7" width="1.0" height="1.0" fill-opacity="0.40"/><rect x="569.2" y="401.3" width="1.0" height="1.0" fill-opacity="0.34"/><rect x="554.7" y="474.0" width="1.0" height="1.0" fill-opacity="0.35"/><rect x="563.1" y="441.4" width="1.0" height="1.0" fill-opacity="0.30"/><rect x="553.8" y="430.3" width="1.0" height="1.0" fill-opacity="0.40"/><rect x="574.2" y="483.7" width="1.0" height="1.0" fill-opacity="0.31"/><rect x="560.0" y="436.2" width="1.0" height="1.0" fill-opacity="0.38"/><rect x="618.0" y="447.6" width="1.0" height="1.0" fill-opacity="0.47"/><rect x="615.0" y="493.8" width="1.0" height="1.0" fill-opacity="0.42"/><rect x="613.3" y="468.8" width="1.0" height="1.0" fill-opacity="0.46"/><rect x="617.5" y="465.6" width="1.0" height="1.0" fill-opacity="0.27"/><rect x="611.4" y="444.5" width="1.0" height="1.0" fill-opacity="0.34"/><rect x="621.3" y="455.9" width="1.0" height="1.0" fill-opacity="0.49"/><rect x="616.8" y="410.1" width="1.0" height="1.0" fill-opacity="0.38"/><rect x="610.1" y="467.5" width="1.0" height="1.0" fill-opacity="0.29"/><rect x="617.4" y="429.7" width="1.0" height="1.0" fill-opacity="0.39"/><rect x="609.0" y="420.6" width="1.0" height="1.0" fill-opacity="0.20"/><rect x="609.0" y="445.5" width="1.0" height="1.0" fill-opacity="0.47"/><rect x="606.9" y="492.7" width="1.0" height="1.0" fill-opacity="0.32"/><rect x="611.9" y="476.8" width="1.0" height="1.0" fill-opacity="0.31"/><rect x="620.8" y="434.0" width="1.0" height="1.0" fill-opacity="0.45"/><rect x="618.0" y="492.9" width="1.0" height="1.0" fill-opacity="0.39"/><rect x="608.5" y="470.0" width="1.0" height="1.0" fill-opacity="0.46"/><rect x="616.9" y="442.9" width="1.0" height="1.0" fill-opacity="0.46"/><rect x="620.5" y="437.6" width="1.0" height="1.0" fill-opacity="0.39"/><rect x="611.0" y="392.4" width="1.0" height="1.0" fill-opacity="0.26"/><rect x="622.2" y="425.2" width="1.0" height="1.0" fill-opacity="0.28"/><rect x="615.5" y="428.8" width="1.0" height="1.0" fill-opacity="0.31"/><rect x="605.9" y="478.0" width="1.0" height="1.0" fill-opacity="0.37"/><rect x="603.3" y="461.9" width="1.0" height="1.0" fill-opacity="0.20"/><rect x="612.0" y="454.9" width="1.0" height="1.0" fill-opacity="0.32"/><rect x="615.3" y="483.3" width="1.0" height="1.0" fill-opacity="0.39"/><rect x="615.5" y="450.5" width="1.0" height="1.0" fill-opacity="0.45"/><rect x="614.3" y="478.1" width="1.0" height="1.0" fill-opacity="0.21"/><rect x="620.3" y="419.3" width="1.0" height="1.0" fill-opacity="0.36"/><rect x="614.6" y="409.5" width="1.0" height="1.0" fill-opacity="0.39"/><rect x="621.7" y="460.3" width="1.0" height="1.0" fill-opacity="0.25"/><rect x="615.5" y="451.1" width="1.0" height="1.0" fill-opacity="0.21"/><rect x="612.8" y="398.7" width="1.0" height="1.0" fill-opacity="0.48"/><rect x="614.3" y="408.4" width="1.0" height="1.0" fill-opacity="0.23"/><rect x="617.1" y="481.5" width="1.0" height="1.0" fill-opacity="0.47"/><rect x="609.7" y="457.0" width="1.0" height="1.0" fill-opacity="0.40"/><rect x="612.3" y="432.6" width="1.0" height="1.0" fill-opacity="0.45"/><rect x="609.2" y="433.4" width="1.0" height="1.0" fill-opacity="0.30"/><rect x="601.8" y="433.0" width="1.0" height="1.0" fill-opacity="0.26"/><rect x="618.6" y="472.5" width="1.0" height="1.0" fill-opacity="0.29"/><rect x="622.4" y="470.9" width="1.0" height="1.0" fill-opacity="0.23"/><rect x="610.4" y="411.1" width="1.0" height="1.0" fill-opacity="0.27"/><rect x="608.7" y="422.9" width="1.0" height="1.0" fill-opacity="0.30"/><rect x="617.6" y="481.1" width="1.0" height="1.0" fill-opacity="0.34"/><rect x="610.1" y="438.9" width="1.0" height="1.0" fill-opacity="0.49"/><rect x="620.0" y="432.2" width="1.0" height="1.0" fill-opacity="0.29"/><rect x="627.1" y="397.3" width="1.0" height="1.0" fill-opacity="0.41"/><rect x="614.2" y="473.7" width="1.0" height="1.0" fill-opacity="0.28"/><rect x="606.1" y="453.0" width="1.0" height="1.0" fill-opacity="0.21"/><rect x="610.2" y="465.5" width="1.0" height="1.0" fill-opacity="0.22"/><rect x="616.2" y="470.9" width="1.0" height="1.0" fill-opacity="0.24"/><rect x="605.4" y="461.9" width="1.0" height="1.0" fill-opacity="0.32"/><rect x="618.0" y="481.0" width="1.0" height="1.0" fill-opacity="0.30"/><rect x="605.3" y="451.9" width="1.0" height="1.0" fill-opacity="0.41"/><rect x="619.4" y="417.8" width="1.0" height="1.0" fill-opacity="0.35"/><rect x="627.1" y="451.5" width="1.0" height="1.0" fill-opacity="0.33"/><rect x="617.1" y="479.2" width="1.0" height="1.0" fill-opacity="0.37"/><rect x="606.3" y="467.5" width="1.0" height="1.0" fill-opacity="0.22"/><rect x="606.6" y="408.7" width="1.0" height="1.0" fill-opacity="0.39"/><rect x="618.5" y="394.9" width="1.0" height="1.0" fill-opacity="0.36"/><rect x="618.8" y="439.4" width="1.0" height="1.0" fill-opacity="0.20"/><rect x="617.7" y="417.9" width="1.0" height="1.0" fill-opacity="0.25"/><rect x="617.1" y="409.0" width="1.0" height="1.0" fill-opacity="0.34"/><rect x="619.8" y="467.0" width="1.0" height="1.0" fill-opacity="0.22"/><rect x="612.2" y="400.6" width="1.0" height="1.0" fill-opacity="0.39"/><rect x="618.7" y="441.3" width="1.0" height="1.0" fill-opacity="0.42"/><rect x="613.8" y="483.5" width="1.0" height="1.0" fill-opacity="0.45"/><rect x="619.5" y="444.2" width="1.0" height="1.0" fill-opacity="0.28"/><rect x="611.2" y="412.8" width="1.0" height="1.0" fill-opacity="0.24"/><rect x="606.1" y="423.5" width="1.0" height="1.0" fill-opacity="0.41"/><rect x="629.2" y="402.8" width="1.0" height="1.0" fill-opacity="0.31"/><rect x="601.6" y="488.7" width="1.0" height="1.0" fill-opacity="0.28"/><rect x="623.8" y="483.7" width="1.0" height="1.0" fill-opacity="0.22"/><rect x="613.6" y="452.7" width="1.0" height="1.0" fill-opacity="0.33"/><rect x="627.3" y="448.9" width="1.0" height="1.0" fill-opacity="0.48"/><rect x="612.5" y="430.4" width="1.0" height="1.0" fill-opacity="0.40"/><rect x="606.8" y="462.2" width="1.0" height="1.0" fill-opacity="0.43"/><rect x="623.0" y="401.7" width="1.0" height="1.0" fill-opacity="0.23"/><rect x="619.1" y="434.4" width="1.0" height="1.0" fill-opacity="0.50"/><rect x="618.6" y="435.7" width="1.0" height="1.0" fill-opacity="0.38"/><rect x="621.9" y="483.0" width="1.0" height="1.0" fill-opacity="0.30"/><rect x="612.6" y="459.8" width="1.0" height="1.0" fill-opacity="0.44"/><rect x="607.9" y="455.8" width="1.0" height="1.0" fill-opacity="0.45"/><rect x="614.6" y="488.5" width="1.0" height="1.0" fill-opacity="0.25"/><rect x="613.7" y="423.2" width="1.0" height="1.0" fill-opacity="0.48"/><rect x="601.6" y="441.6" width="1.0" height="1.0" fill-opacity="0.29"/><rect x="615.7" y="465.8" width="1.0" height="1.0" fill-opacity="0.37"/><rect x="616.0" y="482.1" width="1.0" height="1.0" fill-opacity="0.21"/><rect x="608.4" y="458.4" width="1.0" height="1.0" fill-opacity="0.24"/><rect x="607.4" y="427.4" width="1.0" height="1.0" fill-opacity="0.45"/><rect x="623.4" y="437.6" width="1.0" height="1.0" fill-opacity="0.36"/><rect x="614.1" y="486.4" width="1.0" height="1.0" fill-opacity="0.47"/><rect x="614.5" y="404.0" width="1.0" height="1.0" fill-opacity="0.40"/><rect x="614.6" y="468.9" width="1.0" height="1.0" fill-opacity="0.47"/><rect x="612.6" y="459.0" width="1.0" height="1.0" fill-opacity="0.49"/><rect x="622.5" y="440.3" width="1.0" height="1.0" fill-opacity="0.41"/><rect x="603.2" y="430.0" width="1.0" height="1.0" fill-opacity="0.41"/><rect x="612.8" y="409.0" width="1.0" height="1.0" fill-opacity="0.34"/><rect x="616.9" y="466.1" width="1.0" height="1.0" fill-opacity="0.26"/><rect x="610.1" y="402.9" width="1.0" height="1.0" fill-opacity="0.26"/><rect x="609.6" y="448.0" width="1.0" height="1.0" fill-opacity="0.38"/><rect x="620.3" y="440.6" width="1.0" height="1.0" fill-opacity="0.27"/><rect x="608.8" y="481.7" width="1.0" height="1.0" fill-opacity="0.22"/><rect x="615.6" y="444.4" width="1.0" height="1.0" fill-opacity="0.23"/><rect x="616.2" y="438.4" width="1.0" height="1.0" fill-opacity="0.29"/><rect x="626.0" y="397.3" width="1.0" height="1.0" fill-opacity="0.43"/><rect x="621.6" y="424.4" width="1.0" height="1.0" fill-opacity="0.22"/><rect x="616.1" y="445.1" width="1.0" height="1.0" fill-opacity="0.45"/><rect x="608.8" y="449.9" width="1.0" height="1.0" fill-opacity="0.21"/><rect x="624.9" y="460.6" width="1.0" height="1.0" fill-opacity="0.22"/><rect x="625.5" y="493.6" width="1.0" height="1.0" fill-opacity="0.32"/><rect x="620.1" y="452.8" width="1.0" height="1.0" fill-opacity="0.31"/><rect x="619.7" y="471.8" width="1.0" height="1.0" fill-opacity="0.41"/><rect x="619.3" y="439.1" width="1.0" height="1.0" fill-opacity="0.30"/><rect x="614.1" y="493.5" width="1.0" height="1.0" fill-opacity="0.21"/><rect x="604.5" y="439.1" width="1.0" height="1.0" fill-opacity="0.23"/><rect x="613.9" y="424.3" width="1.0" height="1.0" fill-opacity="0.43"/><rect x="622.0" y="434.4" width="1.0" height="1.0" fill-opacity="0.41"/><rect x="624.5" y="468.1" width="1.0" height="1.0" fill-opacity="0.48"/><rect x="617.7" y="462.3" width="1.0" height="1.0" fill-opacity="0.47"/><rect x="611.5" y="489.5" width="1.0" height="1.0" fill-opacity="0.37"/><rect x="617.2" y="482.2" width="1.0" height="1.0" fill-opacity="0.34"/><rect x="610.3" y="474.1" width="1.0" height="1.0" fill-opacity="0.32"/><rect x="612.6" y="414.1" width="1.0" height="1.0" fill-opacity="0.25"/><rect x="615.6" y="396.8" width="1.0" height="1.0" fill-opacity="0.37"/><rect x="618.3" y="432.4" width="1.0" height="1.0" fill-opacity="0.41"/><rect x="608.7" y="425.6" width="1.0" height="1.0" fill-opacity="0.21"/><rect x="621.4" y="478.7" width="1.0" height="1.0" fill-opacity="0.31"/><rect x="622.2" y="480.9" width="1.0" height="1.0" fill-opacity="0.45"/><rect x="601.4" y="490.5" width="1.0" height="1.0" fill-opacity="0.43"/><rect x="626.8" y="425.5" width="1.0" height="1.0" fill-opacity="0.36"/><rect x="623.0" y="402.1" width="1.0" height="1.0" fill-opacity="0.38"/><rect x="610.3" y="430.9" width="1.0" height="1.0" fill-opacity="0.32"/><rect x="613.2" y="437.2" width="1.0" height="1.0" fill-opacity="0.23"/><rect x="603.9" y="488.0" width="1.0" height="1.0" fill-opacity="0.26"/><rect x="616.2" y="433.3" width="1.0" height="1.0" fill-opacity="0.33"/><rect x="616.9" y="397.5" width="1.0" height="1.0" fill-opacity="0.20"/><rect x="616.0" y="481.9" width="1.0" height="1.0" fill-opacity="0.32"/><rect x="611.3" y="464.3" width="1.0" height="1.0" fill-opacity="0.29"/><rect x="616.5" y="443.4" width="1.0" height="1.0" fill-opacity="0.42"/><rect x="622.4" y="397.7" width="1.0" height="1.0" fill-opacity="0.30"/><rect x="610.1" y="415.6" width="1.0" height="1.0" fill-opacity="0.31"/><rect x="621.1" y="481.2" width="1.0" height="1.0" fill-opacity="0.22"/><rect x="608.8" y="401.7" width="1.0" height="1.0" fill-opacity="0.32"/><rect x="613.5" y="482.1" width="1.0" height="1.0" fill-opacity="0.30"/><rect x="621.9" y="412.4" width="1.0" height="1.0" fill-opacity="0.43"/><rect x="610.3" y="425.0" width="1.0" height="1.0" fill-opacity="0.41"/><rect x="619.0" y="485.2" width="1.0" height="1.0" fill-opacity="0.41"/><rect x="620.7" y="439.6" width="1.0" height="1.0" fill-opacity="0.44"/><rect x="611.5" y="457.2" width="1.0" height="1.0" fill-opacity="0.29"/><rect x="624.2" y="419.4" width="1.0" height="1.0" fill-opacity="0.42"/><rect x="614.1" y="485.1" width="1.0" height="1.0" fill-opacity="0.44"/><rect x="617.2" y="465.2" width="1.0" height="1.0" fill-opacity="0.35"/><rect x="617.5" y="395.1" width="1.0" height="1.0" fill-opacity="0.34"/><rect x="626.0" y="474.3" width="1.0" height="1.0" fill-opacity="0.36"/><rect x="609.9" y="392.3" width="1.0" height="1.0" fill-opacity="0.22"/><rect x="620.4" y="407.3" width="1.0" height="1.0" fill-opacity="0.37"/><rect x="611.1" y="430.9" width="1.0" height="1.0" fill-opacity="0.25"/><rect x="617.1" y="455.9" width="1.0" height="1.0" fill-opacity="0.22"/><rect x="616.8" y="402.8" width="1.0" height="1.0" fill-opacity="0.31"/><rect x="620.9" y="484.1" width="1.0" height="1.0" fill-opacity="0.23"/><rect x="615.7" y="455.7" width="1.0" height="1.0" fill-opacity="0.33"/><rect x="621.7" y="471.2" width="1.0" height="1.0" fill-opacity="0.34"/><rect x="618.6" y="428.5" width="1.0" height="1.0" fill-opacity="0.32"/><rect x="610.1" y="396.1" width="1.0" height="1.0" fill-opacity="0.39"/><rect x="605.6" y="403.5" width="1.0" height="1.0" fill-opacity="0.28"/><rect x="622.0" y="427.3" width="1.0" height="1.0" fill-opacity="0.37"/><rect x="624.3" y="427.1" width="1.0" height="1.0" fill-opacity="0.50"/><rect x="611.7" y="439.6" width="1.0" height="1.0" fill-opacity="0.31"/><rect x="614.4" y="429.5" width="1.0" height="1.0" fill-opacity="0.36"/><rect x="612.6" y="485.2" width="1.0" height="1.0" fill-opacity="0.31"/><rect x="611.8" y="449.8" width="1.0" height="1.0" fill-opacity="0.48"/><rect x="622.5" y="476.1" width="1.0" height="1.0" fill-opacity="0.37"/><rect x="620.3" y="406.3" width="1.0" height="1.0" fill-opacity="0.39"/><rect x="608.4" y="469.8" width="1.0" height="1.0" fill-opacity="0.36"/><rect x="617.3" y="493.2" width="1.0" height="1.0" fill-opacity="0.45"/><rect x="606.9" y="431.2" width="1.0" height="1.0" fill-opacity="0.49"/><rect x="609.4" y="460.5" width="1.0" height="1.0" fill-opacity="0.21"/><rect x="618.9" y="476.7" width="1.0" height="1.0" fill-opacity="0.38"/><rect x="622.1" y="474.0" width="1.0" height="1.0" fill-opacity="0.28"/><rect x="616.8" y="428.1" width="1.0" height="1.0" fill-opacity="0.38"/><rect x="616.7" y="433.9" width="1.0" height="1.0" fill-opacity="0.45"/><rect x="616.7" y="437.0" width="1.0" height="1.0" fill-opacity="0.21"/><rect x="617.5" y="392.1" width="1.0" height="1.0" fill-opacity="0.30"/><rect x="614.8" y="450.5" width="1.0" height="1.0" fill-opacity="0.27"/><rect x="618.7" y="457.2" width="1.0" height="1.0" fill-opacity="0.29"/><rect x="615.7" y="421.5" width="1.0" height="1.0" fill-opacity="0.26"/><rect x="614.4" y="474.3" width="1.0" height="1.0" fill-opacity="0.44"/><rect x="625.9" y="394.5" width="1.0" height="1.0" fill-opacity="0.38"/><rect x="610.9" y="456.5" width="1.0" height="1.0" fill-opacity="0.45"/><rect x="612.1" y="427.9" width="1.0" height="1.0" fill-opacity="0.35"/><rect x="610.6" y="411.1" width="1.0" height="1.0" fill-opacity="0.40"/><rect x="605.8" y="433.3" width="1.0" height="1.0" fill-opacity="0.43"/><rect x="612.9" y="443.6" width="1.0" height="1.0" fill-opacity="0.30"/><rect x="609.1" y="463.8" width="1.0" height="1.0" fill-opacity="0.25"/><rect x="615.5" y="445.5" width="1.0" height="1.0" fill-opacity="0.49"/><rect x="613.1" y="481.0" width="1.0" height="1.0" fill-opacity="0.26"/><rect x="613.1" y="430.6" width="1.0" height="1.0" fill-opacity="0.32"/><rect x="607.0" y="436.7" width="1.0" height="1.0" fill-opacity="0.34"/><rect x="620.3" y="407.4" width="1.0" height="1.0" fill-opacity="0.47"/><rect x="612.7" y="404.6" width="1.0" height="1.0" fill-opacity="0.38"/><rect x="619.0" y="436.9" width="1.0" height="1.0" fill-opacity="0.42"/><rect x="625.3" y="405.7" width="1.0" height="1.0" fill-opacity="0.21"/><rect x="614.4" y="400.3" width="1.0" height="1.0" fill-opacity="0.48"/><rect x="608.5" y="458.8" width="1.0" height="1.0" fill-opacity="0.45"/><rect x="624.8" y="421.7" width="1.0" height="1.0" fill-opacity="0.40"/><rect x="619.6" y="444.2" width="1.0" height="1.0" fill-opacity="0.34"/><rect x="625.6" y="430.4" width="1.0" height="1.0" fill-opacity="0.43"/><rect x="627.5" y="492.5" width="1.0" height="1.0" fill-opacity="0.33"/><rect x="610.0" y="442.3" width="1.0" height="1.0" fill-opacity="0.44"/><rect x="616.4" y="491.0" width="1.0" height="1.0" fill-opacity="0.26"/><rect x="617.0" y="476.6" width="1.0" height="1.0" fill-opacity="0.28"/><rect x="625.7" y="439.9" width="1.0" height="1.0" fill-opacity="0.27"/><rect x="619.2" y="488.0" width="1.0" height="1.0" fill-opacity="0.21"/><rect x="614.4" y="467.5" width="1.0" height="1.0" fill-opacity="0.36"/><rect x="614.1" y="492.7" width="1.0" height="1.0" fill-opacity="0.32"/><rect x="611.7" y="432.2" width="1.0" height="1.0" fill-opacity="0.43"/><rect x="603.4" y="410.9" width="1.0" height="1.0" fill-opacity="0.39"/><rect x="612.9" y="436.0" width="1.0" height="1.0" fill-opacity="0.27"/><rect x="604.3" y="434.7" width="1.0" height="1.0" fill-opacity="0.29"/><rect x="620.3" y="492.0" width="1.0" height="1.0" fill-opacity="0.29"/><rect x="611.6" y="458.1" width="1.0" height="1.0" fill-opacity="0.33"/><rect x="623.4" y="448.8" width="1.0" height="1.0" fill-opacity="0.42"/><rect x="613.3" y="463.1" width="1.0" height="1.0" fill-opacity="0.31"/><rect x="618.2" y="393.5" width="1.0" height="1.0" fill-opacity="0.43"/><rect x="615.4" y="441.0" width="1.0" height="1.0" fill-opacity="0.24"/><rect x="613.8" y="396.2" width="1.0" height="1.0" fill-opacity="0.46"/><rect x="619.9" y="490.6" width="1.0" height="1.0" fill-opacity="0.30"/><rect x="611.2" y="470.5" width="1.0" height="1.0" fill-opacity="0.34"/><rect x="615.9" y="493.1" width="1.0" height="1.0" fill-opacity="0.42"/><rect x="608.7" y="451.2" width="1.0" height="1.0" fill-opacity="0.33"/><rect x="608.9" y="492.7" width="1.0" height="1.0" fill-opacity="0.23"/><rect x="612.8" y="486.8" width="1.0" height="1.0" fill-opacity="0.27"/><rect x="614.9" y="418.0" width="1.0" height="1.0" fill-opacity="0.38"/><rect x="611.2" y="395.3" width="1.0" height="1.0" fill-opacity="0.45"/><rect x="613.3" y="416.9" width="1.0" height="1.0" fill-opacity="0.42"/><rect x="623.2" y="399.2" width="1.0" height="1.0" fill-opacity="0.27"/><rect x="616.8" y="433.1" width="1.0" height="1.0" fill-opacity="0.31"/><rect x="606.2" y="406.9" width="1.0" height="1.0" fill-opacity="0.38"/><rect x="614.3" y="416.1" width="1.0" height="1.0" fill-opacity="0.49"/><rect x="613.1" y="486.1" width="1.0" height="1.0" fill-opacity="0.40"/><rect x="531.3" y="510.6" width="1.0" height="1.0" fill-opacity="0.33"/><rect x="564.5" y="510.2" width="1.0" height="1.0" fill-opacity="0.38"/><rect x="625.3" y="506.0" width="1.0" height="1.0" fill-opacity="0.44"/><rect x="671.7" y="507.9" width="1.0" height="1.0" fill-opacity="0.43"/><rect x="688.7" y="507.1" width="1.0" height="1.0" fill-opacity="0.21"/><rect x="537.3" y="508.4" width="1.0" height="1.0" fill-opacity="0.19"/><rect x="535.9" y="510.6" width="1.0" height="1.0" fill-opacity="0.16"/><rect x="611.6" y="507.7" width="1.0" height="1.0" fill-opacity="0.36"/><rect x="540.3" y="508.3" width="1.0" height="1.0" fill-opacity="0.21"/><rect x="491.2" y="511.8" width="1.0" height="1.0" fill-opacity="0.26"/><rect x="547.6" y="512.4" width="1.0" height="1.0" fill-opacity="0.26"/><rect x="597.3" y="505.3" width="1.0" height="1.0" fill-opacity="0.27"/><rect x="664.8" y="511.4" width="1.0" height="1.0" fill-opacity="0.40"/><rect x="672.8" y="506.1" width="1.0" height="1.0" fill-opacity="0.17"/><rect x="514.3" y="509.9" width="1.0" height="1.0" fill-opacity="0.31"/><rect x="562.6" y="510.4" width="1.0" height="1.0" fill-opacity="0.22"/><rect x="610.8" y="507.8" width="1.0" height="1.0" fill-opacity="0.19"/><rect x="644.7" y="505.7" width="1.0" height="1.0" fill-opacity="0.39"/><rect x="641.8" y="507.9" width="1.0" height="1.0" fill-opacity="0.29"/><rect x="529.4" y="505.3" width="1.0" height="1.0" fill-opacity="0.36"/><rect x="562.9" y="509.1" width="1.0" height="1.0" fill-opacity="0.26"/><rect x="541.8" y="505.5" width="1.0" height="1.0" fill-opacity="0.38"/><rect x="575.4" y="505.4" width="1.0" height="1.0" fill-opacity="0.41"/><rect x="519.1" y="506.1" width="1.0" height="1.0" fill-opacity="0.20"/><rect x="601.0" y="511.0" width="1.0" height="1.0" fill-opacity="0.16"/><rect x="674.8" y="510.3" width="1.0" height="1.0" fill-opacity="0.40"/><rect x="573.2" y="507.9" width="1.0" height="1.0" fill-opacity="0.18"/><rect x="541.0" y="511.8" width="1.0" height="1.0" fill-opacity="0.24"/><rect x="670.0" y="511.5" width="1.0" height="1.0" fill-opacity="0.43"/><rect x="516.4" y="507.8" width="1.0" height="1.0" fill-opacity="0.40"/><rect x="550.9" y="506.2" width="1.0" height="1.0" fill-opacity="0.16"/><rect x="595.8" y="509.0" width="1.0" height="1.0" fill-opacity="0.21"/><rect x="540.3" y="509.7" width="1.0" height="1.0" fill-opacity="0.20"/><rect x="646.8" y="511.9" width="1.0" height="1.0" fill-opacity="0.28"/><rect x="514.3" y="509.1" width="1.0" height="1.0" fill-opacity="0.24"/><rect x="509.2" y="510.4" width="1.0" height="1.0" fill-opacity="0.32"/><rect x="542.8" y="506.2" width="1.0" height="1.0" fill-opacity="0.37"/><rect x="673.2" y="507.2" width="1.0" height="1.0" fill-opacity="0.33"/><rect x="532.6" y="508.2" width="1.0" height="1.0" fill-opacity="0.32"/><rect x="549.6" y="509.4" width="1.0" height="1.0" fill-opacity="0.31"/><rect x="496.8" y="505.1" width="1.0" height="1.0" fill-opacity="0.27"/><rect x="517.8" y="508.9" width="1.0" height="1.0" fill-opacity="0.33"/><rect x="614.3" y="512.0" width="1.0" height="1.0" fill-opacity="0.33"/><rect x="643.9" y="505.0" width="1.0" height="1.0" fill-opacity="0.41"/><rect x="675.8" y="509.3" width="1.0" height="1.0" fill-opacity="0.40"/><rect x="599.1" y="507.9" width="1.0" height="1.0" fill-opacity="0.20"/><rect x="585.1" y="510.4" width="1.0" height="1.0" fill-opacity="0.39"/><rect x="668.6" y="508.7" width="1.0" height="1.0" fill-opacity="0.43"/><rect x="563.1" y="504.2" width="1.0" height="1.0" fill-opacity="0.28"/><rect x="597.3" y="511.0" width="1.0" height="1.0" fill-opacity="0.22"/><rect x="493.1" y="510.5" width="1.0" height="1.0" fill-opacity="0.21"/><rect x="660.1" y="509.1" width="1.0" height="1.0" fill-opacity="0.19"/><rect x="593.2" y="511.0" width="1.0" height="1.0" fill-opacity="0.22"/><rect x="681.1" y="504.5" width="1.0" height="1.0" fill-opacity="0.19"/><rect x="608.1" y="510.1" width="1.0" height="1.0" fill-opacity="0.33"/><rect x="674.5" y="505.8" width="1.0" height="1.0" fill-opacity="0.16"/><rect x="596.5" y="507.2" width="1.0" height="1.0" fill-opacity="0.27"/><rect x="567.9" y="511.9" width="1.0" height="1.0" fill-opacity="0.24"/><rect x="627.8" y="509.1" width="1.0" height="1.0" fill-opacity="0.24"/><rect x="672.2" y="506.3" width="1.0" height="1.0" fill-opacity="0.24"/><rect x="526.9" y="510.3" width="1.0" height="1.0" fill-opacity="0.36"/><rect x="561.8" y="505.1" width="1.0" height="1.0" fill-opacity="0.33"/><rect x="556.2" y="509.0" width="1.0" height="1.0" fill-opacity="0.35"/><rect x="488.3" y="504.4" width="1.0" height="1.0" fill-opacity="0.40"/><rect x="663.3" y="504.8" width="1.0" height="1.0" fill-opacity="0.22"/><rect x="574.1" y="511.5" width="1.0" height="1.0" fill-opacity="0.24"/><rect x="681.2" y="504.8" width="1.0" height="1.0" fill-opacity="0.42"/><rect x="499.5" y="509.4" width="1.0" height="1.0" fill-opacity="0.44"/><rect x="633.8" y="512.2" width="1.0" height="1.0" fill-opacity="0.26"/><rect x="680.9" y="512.1" width="1.0" height="1.0" fill-opacity="0.23"/><rect x="643.9" y="512.3" width="1.0" height="1.0" fill-opacity="0.21"/><rect x="567.1" y="510.9" width="1.0" height="1.0" fill-opacity="0.32"/><rect x="673.4" y="507.9" width="1.0" height="1.0" fill-opacity="0.28"/><rect x="521.8" y="506.5" width="1.0" height="1.0" fill-opacity="0.41"/><rect x="540.8" y="512.1" width="1.0" height="1.0" fill-opacity="0.39"/><rect x="603.2" y="506.7" width="1.0" height="1.0" fill-opacity="0.15"/><rect x="511.8" y="511.5" width="1.0" height="1.0" fill-opacity="0.44"/><rect x="682.4" y="506.5" width="1.0" height="1.0" fill-opacity="0.43"/><rect x="576.9" y="507.3" width="1.0" height="1.0" fill-opacity="0.42"/><rect x="653.6" y="510.1" width="1.0" height="1.0" fill-opacity="0.24"/><rect x="509.6" y="505.6" width="1.0" height="1.0" fill-opacity="0.23"/><rect x="526.8" y="509.1" width="1.0" height="1.0" fill-opacity="0.24"/><rect x="531.5" y="511.9" width="1.0" height="1.0" fill-opacity="0.26"/><rect x="488.6" y="504.1" width="1.0" height="1.0" fill-opacity="0.32"/><rect x="494.0" y="509.0" width="1.0" height="1.0" fill-opacity="0.16"/><rect x="582.8" y="509.6" width="1.0" height="1.0" fill-opacity="0.31"/><rect x="531.7" y="511.5" width="1.0" height="1.0" fill-opacity="0.44"/><rect x="652.4" y="512.4" width="1.0" height="1.0" fill-opacity="0.44"/><rect x="562.3" y="508.9" width="1.0" height="1.0" fill-opacity="0.27"/><rect x="646.9" y="505.5" width="1.0" height="1.0" fill-opacity="0.22"/><rect x="579.1" y="508.9" width="1.0" height="1.0" fill-opacity="0.45"/><rect x="555.9" y="504.0" width="1.0" height="1.0" fill-opacity="0.27"/><rect x="665.1" y="504.9" width="1.0" height="1.0" fill-opacity="0.31"/><rect x="609.1" y="511.6" width="1.0" height="1.0" fill-opacity="0.25"/><rect x="610.7" y="512.6" width="1.0" height="1.0" fill-opacity="0.44"/><rect x="602.1" y="507.0" width="1.0" height="1.0" fill-opacity="0.35"/><rect x="635.5" y="510.1" width="1.0" height="1.0" fill-opacity="0.35"/><rect x="565.7" y="510.4" width="1.0" height="1.0" fill-opacity="0.26"/><rect x="535.0" y="504.9" width="1.0" height="1.0" fill-opacity="0.32"/><rect x="522.4" y="506.5" width="1.0" height="1.0" fill-opacity="0.24"/><rect x="563.1" y="507.7" width="1.0" height="1.0" fill-opacity="0.44"/><rect x="594.3" y="508.9" width="1.0" height="1.0" fill-opacity="0.27"/><rect x="598.6" y="511.3" width="1.0" height="1.0" fill-opacity="0.31"/><rect x="591.5" y="507.2" width="1.0" height="1.0" fill-opacity="0.21"/><rect x="531.0" y="504.8" width="1.0" height="1.0" fill-opacity="0.24"/><rect x="496.2" y="507.7" width="1.0" height="1.0" fill-opacity="0.32"/><rect x="511.2" y="510.8" width="1.0" height="1.0" fill-opacity="0.29"/><rect x="614.0" y="507.9" width="1.0" height="1.0" fill-opacity="0.39"/><rect x="625.3" y="505.1" width="1.0" height="1.0" fill-opacity="0.31"/><rect x="541.5" y="510.7" width="1.0" height="1.0" fill-opacity="0.26"/><rect x="533.3" y="504.3" width="1.0" height="1.0" fill-opacity="0.45"/><rect x="512.1" y="506.3" width="1.0" height="1.0" fill-opacity="0.43"/><rect x="498.3" y="507.7" width="1.0" height="1.0" fill-opacity="0.28"/><rect x="625.4" y="511.0" width="1.0" height="1.0" fill-opacity="0.44"/><rect x="552.4" y="504.8" width="1.0" height="1.0" fill-opacity="0.21"/><rect x="489.0" y="506.4" width="1.0" height="1.0" fill-opacity="0.34"/><rect x="668.6" y="504.9" width="1.0" height="1.0" fill-opacity="0.23"/><rect x="667.6" y="509.3" width="1.0" height="1.0" fill-opacity="0.27"/><rect x="502.6" y="504.5" width="1.0" height="1.0" fill-opacity="0.22"/><rect x="612.5" y="504.5" width="1.0" height="1.0" fill-opacity="0.30"/><rect x="653.2" y="504.0" width="1.0" height="1.0" fill-opacity="0.24"/><rect x="571.5" y="509.5" width="1.0" height="1.0" fill-opacity="0.37"/><rect x="625.1" y="507.9" width="1.0" height="1.0" fill-opacity="0.25"/><rect x="614.5" y="508.1" width="1.0" height="1.0" fill-opacity="0.43"/><rect x="594.9" y="509.3" width="1.0" height="1.0" fill-opacity="0.35"/><rect x="585.4" y="508.4" width="1.0" height="1.0" fill-opacity="0.35"/><rect x="609.1" y="513.0" width="1.0" height="1.0" fill-opacity="0.24"/><rect x="587.9" y="512.8" width="1.0" height="1.0" fill-opacity="0.39"/><rect x="599.9" y="506.7" width="1.0" height="1.0" fill-opacity="0.20"/><rect x="572.0" y="507.8" width="1.0" height="1.0" fill-opacity="0.28"/><rect x="539.7" y="508.3" width="1.0" height="1.0" fill-opacity="0.32"/><rect x="508.6" y="509.9" width="1.0" height="1.0" fill-opacity="0.36"/><rect x="527.5" y="506.2" width="1.0" height="1.0" fill-opacity="0.16"/><rect x="583.3" y="510.1" width="1.0" height="1.0" fill-opacity="0.27"/><rect x="607.0" y="509.4" width="1.0" height="1.0" fill-opacity="0.16"/><rect x="498.8" y="508.6" width="1.0" height="1.0" fill-opacity="0.43"/><rect x="630.6" y="508.0" width="1.0" height="1.0" fill-opacity="0.23"/><rect x="514.6" y="509.8" width="1.0" height="1.0" fill-opacity="0.38"/><rect x="567.3" y="504.8" width="1.0" height="1.0" fill-opacity="0.23"/><rect x="630.9" y="510.9" width="1.0" height="1.0" fill-opacity="0.27"/><rect x="667.2" y="507.5" width="1.0" height="1.0" fill-opacity="0.16"/><rect x="529.3" y="512.0" width="1.0" height="1.0" fill-opacity="0.36"/><rect x="505.5" y="506.6" width="1.0" height="1.0" fill-opacity="0.27"/><rect x="585.2" y="504.2" width="1.0" height="1.0" fill-opacity="0.43"/><rect x="595.3" y="506.4" width="1.0" height="1.0" fill-opacity="0.16"/><rect x="603.4" y="512.4" width="1.0" height="1.0" fill-opacity="0.37"/><rect x="661.5" y="511.9" width="1.0" height="1.0" fill-opacity="0.35"/><rect x="499.5" y="506.8" width="1.0" height="1.0" fill-opacity="0.32"/><rect x="572.0" y="506.0" width="1.0" height="1.0" fill-opacity="0.17"/><rect x="662.8" y="510.0" width="1.0" height="1.0" fill-opacity="0.24"/><rect x="583.0" y="511.9" width="1.0" height="1.0" fill-opacity="0.19"/><rect x="615.1" y="506.1" width="1.0" height="1.0" fill-opacity="0.42"/><rect x="649.7" y="512.5" width="1.0" height="1.0" fill-opacity="0.26"/><rect x="590.5" y="506.9" width="1.0" height="1.0" fill-opacity="0.26"/><rect x="680.6" y="512.7" width="1.0" height="1.0" fill-opacity="0.45"/><rect x="671.5" y="508.4" width="1.0" height="1.0" fill-opacity="0.35"/><rect x="671.4" y="507.9" width="1.0" height="1.0" fill-opacity="0.43"/><rect x="649.0" y="506.6" width="1.0" height="1.0" fill-opacity="0.26"/><rect x="627.5" y="505.5" width="1.0" height="1.0" fill-opacity="0.23"/><rect x="527.1" y="505.0" width="1.0" height="1.0" fill-opacity="0.42"/><rect x="689.5" y="511.4" width="1.0" height="1.0" fill-opacity="0.30"/><rect x="638.7" y="510.2" width="1.0" height="1.0" fill-opacity="0.28"/><rect x="593.1" y="505.1" width="1.0" height="1.0" fill-opacity="0.22"/><rect x="557.5" y="507.2" width="1.0" height="1.0" fill-opacity="0.35"/><rect x="536.8" y="506.1" width="1.0" height="1.0" fill-opacity="0.41"/><rect x="646.0" y="512.4" width="1.0" height="1.0" fill-opacity="0.38"/><rect x="527.4" y="508.4" width="1.0" height="1.0" fill-opacity="0.40"/><rect x="650.9" y="506.1" width="1.0" height="1.0" fill-opacity="0.29"/><rect x="607.0" y="504.1" width="1.0" height="1.0" fill-opacity="0.22"/><rect x="637.8" y="510.0" width="1.0" height="1.0" fill-opacity="0.28"/><rect x="399.7" y="365.5" width="1.0" height="1.0" fill-opacity="0.20"/><rect x="59.7" y="481.4" width="1.0" height="1.0" fill-opacity="0.30"/><rect x="304.4" y="496.3" width="1.0" height="1.0" fill-opacity="0.31"/><rect x="484.1" y="517.2" width="1.0" height="1.0" fill-opacity="0.34"/><rect x="27.9" y="589.6" width="1.0" height="1.0" fill-opacity="0.22"/><rect x="544.4" y="478.7" width="1.0" height="1.0" fill-opacity="0.14"/><rect x="410.5" y="128.2" width="1.0" height="1.0" fill-opacity="0.29"/><rect x="237.1" y="283.7" width="1.0" height="1.0" fill-opacity="0.18"/><rect x="566.8" y="426.7" width="1.0" height="1.0" fill-opacity="0.19"/><rect x="518.8" y="180.3" width="1.0" height="1.0" fill-opacity="0.30"/><rect x="423.1" y="494.4" width="1.0" height="1.0" fill-opacity="0.26"/><rect x="689.9" y="456.1" width="1.0" height="1.0" fill-opacity="0.23"/><rect x="413.4" y="386.7" width="1.0" height="1.0" fill-opacity="0.19"/><rect x="214.4" y="512.2" width="1.0" height="1.0" fill-opacity="0.31"/><rect x="675.6" y="451.3" width="1.0" height="1.0" fill-opacity="0.24"/><rect x="276.5" y="461.5" width="1.0" height="1.0" fill-opacity="0.27"/><rect x="660.3" y="484.5" width="1.0" height="1.0" fill-opacity="0.21"/><rect x="194.9" y="104.3" width="1.0" height="1.0" fill-opacity="0.30"/><rect x="299.5" y="293.3" width="1.0" height="1.0" fill-opacity="0.13"/><rect x="346.7" y="566.0" width="1.0" height="1.0" fill-opacity="0.18"/><rect x="520.4" y="490.6" width="1.0" height="1.0" fill-opacity="0.27"/><rect x="417.2" y="214.9" width="1.0" height="1.0" fill-opacity="0.28"/><rect x="409.2" y="603.1" width="1.0" height="1.0" fill-opacity="0.24"/><rect x="248.2" y="570.2" width="1.0" height="1.0" fill-opacity="0.26"/><rect x="239.0" y="431.5" width="1.0" height="1.0" fill-opacity="0.16"/><rect x="132.1" y="558.3" width="1.0" height="1.0" fill-opacity="0.23"/><rect x="561.3" y="196.2" width="1.0" height="1.0" fill-opacity="0.23"/><rect x="166.0" y="514.0" width="1.0" height="1.0" fill-opacity="0.26"/><rect x="275.4" y="288.0" width="1.0" height="1.0" fill-opacity="0.17"/><rect x="147.3" y="453.5" width="1.0" height="1.0" fill-opacity="0.19"/><rect x="73.1" y="288.7" width="1.0" height="1.0" fill-opacity="0.22"/><rect x="691.7" y="288.5" width="1.0" height="1.0" fill-opacity="0.21"/><rect x="680.4" y="470.1" width="1.0" height="1.0" fill-opacity="0.23"/><rect x="278.6" y="201.9" width="1.0" height="1.0" fill-opacity="0.16"/><rect x="330.7" y="426.5" width="1.0" height="1.0" fill-opacity="0.14"/><rect x="333.5" y="173.7" width="1.0" height="1.0" fill-opacity="0.26"/><rect x="241.2" y="440.2" width="1.0" height="1.0" fill-opacity="0.30"/><rect x="283.2" y="287.0" width="1.0" height="1.0" fill-opacity="0.14"/><rect x="148.2" y="416.3" width="1.0" height="1.0" fill-opacity="0.31"/><rect x="97.0" y="608.1" width="1.0" height="1.0" fill-opacity="0.33"/><rect x="256.0" y="371.7" width="1.0" height="1.0" fill-opacity="0.27"/><rect x="230.4" y="278.2" width="1.0" height="1.0" fill-opacity="0.29"/><rect x="339.2" y="316.4" width="1.0" height="1.0" fill-opacity="0.25"/><rect x="81.4" y="334.6" width="1.0" height="1.0" fill-opacity="0.19"/><rect x="117.1" y="363.7" width="1.0" height="1.0" fill-opacity="0.28"/><rect x="368.1" y="349.9" width="1.0" height="1.0" fill-opacity="0.27"/><rect x="295.1" y="611.1" width="1.0" height="1.0" fill-opacity="0.17"/><rect x="5.8" y="387.6" width="1.0" height="1.0" fill-opacity="0.28"/><rect x="267.7" y="295.9" width="1.0" height="1.0" fill-opacity="0.20"/><rect x="170.1" y="508.3" width="1.0" height="1.0" fill-opacity="0.32"/><rect x="195.4" y="385.4" width="1.0" height="1.0" fill-opacity="0.23"/><rect x="92.1" y="476.8" width="1.0" height="1.0" fill-opacity="0.24"/><rect x="693.5" y="572.2" width="1.0" height="1.0" fill-opacity="0.33"/><rect x="183.3" y="139.4" width="1.0" height="1.0" fill-opacity="0.31"/><rect x="75.8" y="451.8" width="1.0" height="1.0" fill-opacity="0.16"/><rect x="493.6" y="109.1" width="1.0" height="1.0" fill-opacity="0.14"/><rect x="607.5" y="358.9" width="1.0" height="1.0" fill-opacity="0.22"/><rect x="680.5" y="504.3" width="1.0" height="1.0" fill-opacity="0.17"/><rect x="494.2" y="288.6" width="1.0" height="1.0" fill-opacity="0.23"/><rect x="219.1" y="202.8" width="1.0" height="1.0" fill-opacity="0.19"/><rect x="190.9" y="182.2" width="1.0" height="1.0" fill-opacity="0.32"/><rect x="265.3" y="383.3" width="1.0" height="1.0" fill-opacity="0.31"/><rect x="474.8" y="164.7" width="1.0" height="1.0" fill-opacity="0.34"/><rect x="652.2" y="534.1" width="1.0" height="1.0" fill-opacity="0.20"/><rect x="581.2" y="427.2" width="1.0" height="1.0" fill-opacity="0.13"/><rect x="264.3" y="457.6" width="1.0" height="1.0" fill-opacity="0.25"/><rect x="663.5" y="507.7" width="1.0" height="1.0" fill-opacity="0.31"/><rect x="686.2" y="265.6" width="1.0" height="1.0" fill-opacity="0.33"/><rect x="1.7" y="512.1" width="1.0" height="1.0" fill-opacity="0.14"/><rect x="349.7" y="318.6" width="1.0" height="1.0" fill-opacity="0.14"/><rect x="445.5" y="506.1" width="1.0" height="1.0" fill-opacity="0.17"/><rect x="171.7" y="497.0" width="1.0" height="1.0" fill-opacity="0.24"/><rect x="12.9" y="245.9" width="1.0" height="1.0" fill-opacity="0.34"/><rect x="193.2" y="236.5" width="1.0" height="1.0" fill-opacity="0.22"/><rect x="620.5" y="517.8" width="1.0" height="1.0" fill-opacity="0.21"/><rect x="466.3" y="95.0" width="1.0" height="1.0" fill-opacity="0.13"/><rect x="260.4" y="423.0" width="1.0" height="1.0" fill-opacity="0.15"/><rect x="30.0" y="541.6" width="1.0" height="1.0" fill-opacity="0.16"/><rect x="38.3" y="126.4" width="1.0" height="1.0" fill-opacity="0.14"/><rect x="200.1" y="393.2" width="1.0" height="1.0" fill-opacity="0.27"/><rect x="200.1" y="358.8" width="1.0" height="1.0" fill-opacity="0.20"/><rect x="405.9" y="139.0" width="1.0" height="1.0" fill-opacity="0.26"/><rect x="0.2" y="579.2" width="1.0" height="1.0" fill-opacity="0.17"/><rect x="388.1" y="182.0" width="1.0" height="1.0" fill-opacity="0.22"/><rect x="185.2" y="426.8" width="1.0" height="1.0" fill-opacity="0.30"/><rect x="591.2" y="607.0" width="1.0" height="1.0" fill-opacity="0.22"/><rect x="384.6" y="270.1" width="1.0" height="1.0" fill-opacity="0.19"/><rect x="355.7" y="606.5" width="1.0" height="1.0" fill-opacity="0.13"/><rect x="523.1" y="254.7" width="1.0" height="1.0" fill-opacity="0.26"/><rect x="185.9" y="468.9" width="1.0" height="1.0" fill-opacity="0.23"/><rect x="217.1" y="322.4" width="1.0" height="1.0" fill-opacity="0.12"/><rect x="68.7" y="571.1" width="1.0" height="1.0" fill-opacity="0.14"/><rect x="278.3" y="442.2" width="1.0" height="1.0" fill-opacity="0.13"/><rect x="651.8" y="191.8" width="1.0" height="1.0" fill-opacity="0.34"/><rect x="303.6" y="397.1" width="1.0" height="1.0" fill-opacity="0.26"/><rect x="62.3" y="353.8" width="1.0" height="1.0" fill-opacity="0.29"/><rect x="552.7" y="477.4" width="1.0" height="1.0" fill-opacity="0.28"/><rect x="89.6" y="301.4" width="1.0" height="1.0" fill-opacity="0.24"/><rect x="28.4" y="494.3" width="1.0" height="1.0" fill-opacity="0.14"/><rect x="395.0" y="224.5" width="1.0" height="1.0" fill-opacity="0.16"/><rect x="666.8" y="415.5" width="1.0" height="1.0" fill-opacity="0.29"/><rect x="424.5" y="385.3" width="1.0" height="1.0" fill-opacity="0.32"/><rect x="44.3" y="284.8" width="1.0" height="1.0" fill-opacity="0.17"/><rect x="417.5" y="293.4" width="1.0" height="1.0" fill-opacity="0.33"/><rect x="163.2" y="225.6" width="1.0" height="1.0" fill-opacity="0.33"/><rect x="504.7" y="312.2" width="1.0" height="1.0" fill-opacity="0.21"/><rect x="513.8" y="160.4" width="1.0" height="1.0" fill-opacity="0.29"/><rect x="158.7" y="516.2" width="1.0" height="1.0" fill-opacity="0.14"/><rect x="639.9" y="546.2" width="1.0" height="1.0" fill-opacity="0.13"/><rect x="111.9" y="574.7" width="1.0" height="1.0" fill-opacity="0.31"/><rect x="204.3" y="513.3" width="1.0" height="1.0" fill-opacity="0.25"/><rect x="172.9" y="452.1" width="1.0" height="1.0" fill-opacity="0.22"/><rect x="99.4" y="540.5" width="1.0" height="1.0" fill-opacity="0.29"/><rect x="170.6" y="311.0" width="1.0" height="1.0" fill-opacity="0.28"/><rect x="259.9" y="219.3" width="1.0" height="1.0" fill-opacity="0.24"/><rect x="665.4" y="131.4" width="1.0" height="1.0" fill-opacity="0.18"/><rect x="338.2" y="612.7" width="1.0" height="1.0" fill-opacity="0.35"/><rect x="5.9" y="427.3" width="1.0" height="1.0" fill-opacity="0.15"/><rect x="144.9" y="153.4" width="1.0" height="1.0" fill-opacity="0.23"/><rect x="695.5" y="602.5" width="1.0" height="1.0" fill-opacity="0.20"/><rect x="628.8" y="452.8" width="1.0" height="1.0" fill-opacity="0.14"/><rect x="630.6" y="228.0" width="1.0" height="1.0" fill-opacity="0.35"/><rect x="92.5" y="566.9" width="1.0" height="1.0" fill-opacity="0.24"/><rect x="360.7" y="179.0" width="1.0" height="1.0" fill-opacity="0.23"/><rect x="531.7" y="380.9" width="1.0" height="1.0" fill-opacity="0.35"/><rect x="374.1" y="569.2" width="1.0" height="1.0" fill-opacity="0.15"/><rect x="515.7" y="404.5" width="1.0" height="1.0" fill-opacity="0.32"/><rect x="235.2" y="330.5" width="1.0" height="1.0" fill-opacity="0.31"/><rect x="179.0" y="281.0" width="1.0" height="1.0" fill-opacity="0.31"/><rect x="453.9" y="344.8" width="1.0" height="1.0" fill-opacity="0.12"/><rect x="534.7" y="304.5" width="1.0" height="1.0" fill-opacity="0.17"/><rect x="270.2" y="154.3" width="1.0" height="1.0" fill-opacity="0.31"/><rect x="558.1" y="602.5" width="1.0" height="1.0" fill-opacity="0.28"/><rect x="112.8" y="308.7" width="1.0" height="1.0" fill-opacity="0.35"/><rect x="0.7" y="265.1" width="1.0" height="1.0" fill-opacity="0.15"/><rect x="119.5" y="228.8" width="1.0" height="1.0" fill-opacity="0.26"/><rect x="47.1" y="549.1" width="1.0" height="1.0" fill-opacity="0.22"/><rect x="121.2" y="134.7" width="1.0" height="1.0" fill-opacity="0.24"/><rect x="244.5" y="351.0" width="1.0" height="1.0" fill-opacity="0.14"/><rect x="248.6" y="353.5" width="1.0" height="1.0" fill-opacity="0.14"/><rect x="351.0" y="534.8" width="1.0" height="1.0" fill-opacity="0.26"/><rect x="90.4" y="421.6" width="1.0" height="1.0" fill-opacity="0.14"/><rect x="99.4" y="85.2" width="1.0" height="1.0" fill-opacity="0.24"/><rect x="124.3" y="230.8" width="1.0" height="1.0" fill-opacity="0.15"/><rect x="626.6" y="158.6" width="1.0" height="1.0" fill-opacity="0.28"/><rect x="564.4" y="323.1" width="1.0" height="1.0" fill-opacity="0.25"/><rect x="233.3" y="522.9" width="1.0" height="1.0" fill-opacity="0.28"/><rect x="54.5" y="460.7" width="1.0" height="1.0" fill-opacity="0.15"/><rect x="336.7" y="179.2" width="1.0" height="1.0" fill-opacity="0.23"/><rect x="458.6" y="476.7" width="1.0" height="1.0" fill-opacity="0.19"/><rect x="38.3" y="323.6" width="1.0" height="1.0" fill-opacity="0.33"/><rect x="386.4" y="415.1" width="1.0" height="1.0" fill-opacity="0.30"/><rect x="446.6" y="593.3" width="1.0" height="1.0" fill-opacity="0.34"/><rect x="517.0" y="516.7" width="1.0" height="1.0" fill-opacity="0.15"/><rect x="185.3" y="464.6" width="1.0" height="1.0" fill-opacity="0.25"/><rect x="603.5" y="498.8" width="1.0" height="1.0" fill-opacity="0.20"/><rect x="119.9" y="435.8" width="1.0" height="1.0" fill-opacity="0.15"/><rect x="346.5" y="229.1" width="1.0" height="1.0" fill-opacity="0.21"/><rect x="457.8" y="422.8" width="1.0" height="1.0" fill-opacity="0.26"/><rect x="42.4" y="563.6" width="1.0" height="1.0" fill-opacity="0.28"/><rect x="634.9" y="411.4" width="1.0" height="1.0" fill-opacity="0.27"/><rect x="621.8" y="483.7" width="1.0" height="1.0" fill-opacity="0.27"/><rect x="28.0" y="93.0" width="1.0" height="1.0" fill-opacity="0.28"/><rect x="592.9" y="289.1" width="1.0" height="1.0" fill-opacity="0.17"/><rect x="308.9" y="535.1" width="1.0" height="1.0" fill-opacity="0.29"/><rect x="91.4" y="189.1" width="1.0" height="1.0" fill-opacity="0.17"/><rect x="521.8" y="215.7" width="1.0" height="1.0" fill-opacity="0.32"/><rect x="288.1" y="184.5" width="1.0" height="1.0" fill-opacity="0.22"/><rect x="97.9" y="555.7" width="1.0" height="1.0" fill-opacity="0.13"/><rect x="291.7" y="284.8" width="1.0" height="1.0" fill-opacity="0.13"/><rect x="155.3" y="615.1" width="1.0" height="1.0" fill-opacity="0.32"/><rect x="294.5" y="552.4" width="1.0" height="1.0" fill-opacity="0.33"/><rect x="600.3" y="472.9" width="1.0" height="1.0" fill-opacity="0.25"/><rect x="358.1" y="467.5" width="1.0" height="1.0" fill-opacity="0.26"/><rect x="681.2" y="177.5" width="1.0" height="1.0" fill-opacity="0.33"/><rect x="528.5" y="319.4" width="1.0" height="1.0" fill-opacity="0.32"/><rect x="200.4" y="291.7" width="1.0" height="1.0" fill-opacity="0.25"/><rect x="678.9" y="211.2" width="1.0" height="1.0" fill-opacity="0.31"/><rect x="460.1" y="577.7" width="1.0" height="1.0" fill-opacity="0.19"/><rect x="464.5" y="560.7" width="1.0" height="1.0" fill-opacity="0.32"/><rect x="488.8" y="534.3" width="1.0" height="1.0" fill-opacity="0.27"/><rect x="386.8" y="184.0" width="1.0" height="1.0" fill-opacity="0.24"/><rect x="683.8" y="591.8" width="1.0" height="1.0" fill-opacity="0.13"/><rect x="212.5" y="209.5" width="1.0" height="1.0" fill-opacity="0.31"/><rect x="127.4" y="494.2" width="1.0" height="1.0" fill-opacity="0.17"/><rect x="237.9" y="606.1" width="1.0" height="1.0" fill-opacity="0.15"/><rect x="407.2" y="228.7" width="1.0" height="1.0" fill-opacity="0.29"/><rect x="46.9" y="446.3" width="1.0" height="1.0" fill-opacity="0.18"/><rect x="670.1" y="258.0" width="1.0" height="1.0" fill-opacity="0.27"/><rect x="20.1" y="588.3" width="1.0" height="1.0" fill-opacity="0.27"/><rect x="640.0" y="482.3" width="1.0" height="1.0" fill-opacity="0.13"/><rect x="520.6" y="286.0" width="1.0" height="1.0" fill-opacity="0.17"/><rect x="623.4" y="439.1" width="1.0" height="1.0" fill-opacity="0.20"/><rect x="50.3" y="431.2" width="1.0" height="1.0" fill-opacity="0.13"/><rect x="167.4" y="106.2" width="1.0" height="1.0" fill-opacity="0.16"/><rect x="523.4" y="224.7" width="1.0" height="1.0" fill-opacity="0.35"/><rect x="195.4" y="512.4" width="1.0" height="1.0" fill-opacity="0.29"/><rect x="450.5" y="407.2" width="1.0" height="1.0" fill-opacity="0.15"/><rect x="580.1" y="579.1" width="1.0" height="1.0" fill-opacity="0.24"/><rect x="131.1" y="126.5" width="1.0" height="1.0" fill-opacity="0.18"/><rect x="680.4" y="251.6" width="1.0" height="1.0" fill-opacity="0.18"/><rect x="367.7" y="98.7" width="1.0" height="1.0" fill-opacity="0.30"/><rect x="545.6" y="246.4" width="1.0" height="1.0" fill-opacity="0.13"/><rect x="629.9" y="518.0" width="1.0" height="1.0" fill-opacity="0.30"/><rect x="147.4" y="596.2" width="1.0" height="1.0" fill-opacity="0.27"/><rect x="22.3" y="611.0" width="1.0" height="1.0" fill-opacity="0.28"/><rect x="128.8" y="561.8" width="1.0" height="1.0" fill-opacity="0.26"/><rect x="445.6" y="95.1" width="1.0" height="1.0" fill-opacity="0.17"/><rect x="554.6" y="87.4" width="1.0" height="1.0" fill-opacity="0.16"/><rect x="48.7" y="395.3" width="1.0" height="1.0" fill-opacity="0.15"/><rect x="549.1" y="324.4" width="1.0" height="1.0" fill-opacity="0.30"/><rect x="639.3" y="605.7" width="1.0" height="1.0" fill-opacity="0.16"/><rect x="255.1" y="509.5" width="1.0" height="1.0" fill-opacity="0.20"/><rect x="656.7" y="261.9" width="1.0" height="1.0" fill-opacity="0.26"/><rect x="179.2" y="471.2" width="1.0" height="1.0" fill-opacity="0.19"/><rect x="295.5" y="471.2" width="1.0" height="1.0" fill-opacity="0.31"/><rect x="98.1" y="173.7" width="1.0" height="1.0" fill-opacity="0.17"/><rect x="537.1" y="444.6" width="1.0" height="1.0" fill-opacity="0.28"/><rect x="565.3" y="206.5" width="1.0" height="1.0" fill-opacity="0.23"/><rect x="3.4" y="270.6" width="1.0" height="1.0" fill-opacity="0.26"/><rect x="182.3" y="510.1" width="1.0" height="1.0" fill-opacity="0.17"/><rect x="309.4" y="450.0" width="1.0" height="1.0" fill-opacity="0.17"/><rect x="464.6" y="296.6" width="1.0" height="1.0" fill-opacity="0.13"/><rect x="73.9" y="432.9" width="1.0" height="1.0" fill-opacity="0.31"/><rect x="475.9" y="546.8" width="1.0" height="1.0" fill-opacity="0.27"/><rect x="545.0" y="533.4" width="1.0" height="1.0" fill-opacity="0.26"/><rect x="372.0" y="167.4" width="1.0" height="1.0" fill-opacity="0.17"/><rect x="60.1" y="140.1" width="1.0" height="1.0" fill-opacity="0.21"/><rect x="204.6" y="384.5" width="1.0" height="1.0" fill-opacity="0.31"/><rect x="188.2" y="563.9" width="1.0" height="1.0" fill-opacity="0.31"/><rect x="134.5" y="399.1" width="1.0" height="1.0" fill-opacity="0.17"/><rect x="45.3" y="199.2" width="1.0" height="1.0" fill-opacity="0.17"/><rect x="5.3" y="93.8" width="1.0" height="1.0" fill-opacity="0.31"/><rect x="605.6" y="547.2" width="1.0" height="1.0" fill-opacity="0.14"/><rect x="16.5" y="543.9" width="1.0" height="1.0" fill-opacity="0.21"/><rect x="241.7" y="459.1" width="1.0" height="1.0" fill-opacity="0.24"/><rect x="230.5" y="161.2" width="1.0" height="1.0" fill-opacity="0.15"/><rect x="498.5" y="569.9" width="1.0" height="1.0" fill-opacity="0.13"/><rect x="156.3" y="363.9" width="1.0" height="1.0" fill-opacity="0.18"/><rect x="342.4" y="351.5" width="1.0" height="1.0" fill-opacity="0.18"/><rect x="82.0" y="306.7" width="1.0" height="1.0" fill-opacity="0.31"/><rect x="96.8" y="371.0" width="1.0" height="1.0" fill-opacity="0.31"/><rect x="399.3" y="267.7" width="1.0" height="1.0" fill-opacity="0.33"/><rect x="547.0" y="619.3" width="1.0" height="1.0" fill-opacity="0.19"/><rect x="338.7" y="323.6" width="1.0" height="1.0" fill-opacity="0.31"/><rect x="433.8" y="377.7" width="1.0" height="1.0" fill-opacity="0.24"/><rect x="623.6" y="271.1" width="1.0" height="1.0" fill-opacity="0.15"/><rect x="123.4" y="211.9" width="1.0" height="1.0" fill-opacity="0.14"/><rect x="683.6" y="380.4" width="1.0" height="1.0" fill-opacity="0.30"/><rect x="318.0" y="362.0" width="1.0" height="1.0" fill-opacity="0.17"/><rect x="623.6" y="307.4" width="1.0" height="1.0" fill-opacity="0.21"/><rect x="519.6" y="549.9" width="1.0" height="1.0" fill-opacity="0.35"/><rect x="336.9" y="309.4" width="1.0" height="1.0" fill-opacity="0.31"/><rect x="297.4" y="189.5" width="1.0" height="1.0" fill-opacity="0.23"/><rect x="214.2" y="219.3" width="1.0" height="1.0" fill-opacity="0.30"/><rect x="244.4" y="418.3" width="1.0" height="1.0" fill-opacity="0.19"/><rect x="79.9" y="502.6" width="1.0" height="1.0" fill-opacity="0.30"/><rect x="493.4" y="409.9" width="1.0" height="1.0" fill-opacity="0.16"/><rect x="351.0" y="530.7" width="1.0" height="1.0" fill-opacity="0.30"/><rect x="413.6" y="421.4" width="1.0" height="1.0" fill-opacity="0.16"/><rect x="38.7" y="537.7" width="1.0" height="1.0" fill-opacity="0.12"/><rect x="177.5" y="296.3" width="1.0" height="1.0" fill-opacity="0.28"/><rect x="487.8" y="548.9" width="1.0" height="1.0" fill-opacity="0.33"/><rect x="190.1" y="214.7" width="1.0" height="1.0" fill-opacity="0.15"/><rect x="231.0" y="135.6" width="1.0" height="1.0" fill-opacity="0.34"/><rect x="402.4" y="345.7" width="1.0" height="1.0" fill-opacity="0.13"/><rect x="638.4" y="212.5" width="1.0" height="1.0" fill-opacity="0.30"/><rect x="143.3" y="226.4" width="1.0" height="1.0" fill-opacity="0.15"/><rect x="374.5" y="233.8" width="1.0" height="1.0" fill-opacity="0.25"/><rect x="500.5" y="202.2" width="1.0" height="1.0" fill-opacity="0.15"/><rect x="360.7" y="296.2" width="1.0" height="1.0" fill-opacity="0.22"/><rect x="257.9" y="169.2" width="1.0" height="1.0" fill-opacity="0.15"/><rect x="509.0" y="423.1" width="1.0" height="1.0" fill-opacity="0.28"/><rect x="447.0" y="357.7" width="1.0" height="1.0" fill-opacity="0.17"/><rect x="639.8" y="368.2" width="1.0" height="1.0" fill-opacity="0.23"/><rect x="182.9" y="283.9" width="1.0" height="1.0" fill-opacity="0.35"/><rect x="284.3" y="515.0" width="1.0" height="1.0" fill-opacity="0.15"/><rect x="419.4" y="227.0" width="1.0" height="1.0" fill-opacity="0.17"/><rect x="212.6" y="294.4" width="1.0" height="1.0" fill-opacity="0.27"/><rect x="285.2" y="545.9" width="1.0" height="1.0" fill-opacity="0.16"/><rect x="598.7" y="316.2" width="1.0" height="1.0" fill-opacity="0.30"/><rect x="276.3" y="219.2" width="1.0" height="1.0" fill-opacity="0.33"/><rect x="445.6" y="470.8" width="1.0" height="1.0" fill-opacity="0.24"/><rect x="497.3" y="597.5" width="1.0" height="1.0" fill-opacity="0.29"/><rect x="678.3" y="269.0" width="1.0" height="1.0" fill-opacity="0.19"/><rect x="618.3" y="531.1" width="1.0" height="1.0" fill-opacity="0.32"/><rect x="304.8" y="303.8" width="1.0" height="1.0" fill-opacity="0.34"/><rect x="141.8" y="170.0" width="1.0" height="1.0" fill-opacity="0.16"/><rect x="211.9" y="305.9" width="1.0" height="1.0" fill-opacity="0.21"/><rect x="322.1" y="99.1" width="1.0" height="1.0" fill-opacity="0.20"/><rect x="355.7" y="109.3" width="1.0" height="1.0" fill-opacity="0.23"/><rect x="633.6" y="433.4" width="1.0" height="1.0" fill-opacity="0.34"/><rect x="602.0" y="347.2" width="1.0" height="1.0" fill-opacity="0.12"/><rect x="41.7" y="391.7" width="1.0" height="1.0" fill-opacity="0.31"/><rect x="232.2" y="151.2" width="1.0" height="1.0" fill-opacity="0.29"/><rect x="377.3" y="333.2" width="1.0" height="1.0" fill-opacity="0.15"/><rect x="387.7" y="390.4" width="1.0" height="1.0" fill-opacity="0.28"/><rect x="631.5" y="121.0" width="1.0" height="1.0" fill-opacity="0.31"/><rect x="224.9" y="304.8" width="1.0" height="1.0" fill-opacity="0.20"/><rect x="565.3" y="318.6" width="1.0" height="1.0" fill-opacity="0.14"/><rect x="331.9" y="160.2" width="1.0" height="1.0" fill-opacity="0.12"/><rect x="35.6" y="285.9" width="1.0" height="1.0" fill-opacity="0.22"/><rect x="0.5" y="154.0" width="1.0" height="1.0" fill-opacity="0.33"/><rect x="380.7" y="610.2" width="1.0" height="1.0" fill-opacity="0.24"/><rect x="668.0" y="454.0" width="1.0" height="1.0" fill-opacity="0.21"/><rect x="35.1" y="159.9" width="1.0" height="1.0" fill-opacity="0.30"/><rect x="463.5" y="240.9" width="1.0" height="1.0" fill-opacity="0.16"/><rect x="448.0" y="583.0" width="1.0" height="1.0" fill-opacity="0.18"/><rect x="697.9" y="368.9" width="1.0" height="1.0" fill-opacity="0.17"/><rect x="127.7" y="465.0" width="1.0" height="1.0" fill-opacity="0.33"/><rect x="142.3" y="208.8" width="1.0" height="1.0" fill-opacity="0.15"/><rect x="145.9" y="202.0" width="1.0" height="1.0" fill-opacity="0.22"/><rect x="166.4" y="438.7" width="1.0" height="1.0" fill-opacity="0.18"/><rect x="186.4" y="306.5" width="1.0" height="1.0" fill-opacity="0.16"/><rect x="35.8" y="128.9" width="1.0" height="1.0" fill-opacity="0.12"/><rect x="471.8" y="106.6" width="1.0" height="1.0" fill-opacity="0.23"/><rect x="622.4" y="412.4" width="1.0" height="1.0" fill-opacity="0.19"/><rect x="281.5" y="311.2" width="1.0" height="1.0" fill-opacity="0.19"/><rect x="37.6" y="164.6" width="1.0" height="1.0" fill-opacity="0.15"/><rect x="145.5" y="259.0" width="1.0" height="1.0" fill-opacity="0.14"/><rect x="431.0" y="188.0" width="1.0" height="1.0" fill-opacity="0.24"/><rect x="485.3" y="349.0" width="1.0" height="1.0" fill-opacity="0.29"/><rect x="546.1" y="322.2" width="1.0" height="1.0" fill-opacity="0.17"/><rect x="29.8" y="454.8" width="1.0" height="1.0" fill-opacity="0.20"/><rect x="203.6" y="125.2" width="1.0" height="1.0" fill-opacity="0.16"/><rect x="624.2" y="335.4" width="1.0" height="1.0" fill-opacity="0.31"/><rect x="591.0" y="214.2" width="1.0" height="1.0" fill-opacity="0.17"/><rect x="620.7" y="208.1" width="1.0" height="1.0" fill-opacity="0.26"/><rect x="655.5" y="332.0" width="1.0" height="1.0" fill-opacity="0.22"/><rect x="670.2" y="546.9" width="1.0" height="1.0" fill-opacity="0.33"/><rect x="494.9" y="201.2" width="1.0" height="1.0" fill-opacity="0.13"/><rect x="15.1" y="579.4" width="1.0" height="1.0" fill-opacity="0.24"/><rect x="618.3" y="598.1" width="1.0" height="1.0" fill-opacity="0.17"/><rect x="679.1" y="228.1" width="1.0" height="1.0" fill-opacity="0.16"/><rect x="190.5" y="618.6" width="1.0" height="1.0" fill-opacity="0.34"/><rect x="246.7" y="340.8" width="1.0" height="1.0" fill-opacity="0.31"/><rect x="562.8" y="565.5" width="1.0" height="1.0" fill-opacity="0.20"/><rect x="162.6" y="357.4" width="1.0" height="1.0" fill-opacity="0.33"/><rect x="429.2" y="551.7" width="1.0" height="1.0" fill-opacity="0.17"/><rect x="355.1" y="576.2" width="1.0" height="1.0" fill-opacity="0.25"/><rect x="555.6" y="516.9" width="1.0" height="1.0" fill-opacity="0.22"/><rect x="482.5" y="454.3" width="1.0" height="1.0" fill-opacity="0.22"/><rect x="364.1" y="518.3" width="1.0" height="1.0" fill-opacity="0.32"/><rect x="690.7" y="278.8" width="1.0" height="1.0" fill-opacity="0.28"/><rect x="385.6" y="540.8" width="1.0" height="1.0" fill-opacity="0.18"/><rect x="326.8" y="218.6" width="1.0" height="1.0" fill-opacity="0.30"/><rect x="497.2" y="83.4" width="1.0" height="1.0" fill-opacity="0.14"/><rect x="99.1" y="399.9" width="1.0" height="1.0" fill-opacity="0.30"/><rect x="240.8" y="123.0" width="1.0" height="1.0" fill-opacity="0.25"/><rect x="430.1" y="312.8" width="1.0" height="1.0" fill-opacity="0.18"/><rect x="242.8" y="205.7" width="1.0" height="1.0" fill-opacity="0.31"/><rect x="267.1" y="466.0" width="1.0" height="1.0" fill-opacity="0.25"/><rect x="160.5" y="231.3" width="1.0" height="1.0" fill-opacity="0.27"/><rect x="604.2" y="576.4" width="1.0" height="1.0" fill-opacity="0.16"/><rect x="181.4" y="133.6" width="1.0" height="1.0" fill-opacity="0.16"/><rect x="270.6" y="468.5" width="1.0" height="1.0" fill-opacity="0.33"/><rect x="413.6" y="158.7" width="1.0" height="1.0" fill-opacity="0.21"/><rect x="100.5" y="231.2" width="1.0" height="1.0" fill-opacity="0.25"/><rect x="351.2" y="173.1" width="1.0" height="1.0" fill-opacity="0.18"/><rect x="627.3" y="421.1" width="1.0" height="1.0" fill-opacity="0.26"/><rect x="225.5" y="241.8" width="1.0" height="1.0" fill-opacity="0.30"/><rect x="10.5" y="433.7" width="1.0" height="1.0" fill-opacity="0.34"/><rect x="444.7" y="106.0" width="1.0" height="1.0" fill-opacity="0.13"/><rect x="549.5" y="180.2" width="1.0" height="1.0" fill-opacity="0.22"/><rect x="456.0" y="445.2" width="1.0" height="1.0" fill-opacity="0.19"/><rect x="477.6" y="574.3" width="1.0" height="1.0" fill-opacity="0.23"/><rect x="277.4" y="450.9" width="1.0" height="1.0" fill-opacity="0.32"/><rect x="480.9" y="581.7" width="1.0" height="1.0" fill-opacity="0.30"/><rect x="669.7" y="215.4" width="1.0" height="1.0" fill-opacity="0.27"/><rect x="146.6" y="143.5" width="1.0" height="1.0" fill-opacity="0.20"/><rect x="662.1" y="239.3" width="1.0" height="1.0" fill-opacity="0.19"/><rect x="648.8" y="611.2" width="1.0" height="1.0" fill-opacity="0.29"/><rect x="246.8" y="525.4" width="1.0" height="1.0" fill-opacity="0.14"/><rect x="7.1" y="114.2" width="1.0" height="1.0" fill-opacity="0.20"/><rect x="168.8" y="544.8" width="1.0" height="1.0" fill-opacity="0.22"/><rect x="595.8" y="343.9" width="1.0" height="1.0" fill-opacity="0.21"/><rect x="237.6" y="105.7" width="1.0" height="1.0" fill-opacity="0.22"/><rect x="665.8" y="605.7" width="1.0" height="1.0" fill-opacity="0.33"/><rect x="68.5" y="319.2" width="1.0" height="1.0" fill-opacity="0.31"/><rect x="107.8" y="115.3" width="1.0" height="1.0" fill-opacity="0.17"/><rect x="58.9" y="480.4" width="1.0" height="1.0" fill-opacity="0.28"/><rect x="691.9" y="107.3" width="1.0" height="1.0" fill-opacity="0.28"/><rect x="555.5" y="176.6" width="1.0" height="1.0" fill-opacity="0.14"/><rect x="685.9" y="507.7" width="1.0" height="1.0" fill-opacity="0.14"/><rect x="131.0" y="436.3" width="1.0" height="1.0" fill-opacity="0.16"/><rect x="305.2" y="161.1" width="1.0" height="1.0" fill-opacity="0.14"/><rect x="339.1" y="373.5" width="1.0" height="1.0" fill-opacity="0.31"/><rect x="2.7" y="271.9" width="1.0" height="1.0" fill-opacity="0.14"/><rect x="386.8" y="169.4" width="1.0" height="1.0" fill-opacity="0.20"/><rect x="678.5" y="431.3" width="1.0" height="1.0" fill-opacity="0.27"/><rect x="424.0" y="189.1" width="1.0" height="1.0" fill-opacity="0.28"/><rect x="679.2" y="128.3" width="1.0" height="1.0" fill-opacity="0.31"/><rect x="240.8" y="188.9" width="1.0" height="1.0" fill-opacity="0.27"/><rect x="595.7" y="170.4" width="1.0" height="1.0" fill-opacity="0.17"/><rect x="350.6" y="190.7" width="1.0" height="1.0" fill-opacity="0.24"/><rect x="693.0" y="93.9" width="1.0" height="1.0" fill-opacity="0.22"/><rect x="141.5" y="170.1" width="1.0" height="1.0" fill-opacity="0.26"/><rect x="663.2" y="334.1" width="1.0" height="1.0" fill-opacity="0.25"/><rect x="489.5" y="544.7" width="1.0" height="1.0" fill-opacity="0.34"/><rect x="233.2" y="175.9" width="1.0" height="1.0" fill-opacity="0.33"/><rect x="423.6" y="557.6" width="1.0" height="1.0" fill-opacity="0.15"/><rect x="552.4" y="144.0" width="1.0" height="1.0" fill-opacity="0.15"/><rect x="84.8" y="275.8" width="1.0" height="1.0" fill-opacity="0.22"/><rect x="460.3" y="587.3" width="1.0" height="1.0" fill-opacity="0.22"/><rect x="405.0" y="302.3" width="1.0" height="1.0" fill-opacity="0.21"/><rect x="185.5" y="82.8" width="1.0" height="1.0" fill-opacity="0.18"/><rect x="506.0" y="512.2" width="1.0" height="1.0" fill-opacity="0.28"/><rect x="308.7" y="302.3" width="1.0" height="1.0" fill-opacity="0.16"/><rect x="169.8" y="619.8" width="1.0" height="1.0" fill-opacity="0.26"/><rect x="282.8" y="369.5" width="1.0" height="1.0" fill-opacity="0.23"/><rect x="205.8" y="306.1" width="1.0" height="1.0" fill-opacity="0.22"/><rect x="628.9" y="562.0" width="1.0" height="1.0" fill-opacity="0.19"/><rect x="318.9" y="200.1" width="1.0" height="1.0" fill-opacity="0.34"/><rect x="95.3" y="340.5" width="1.0" height="1.0" fill-opacity="0.12"/><rect x="322.5" y="328.8" width="1.0" height="1.0" fill-opacity="0.12"/><rect x="106.2" y="350.4" width="1.0" height="1.0" fill-opacity="0.23"/><rect x="212.4" y="109.3" width="1.0" height="1.0" fill-opacity="0.19"/><rect x="243.4" y="136.1" width="1.0" height="1.0" fill-opacity="0.26"/><rect x="154.0" y="367.7" width="1.0" height="1.0" fill-opacity="0.28"/><rect x="10.0" y="349.3" width="1.0" height="1.0" fill-opacity="0.27"/><rect x="625.9" y="453.5" width="1.0" height="1.0" fill-opacity="0.31"/><rect x="463.8" y="201.4" width="1.0" height="1.0" fill-opacity="0.31"/><rect x="529.1" y="343.4" width="1.0" height="1.0" fill-opacity="0.33"/><rect x="34.1" y="571.2" width="1.0" height="1.0" fill-opacity="0.20"/><rect x="379.7" y="511.2" width="1.0" height="1.0" fill-opacity="0.16"/><rect x="347.2" y="88.2" width="1.0" height="1.0" fill-opacity="0.13"/><rect x="669.2" y="198.8" width="1.0" height="1.0" fill-opacity="0.22"/><rect x="84.3" y="584.3" width="1.0" height="1.0" fill-opacity="0.24"/><rect x="598.6" y="227.2" width="1.0" height="1.0" fill-opacity="0.23"/><rect x="172.9" y="399.0" width="1.0" height="1.0" fill-opacity="0.28"/><rect x="401.4" y="396.2" width="1.0" height="1.0" fill-opacity="0.19"/><rect x="666.7" y="90.5" width="1.0" height="1.0" fill-opacity="0.16"/><rect x="467.2" y="606.4" width="1.0" height="1.0" fill-opacity="0.31"/><rect x="172.4" y="590.3" width="1.0" height="1.0" fill-opacity="0.23"/><rect x="399.7" y="430.2" width="1.0" height="1.0" fill-opacity="0.26"/><rect x="615.7" y="566.2" width="1.0" height="1.0" fill-opacity="0.19"/><rect x="624.5" y="250.9" width="1.0" height="1.0" fill-opacity="0.28"/><rect x="110.6" y="425.0" width="1.0" height="1.0" fill-opacity="0.19"/><rect x="696.2" y="439.8" width="1.0" height="1.0" fill-opacity="0.21"/><rect x="673.4" y="142.5" width="1.0" height="1.0" fill-opacity="0.29"/><rect x="454.0" y="89.3" width="1.0" height="1.0" fill-opacity="0.23"/><rect x="81.5" y="620.9" width="1.0" height="1.0" fill-opacity="0.14"/><rect x="444.9" y="373.9" width="1.0" height="1.0" fill-opacity="0.15"/><rect x="654.1" y="390.5" width="1.0" height="1.0" fill-opacity="0.26"/><rect x="184.3" y="163.2" width="1.0" height="1.0" fill-opacity="0.19"/><rect x="24.3" y="188.9" width="1.0" height="1.0" fill-opacity="0.23"/><rect x="273.4" y="491.4" width="1.0" height="1.0" fill-opacity="0.15"/><rect x="144.4" y="363.0" width="1.0" height="1.0" fill-opacity="0.28"/><rect x="220.1" y="191.8" width="1.0" height="1.0" fill-opacity="0.15"/><rect x="254.5" y="285.2" width="1.0" height="1.0" fill-opacity="0.30"/><rect x="168.1" y="264.2" width="1.0" height="1.0" fill-opacity="0.29"/><rect x="144.9" y="100.9" width="1.0" height="1.0" fill-opacity="0.34"/><rect x="640.2" y="251.0" width="1.0" height="1.0" fill-opacity="0.19"/><rect x="322.0" y="193.8" width="1.0" height="1.0" fill-opacity="0.30"/><rect x="619.6" y="465.3" width="1.0" height="1.0" fill-opacity="0.21"/><rect x="588.0" y="586.6" width="1.0" height="1.0" fill-opacity="0.16"/><rect x="467.9" y="173.4" width="1.0" height="1.0" fill-opacity="0.35"/><rect x="557.0" y="301.7" width="1.0" height="1.0" fill-opacity="0.29"/><rect x="205.2" y="114.4" width="1.0" height="1.0" fill-opacity="0.24"/><rect x="52.7" y="327.1" width="1.0" height="1.0" fill-opacity="0.32"/><rect x="404.0" y="223.9" width="1.0" height="1.0" fill-opacity="0.17"/><rect x="390.7" y="355.5" width="1.0" height="1.0" fill-opacity="0.33"/><rect x="120.0" y="332.1" width="1.0" height="1.0" fill-opacity="0.22"/><rect x="263.8" y="180.7" width="1.0" height="1.0" fill-opacity="0.21"/><rect x="380.0" y="185.0" width="1.0" height="1.0" fill-opacity="0.19"/><rect x="368.8" y="588.5" width="1.0" height="1.0" fill-opacity="0.23"/><rect x="242.4" y="98.6" width="1.0" height="1.0" fill-opacity="0.24"/><rect x="240.9" y="142.6" width="1.0" height="1.0" fill-opacity="0.23"/><rect x="431.3" y="270.0" width="1.0" height="1.0" fill-opacity="0.29"/><rect x="442.3" y="113.9" width="1.0" height="1.0" fill-opacity="0.13"/><rect x="367.9" y="407.4" width="1.0" height="1.0" fill-opacity="0.25"/><rect x="160.5" y="266.3" width="1.0" height="1.0" fill-opacity="0.29"/><rect x="277.8" y="366.2" width="1.0" height="1.0" fill-opacity="0.17"/><rect x="440.3" y="339.3" width="1.0" height="1.0" fill-opacity="0.12"/><rect x="528.1" y="514.5" width="1.0" height="1.0" fill-opacity="0.35"/><rect x="659.6" y="459.9" width="1.0" height="1.0" fill-opacity="0.23"/><rect x="186.0" y="460.7" width="1.0" height="1.0" fill-opacity="0.22"/><rect x="226.0" y="143.3" width="1.0" height="1.0" fill-opacity="0.26"/><rect x="497.4" y="496.2" width="1.0" height="1.0" fill-opacity="0.16"/><rect x="143.4" y="424.7" width="1.0" height="1.0" fill-opacity="0.15"/><rect x="620.4" y="581.7" width="1.0" height="1.0" fill-opacity="0.27"/><rect x="183.0" y="384.2" width="1.0" height="1.0" fill-opacity="0.30"/><rect x="241.4" y="431.4" width="1.0" height="1.0" fill-opacity="0.26"/><rect x="636.1" y="499.9" width="1.0" height="1.0" fill-opacity="0.27"/><rect x="381.4" y="561.4" width="1.0" height="1.0" fill-opacity="0.26"/><rect x="482.4" y="248.0" width="1.0" height="1.0" fill-opacity="0.14"/><rect x="390.5" y="200.3" width="1.0" height="1.0" fill-opacity="0.34"/><rect x="154.9" y="564.5" width="1.0" height="1.0" fill-opacity="0.20"/><rect x="134.2" y="392.3" width="1.0" height="1.0" fill-opacity="0.19"/><rect x="695.6" y="414.1" width="1.0" height="1.0" fill-opacity="0.14"/><rect x="217.0" y="140.5" width="1.0" height="1.0" fill-opacity="0.23"/><rect x="369.4" y="250.9" width="1.0" height="1.0" fill-opacity="0.27"/><rect x="311.4" y="523.5" width="1.0" height="1.0" fill-opacity="0.28"/><rect x="181.1" y="529.0" width="1.0" height="1.0" fill-opacity="0.13"/><rect x="164.7" y="95.3" width="1.0" height="1.0" fill-opacity="0.34"/><rect x="374.9" y="535.2" width="1.0" height="1.0" fill-opacity="0.35"/><rect x="64.0" y="566.9" width="1.0" height="1.0" fill-opacity="0.12"/><rect x="490.7" y="509.1" width="1.0" height="1.0" fill-opacity="0.21"/><rect x="623.1" y="494.8" width="1.0" height="1.0" fill-opacity="0.23"/><rect x="196.7" y="166.2" width="1.0" height="1.0" fill-opacity="0.14"/><rect x="379.0" y="363.9" width="1.0" height="1.0" fill-opacity="0.16"/><rect x="371.3" y="122.9" width="1.0" height="1.0" fill-opacity="0.19"/><rect x="468.4" y="161.9" width="1.0" height="1.0" fill-opacity="0.24"/><rect x="93.6" y="557.2" width="1.0" height="1.0" fill-opacity="0.17"/><rect x="652.0" y="576.8" width="1.0" height="1.0" fill-opacity="0.34"/><rect x="197.6" y="448.7" width="1.0" height="1.0" fill-opacity="0.14"/><rect x="680.4" y="454.5" width="1.0" height="1.0" fill-opacity="0.13"/><rect x="96.9" y="137.1" width="1.0" height="1.0" fill-opacity="0.20"/><rect x="656.0" y="506.9" width="1.0" height="1.0" fill-opacity="0.20"/><rect x="566.7" y="85.7" width="1.0" height="1.0" fill-opacity="0.25"/><rect x="272.5" y="120.9" width="1.0" height="1.0" fill-opacity="0.33"/><rect x="460.3" y="618.7" width="1.0" height="1.0" fill-opacity="0.27"/><rect x="434.7" y="149.0" width="1.0" height="1.0" fill-opacity="0.23"/><rect x="627.7" y="382.3" width="1.0" height="1.0" fill-opacity="0.27"/><rect x="321.8" y="273.7" width="1.0" height="1.0" fill-opacity="0.12"/><rect x="153.0" y="180.8" width="1.0" height="1.0" fill-opacity="0.14"/><rect x="37.9" y="488.8" width="1.0" height="1.0" fill-opacity="0.35"/><rect x="488.4" y="529.4" width="1.0" height="1.0" fill-opacity="0.17"/><rect x="594.7" y="286.0" width="1.0" height="1.0" fill-opacity="0.32"/><rect x="166.5" y="241.8" width="1.0" height="1.0" fill-opacity="0.24"/><rect x="156.5" y="219.9" width="1.0" height="1.0" fill-opacity="0.29"/><rect x="552.5" y="611.8" width="1.0" height="1.0" fill-opacity="0.27"/><rect x="245.4" y="333.8" width="1.0" height="1.0" fill-opacity="0.25"/><rect x="414.7" y="576.3" width="1.0" height="1.0" fill-opacity="0.25"/><rect x="673.0" y="338.5" width="1.0" height="1.0" fill-opacity="0.22"/><rect x="20.2" y="255.4" width="1.0" height="1.0" fill-opacity="0.23"/><rect x="8.1" y="317.8" width="1.0" height="1.0" fill-opacity="0.15"/><rect x="187.2" y="558.3" width="1.0" height="1.0" fill-opacity="0.33"/><rect x="80.1" y="398.0" width="1.0" height="1.0" fill-opacity="0.23"/><rect x="37.5" y="240.9" width="1.0" height="1.0" fill-opacity="0.24"/><rect x="297.7" y="388.2" width="1.0" height="1.0" fill-opacity="0.14"/><rect x="429.1" y="410.8" width="1.0" height="1.0" fill-opacity="0.16"/><rect x="396.9" y="585.3" width="1.0" height="1.0" fill-opacity="0.32"/><rect x="431.7" y="361.7" width="1.0" height="1.0" fill-opacity="0.29"/><rect x="317.7" y="462.4" width="1.0" height="1.0" fill-opacity="0.21"/><rect x="388.6" y="477.0" width="1.0" height="1.0" fill-opacity="0.25"/><rect x="422.0" y="287.9" width="1.0" height="1.0" fill-opacity="0.20"/><rect x="458.7" y="321.3" width="1.0" height="1.0" fill-opacity="0.22"/><rect x="265.2" y="237.3" width="1.0" height="1.0" fill-opacity="0.26"/><rect x="614.6" y="185.4" width="1.0" height="1.0" fill-opacity="0.27"/><rect x="372.0" y="424.7" width="1.0" height="1.0" fill-opacity="0.27"/><rect x="280.1" y="85.7" width="1.0" height="1.0" fill-opacity="0.20"/><rect x="364.8" y="420.6" width="1.0" height="1.0" fill-opacity="0.33"/><rect x="460.3" y="433.4" width="1.0" height="1.0" fill-opacity="0.20"/><rect x="556.1" y="150.1" width="1.0" height="1.0" fill-opacity="0.32"/><rect x="342.7" y="325.3" width="1.0" height="1.0" fill-opacity="0.28"/><rect x="380.0" y="618.7" width="1.0" height="1.0" fill-opacity="0.15"/><rect x="44.6" y="401.8" width="1.0" height="1.0" fill-opacity="0.17"/><rect x="159.2" y="620.0" width="1.0" height="1.0" fill-opacity="0.24"/><rect x="205.1" y="277.3" width="1.0" height="1.0" fill-opacity="0.17"/><rect x="176.5" y="153.0" width="1.0" height="1.0" fill-opacity="0.34"/><rect x="514.4" y="274.6" width="1.0" height="1.0" fill-opacity="0.15"/><rect x="682.9" y="561.4" width="1.0" height="1.0" fill-opacity="0.14"/><rect x="608.4" y="378.3" width="1.0" height="1.0" fill-opacity="0.35"/><rect x="308.3" y="315.6" width="1.0" height="1.0" fill-opacity="0.12"/><rect x="403.3" y="209.1" width="1.0" height="1.0" fill-opacity="0.32"/><rect x="156.7" y="557.7" width="1.0" height="1.0" fill-opacity="0.20"/><rect x="564.7" y="466.3" width="1.0" height="1.0" fill-opacity="0.33"/><rect x="402.6" y="274.9" width="1.0" height="1.0" fill-opacity="0.18"/><rect x="164.4" y="135.8" width="1.0" height="1.0" fill-opacity="0.19"/><rect x="222.0" y="525.2" width="1.0" height="1.0" fill-opacity="0.12"/><rect x="351.4" y="354.6" width="1.0" height="1.0" fill-opacity="0.16"/><rect x="485.4" y="192.2" width="1.0" height="1.0" fill-opacity="0.29"/><rect x="118.6" y="555.3" width="1.0" height="1.0" fill-opacity="0.19"/><rect x="66.1" y="161.4" width="1.0" height="1.0" fill-opacity="0.17"/><rect x="92.4" y="249.9" width="1.0" height="1.0" fill-opacity="0.34"/><rect x="262.3" y="293.0" width="1.0" height="1.0" fill-opacity="0.29"/><rect x="51.7" y="127.4" width="1.0" height="1.0" fill-opacity="0.32"/><rect x="229.0" y="174.5" width="1.0" height="1.0" fill-opacity="0.16"/><rect x="520.5" y="608.8" width="1.0" height="1.0" fill-opacity="0.21"/><rect x="498.2" y="329.8" width="1.0" height="1.0" fill-opacity="0.17"/><rect x="220.4" y="263.5" width="1.0" height="1.0" fill-opacity="0.18"/><rect x="555.5" y="129.2" width="1.0" height="1.0" fill-opacity="0.21"/><rect x="514.3" y="97.9" width="1.0" height="1.0" fill-opacity="0.34"/><rect x="430.5" y="432.9" width="1.0" height="1.0" fill-opacity="0.16"/><rect x="142.3" y="536.2" width="1.0" height="1.0" fill-opacity="0.34"/><rect x="10.5" y="522.1" width="1.0" height="1.0" fill-opacity="0.17"/><rect x="53.9" y="402.8" width="1.0" height="1.0" fill-opacity="0.14"/><rect x="588.6" y="536.7" width="1.0" height="1.0" fill-opacity="0.19"/><rect x="101.4" y="357.5" width="1.0" height="1.0" fill-opacity="0.29"/><rect x="26.5" y="461.1" width="1.0" height="1.0" fill-opacity="0.15"/><rect x="264.6" y="169.2" width="1.0" height="1.0" fill-opacity="0.14"/><rect x="374.4" y="242.0" width="1.0" height="1.0" fill-opacity="0.33"/><rect x="632.8" y="472.9" width="1.0" height="1.0" fill-opacity="0.24"/><rect x="452.6" y="259.9" width="1.0" height="1.0" fill-opacity="0.23"/><rect x="383.4" y="307.8" width="1.0" height="1.0" fill-opacity="0.22"/><rect x="596.4" y="615.1" width="1.0" height="1.0" fill-opacity="0.29"/><rect x="601.0" y="245.1" width="1.0" height="1.0" fill-opacity="0.14"/><rect x="155.9" y="350.4" width="1.0" height="1.0" fill-opacity="0.30"/><rect x="513.8" y="575.0" width="1.0" height="1.0" fill-opacity="0.30"/><rect x="209.1" y="109.9" width="1.0" height="1.0" fill-opacity="0.23"/><rect x="230.9" y="550.6" width="1.0" height="1.0" fill-opacity="0.33"/><rect x="376.7" y="498.7" width="1.0" height="1.0" fill-opacity="0.29"/><rect x="363.9" y="319.1" width="1.0" height="1.0" fill-opacity="0.34"/><rect x="558.3" y="389.0" width="1.0" height="1.0" fill-opacity="0.35"/><rect x="104.2" y="496.2" width="1.0" height="1.0" fill-opacity="0.25"/><rect x="225.1" y="148.7" width="1.0" height="1.0" fill-opacity="0.25"/><rect x="608.3" y="175.1" width="1.0" height="1.0" fill-opacity="0.33"/><rect x="690.8" y="185.0" width="1.0" height="1.0" fill-opacity="0.25"/><rect x="339.6" y="261.6" width="1.0" height="1.0" fill-opacity="0.15"/><rect x="187.2" y="589.4" width="1.0" height="1.0" fill-opacity="0.31"/><rect x="666.0" y="349.7" width="1.0" height="1.0" fill-opacity="0.23"/><rect x="43.1" y="310.9" width="1.0" height="1.0" fill-opacity="0.25"/><rect x="695.4" y="114.8" width="1.0" height="1.0" fill-opacity="0.27"/><rect x="32.8" y="605.8" width="1.0" height="1.0" fill-opacity="0.17"/><rect x="485.7" y="423.1" width="1.0" height="1.0" fill-opacity="0.17"/><rect x="323.3" y="308.9" width="1.0" height="1.0" fill-opacity="0.16"/><rect x="277.4" y="114.3" width="1.0" height="1.0" fill-opacity="0.28"/><rect x="679.8" y="373.1" width="1.0" height="1.0" fill-opacity="0.21"/><rect x="360.0" y="158.0" width="1.0" height="1.0" fill-opacity="0.29"/><rect x="483.8" y="136.2" width="1.0" height="1.0" fill-opacity="0.21"/><rect x="85.9" y="459.2" width="1.0" height="1.0" fill-opacity="0.12"/><rect x="609.3" y="115.1" width="1.0" height="1.0" fill-opacity="0.31"/><rect x="134.4" y="366.2" width="1.0" height="1.0" fill-opacity="0.28"/><rect x="657.2" y="553.3" width="1.0" height="1.0" fill-opacity="0.16"/><rect x="501.0" y="312.7" width="1.0" height="1.0" fill-opacity="0.16"/><rect x="323.4" y="587.3" width="1.0" height="1.0" fill-opacity="0.12"/><rect x="489.2" y="373.4" width="1.0" height="1.0" fill-opacity="0.32"/><rect x="332.7" y="214.8" width="1.0" height="1.0" fill-opacity="0.32"/><rect x="75.8" y="452.6" width="1.0" height="1.0" fill-opacity="0.19"/><rect x="37.6" y="170.8" width="1.0" height="1.0" fill-opacity="0.32"/><rect x="109.9" y="576.9" width="1.0" height="1.0" fill-opacity="0.15"/><rect x="649.7" y="108.4" width="1.0" height="1.0" fill-opacity="0.27"/><rect x="373.9" y="402.8" width="1.0" height="1.0" fill-opacity="0.33"/><rect x="158.8" y="617.4" width="1.0" height="1.0" fill-opacity="0.25"/><rect x="566.3" y="215.5" width="1.0" height="1.0" fill-opacity="0.35"/><rect x="504.4" y="334.9" width="1.0" height="1.0" fill-opacity="0.17"/><rect x="615.1" y="383.1" width="1.0" height="1.0" fill-opacity="0.35"/><rect x="618.7" y="485.1" width="1.0" height="1.0" fill-opacity="0.29"/><rect x="117.5" y="529.1" width="1.0" height="1.0" fill-opacity="0.28"/><rect x="68.4" y="117.5" width="1.0" height="1.0" fill-opacity="0.14"/><rect x="153.2" y="493.5" width="1.0" height="1.0" fill-opacity="0.30"/><rect x="486.4" y="279.5" width="1.0" height="1.0" fill-opacity="0.34"/><rect x="106.1" y="203.1" width="1.0" height="1.0" fill-opacity="0.22"/><rect x="182.4" y="478.2" width="1.0" height="1.0" fill-opacity="0.31"/><rect x="520.5" y="255.0" width="1.0" height="1.0" fill-opacity="0.25"/><rect x="220.5" y="377.0" width="1.0" height="1.0" fill-opacity="0.24"/><rect x="106.8" y="537.2" width="1.0" height="1.0" fill-opacity="0.31"/><rect x="544.4" y="129.5" width="1.0" height="1.0" fill-opacity="0.17"/><rect x="524.5" y="516.9" width="1.0" height="1.0" fill-opacity="0.26"/><rect x="653.1" y="310.6" width="1.0" height="1.0" fill-opacity="0.17"/><rect x="332.0" y="243.1" width="1.0" height="1.0" fill-opacity="0.21"/><rect x="547.6" y="255.0" width="1.0" height="1.0" fill-opacity="0.28"/><rect x="415.2" y="91.7" width="1.0" height="1.0" fill-opacity="0.24"/><rect x="607.0" y="430.3" width="1.0" height="1.0" fill-opacity="0.32"/><rect x="447.4" y="618.1" width="1.0" height="1.0" fill-opacity="0.13"/><rect x="297.7" y="186.9" width="1.0" height="1.0" fill-opacity="0.29"/><rect x="205.9" y="439.7" width="1.0" height="1.0" fill-opacity="0.27"/><rect x="12.0" y="412.3" width="1.0" height="1.0" fill-opacity="0.20"/><rect x="177.0" y="429.2" width="1.0" height="1.0" fill-opacity="0.27"/><rect x="149.6" y="464.7" width="1.0" height="1.0" fill-opacity="0.14"/><rect x="38.6" y="560.2" width="1.0" height="1.0" fill-opacity="0.33"/><rect x="662.8" y="618.2" width="1.0" height="1.0" fill-opacity="0.29"/><rect x="398.2" y="366.5" width="1.0" height="1.0" fill-opacity="0.24"/><rect x="660.4" y="603.0" width="1.0" height="1.0" fill-opacity="0.22"/><rect x="141.2" y="370.9" width="1.0" height="1.0" fill-opacity="0.22"/><rect x="566.3" y="578.9" width="1.0" height="1.0" fill-opacity="0.26"/><rect x="57.4" y="369.1" width="1.0" height="1.0" fill-opacity="0.15"/><rect x="375.8" y="522.9" width="1.0" height="1.0" fill-opacity="0.27"/><rect x="327.4" y="165.5" width="1.0" height="1.0" fill-opacity="0.33"/><rect x="610.0" y="344.2" width="1.0" height="1.0" fill-opacity="0.13"/><rect x="473.6" y="296.9" width="1.0" height="1.0" fill-opacity="0.21"/><rect x="264.8" y="228.8" width="1.0" height="1.0" fill-opacity="0.15"/><rect x="455.2" y="360.4" width="1.0" height="1.0" fill-opacity="0.22"/><rect x="525.3" y="352.0" width="1.0" height="1.0" fill-opacity="0.16"/><rect x="187.6" y="382.2" width="1.0" height="1.0" fill-opacity="0.27"/><rect x="443.5" y="483.6" width="1.0" height="1.0" fill-opacity="0.20"/><rect x="536.8" y="395.4" width="1.0" height="1.0" fill-opacity="0.18"/><rect x="87.7" y="418.6" width="1.0" height="1.0" fill-opacity="0.31"/><rect x="665.5" y="521.8" width="1.0" height="1.0" fill-opacity="0.31"/><rect x="412.9" y="212.8" width="1.0" height="1.0" fill-opacity="0.19"/><rect x="603.1" y="227.8" width="1.0" height="1.0" fill-opacity="0.23"/><rect x="384.4" y="89.6" width="1.0" height="1.0" fill-opacity="0.15"/><rect x="140.0" y="510.7" width="1.0" height="1.0" fill-opacity="0.30"/><rect x="61.2" y="167.8" width="1.0" height="1.0" fill-opacity="0.35"/><rect x="116.1" y="512.8" width="1.0" height="1.0" fill-opacity="0.25"/><rect x="610.4" y="478.7" width="1.0" height="1.0" fill-opacity="0.14"/><rect x="538.5" y="467.0" width="1.0" height="1.0" fill-opacity="0.13"/><rect x="659.6" y="238.2" width="1.0" height="1.0" fill-opacity="0.23"/><rect x="367.3" y="380.4" width="1.0" height="1.0" fill-opacity="0.25"/><rect x="46.0" y="541.7" width="1.0" height="1.0" fill-opacity="0.24"/><rect x="68.9" y="351.9" width="1.0" height="1.0" fill-opacity="0.16"/><rect x="302.2" y="469.1" width="1.0" height="1.0" fill-opacity="0.29"/><rect x="113.1" y="235.6" width="1.0" height="1.0" fill-opacity="0.34"/><rect x="439.9" y="180.4" width="1.0" height="1.0" fill-opacity="0.26"/><rect x="173.6" y="120.1" width="1.0" height="1.0" fill-opacity="0.27"/><rect x="78.4" y="155.9" width="1.0" height="1.0" fill-opacity="0.28"/><rect x="676.6" y="117.2" width="1.0" height="1.0" fill-opacity="0.29"/><rect x="99.9" y="111.7" width="1.0" height="1.0" fill-opacity="0.12"/><rect x="14.1" y="475.4" width="1.0" height="1.0" fill-opacity="0.33"/><rect x="9.1" y="161.3" width="1.0" height="1.0" fill-opacity="0.13"/><rect x="285.0" y="254.3" width="1.0" height="1.0" fill-opacity="0.16"/><rect x="570.8" y="136.5" width="1.0" height="1.0" fill-opacity="0.27"/><rect x="100.5" y="433.8" width="1.0" height="1.0" fill-opacity="0.15"/><rect x="137.9" y="615.1" width="1.0" height="1.0" fill-opacity="0.18"/><rect x="315.7" y="437.5" width="1.0" height="1.0" fill-opacity="0.35"/><rect x="384.4" y="142.9" width="1.0" height="1.0" fill-opacity="0.27"/><rect x="478.5" y="396.1" width="1.0" height="1.0" fill-opacity="0.21"/><rect x="574.0" y="114.2" width="1.0" height="1.0" fill-opacity="0.25"/><rect x="380.7" y="576.6" width="1.0" height="1.0" fill-opacity="0.30"/><rect x="167.6" y="287.2" width="1.0" height="1.0" fill-opacity="0.26"/><rect x="266.1" y="114.0" width="1.0" height="1.0" fill-opacity="0.35"/><rect x="318.1" y="155.8" width="1.0" height="1.0" fill-opacity="0.16"/><rect x="10.6" y="572.8" width="1.0" height="1.0" fill-opacity="0.15"/><rect x="394.4" y="591.2" width="1.0" height="1.0" fill-opacity="0.30"/><rect x="413.9" y="234.0" width="1.0" height="1.0" fill-opacity="0.27"/><rect x="564.8" y="191.9" width="1.0" height="1.0" fill-opacity="0.17"/><rect x="288.0" y="403.7" width="1.0" height="1.0" fill-opacity="0.32"/><rect x="413.8" y="224.5" width="1.0" height="1.0" fill-opacity="0.29"/><rect x="105.2" y="138.0" width="1.0" height="1.0" fill-opacity="0.12"/><rect x="403.5" y="392.9" width="1.0" height="1.0" fill-opacity="0.23"/><rect x="387.6" y="181.7" width="1.0" height="1.0" fill-opacity="0.17"/><rect x="409.5" y="298.3" width="1.0" height="1.0" fill-opacity="0.23"/><rect x="640.2" y="332.8" width="1.0" height="1.0" fill-opacity="0.29"/><rect x="42.5" y="345.4" width="1.0" height="1.0" fill-opacity="0.13"/><rect x="138.9" y="182.0" width="1.0" height="1.0" fill-opacity="0.21"/><rect x="111.3" y="585.4" width="1.0" height="1.0" fill-opacity="0.19"/><rect x="213.0" y="118.5" width="1.0" height="1.0" fill-opacity="0.20"/><rect x="548.9" y="375.5" width="1.0" height="1.0" fill-opacity="0.33"/><rect x="432.1" y="428.4" width="1.0" height="1.0" fill-opacity="0.22"/><rect x="584.7" y="323.3" width="1.0" height="1.0" fill-opacity="0.15"/><rect x="157.0" y="511.3" width="1.0" height="1.0" fill-opacity="0.13"/><rect x="126.3" y="419.2" width="1.0" height="1.0" fill-opacity="0.28"/><rect x="326.0" y="432.9" width="1.0" height="1.0" fill-opacity="0.22"/><rect x="412.8" y="101.0" width="1.0" height="1.0" fill-opacity="0.21"/><rect x="681.7" y="391.2" width="1.0" height="1.0" fill-opacity="0.20"/><rect x="436.3" y="608.2" width="1.0" height="1.0" fill-opacity="0.23"/><rect x="291.3" y="524.5" width="1.0" height="1.0" fill-opacity="0.32"/><rect x="158.3" y="441.6" width="1.0" height="1.0" fill-opacity="0.19"/><rect x="247.4" y="514.4" width="1.0" height="1.0" fill-opacity="0.20"/><rect x="640.1" y="343.1" width="1.0" height="1.0" fill-opacity="0.32"/><rect x="90.3" y="298.8" width="1.0" height="1.0" fill-opacity="0.13"/><rect x="600.7" y="561.3" width="1.0" height="1.0" fill-opacity="0.23"/><rect x="325.4" y="605.0" width="1.0" height="1.0" fill-opacity="0.21"/><rect x="214.2" y="154.4" width="1.0" height="1.0" fill-opacity="0.33"/><rect x="561.6" y="365.1" width="1.0" height="1.0" fill-opacity="0.29"/><rect x="585.1" y="441.8" width="1.0" height="1.0" fill-opacity="0.14"/><rect x="454.0" y="551.6" width="1.0" height="1.0" fill-opacity="0.23"/><rect x="299.0" y="428.6" width="1.0" height="1.0" fill-opacity="0.16"/><rect x="157.7" y="448.0" width="1.0" height="1.0" fill-opacity="0.35"/><rect x="79.6" y="439.7" width="1.0" height="1.0" fill-opacity="0.24"/><rect x="26.3" y="167.3" width="1.0" height="1.0" fill-opacity="0.19"/><rect x="484.6" y="151.8" width="1.0" height="1.0" fill-opacity="0.21"/><rect x="434.3" y="488.3" width="1.0" height="1.0" fill-opacity="0.35"/><rect x="586.5" y="183.5" width="1.0" height="1.0" fill-opacity="0.25"/><rect x="424.2" y="378.9" width="1.0" height="1.0" fill-opacity="0.26"/><rect x="268.0" y="208.8" width="1.0" height="1.0" fill-opacity="0.27"/><rect x="611.3" y="449.1" width="1.0" height="1.0" fill-opacity="0.27"/><rect x="670.5" y="217.3" width="1.0" height="1.0" fill-opacity="0.25"/><rect x="579.0" y="433.1" width="1.0" height="1.0" fill-opacity="0.12"/><rect x="357.6" y="521.9" width="1.0" height="1.0" fill-opacity="0.17"/><rect x="275.6" y="611.5" width="1.0" height="1.0" fill-opacity="0.22"/><rect x="380.4" y="403.2" width="1.0" height="1.0" fill-opacity="0.32"/><rect x="319.0" y="566.1" width="1.0" height="1.0" fill-opacity="0.28"/><rect x="280.9" y="412.7" width="1.0" height="1.0" fill-opacity="0.19"/><rect x="36.3" y="342.5" width="1.0" height="1.0" fill-opacity="0.13"/><rect x="209.3" y="536.2" width="1.0" height="1.0" fill-opacity="0.34"/><rect x="138.6" y="169.8" width="1.0" height="1.0" fill-opacity="0.20"/><rect x="315.4" y="156.7" width="1.0" height="1.0" fill-opacity="0.31"/><rect x="110.1" y="371.8" width="1.0" height="1.0" fill-opacity="0.18"/><rect x="452.6" y="142.9" width="1.0" height="1.0" fill-opacity="0.23"/><rect x="593.5" y="89.1" width="1.0" height="1.0" fill-opacity="0.16"/><rect x="50.5" y="532.3" width="1.0" height="1.0" fill-opacity="0.27"/><rect x="169.5" y="566.9" width="1.0" height="1.0" fill-opacity="0.16"/><rect x="342.0" y="474.9" width="1.0" height="1.0" fill-opacity="0.26"/><rect x="46.1" y="105.5" width="1.0" height="1.0" fill-opacity="0.16"/><rect x="662.0" y="566.3" width="1.0" height="1.0" fill-opacity="0.19"/><rect x="33.5" y="423.4" width="1.0" height="1.0" fill-opacity="0.17"/><rect x="624.4" y="577.0" width="1.0" height="1.0" fill-opacity="0.30"/><rect x="543.8" y="501.2" width="1.0" height="1.0" fill-opacity="0.31"/><rect x="265.8" y="470.6" width="1.0" height="1.0" fill-opacity="0.12"/><rect x="486.2" y="320.7" width="1.0" height="1.0" fill-opacity="0.35"/><rect x="549.8" y="325.0" width="1.0" height="1.0" fill-opacity="0.28"/><rect x="409.7" y="413.7" width="1.0" height="1.0" fill-opacity="0.12"/><rect x="157.4" y="219.3" width="1.0" height="1.0" fill-opacity="0.28"/><rect x="641.3" y="420.0" width="1.0" height="1.0" fill-opacity="0.29"/><rect x="445.3" y="158.9" width="1.0" height="1.0" fill-opacity="0.18"/><rect x="407.1" y="487.9" width="1.0" height="1.0" fill-opacity="0.22"/><rect x="486.4" y="260.8" width="1.0" height="1.0" fill-opacity="0.19"/><rect x="118.2" y="303.9" width="1.0" height="1.0" fill-opacity="0.25"/><rect x="76.9" y="583.2" width="1.0" height="1.0" fill-opacity="0.12"/><rect x="511.9" y="267.6" width="1.0" height="1.0" fill-opacity="0.34"/><rect x="200.6" y="93.9" width="1.0" height="1.0" fill-opacity="0.28"/><rect x="264.8" y="522.6" width="1.0" height="1.0" fill-opacity="0.27"/><rect x="308.8" y="437.5" width="1.0" height="1.0" fill-opacity="0.28"/><rect x="230.0" y="185.4" width="1.0" height="1.0" fill-opacity="0.27"/><rect x="398.3" y="105.7" width="1.0" height="1.0" fill-opacity="0.16"/><rect x="301.5" y="128.7" width="1.0" height="1.0" fill-opacity="0.24"/><rect x="276.7" y="239.9" width="1.0" height="1.0" fill-opacity="0.29"/><rect x="516.5" y="116.3" width="1.0" height="1.0" fill-opacity="0.26"/><rect x="694.8" y="408.1" width="1.0" height="1.0" fill-opacity="0.35"/><rect x="162.8" y="199.5" width="1.0" height="1.0" fill-opacity="0.20"/><rect x="164.2" y="166.4" width="1.0" height="1.0" fill-opacity="0.18"/><rect x="350.7" y="519.1" width="1.0" height="1.0" fill-opacity="0.30"/><rect x="27.8" y="494.7" width="1.0" height="1.0" fill-opacity="0.27"/><rect x="186.2" y="83.7" width="1.0" height="1.0" fill-opacity="0.32"/><rect x="94.2" y="217.4" width="1.0" height="1.0" fill-opacity="0.19"/><rect x="557.5" y="591.4" width="1.0" height="1.0" fill-opacity="0.33"/><rect x="594.6" y="537.4" width="1.0" height="1.0" fill-opacity="0.23"/><rect x="39.3" y="207.1" width="1.0" height="1.0" fill-opacity="0.15"/><rect x="81.1" y="152.8" width="1.0" height="1.0" fill-opacity="0.19"/><rect x="35.2" y="239.7" width="1.0" height="1.0" fill-opacity="0.32"/><rect x="169.2" y="355.3" width="1.0" height="1.0" fill-opacity="0.32"/><rect x="10.9" y="473.4" width="1.0" height="1.0" fill-opacity="0.24"/><rect x="21.2" y="561.8" width="1.0" height="1.0" fill-opacity="0.30"/><rect x="71.0" y="600.1" width="1.0" height="1.0" fill-opacity="0.25"/><rect x="444.5" y="194.9" width="1.0" height="1.0" fill-opacity="0.13"/><rect x="493.6" y="465.9" width="1.0" height="1.0" fill-opacity="0.16"/><rect x="23.8" y="390.8" width="1.0" height="1.0" fill-opacity="0.19"/><rect x="241.2" y="549.6" width="1.0" height="1.0" fill-opacity="0.25"/><rect x="82.6" y="458.2" width="1.0" height="1.0" fill-opacity="0.29"/><rect x="397.6" y="595.9" width="1.0" height="1.0" fill-opacity="0.23"/><rect x="454.9" y="110.2" width="1.0" height="1.0" fill-opacity="0.19"/><rect x="210.0" y="312.5" width="1.0" height="1.0" fill-opacity="0.24"/><rect x="80.3" y="453.8" width="1.0" height="1.0" fill-opacity="0.13"/><rect x="176.6" y="396.6" width="1.0" height="1.0" fill-opacity="0.13"/><rect x="230.2" y="517.9" width="1.0" height="1.0" fill-opacity="0.29"/><rect x="262.9" y="170.3" width="1.0" height="1.0" fill-opacity="0.29"/><rect x="608.4" y="124.0" width="1.0" height="1.0" fill-opacity="0.22"/><rect x="383.4" y="455.0" width="1.0" height="1.0" fill-opacity="0.17"/><rect x="575.5" y="409.5" width="1.0" height="1.0" fill-opacity="0.30"/><rect x="663.7" y="449.7" width="1.0" height="1.0" fill-opacity="0.27"/><rect x="208.3" y="227.8" width="1.0" height="1.0" fill-opacity="0.21"/><rect x="567.4" y="402.4" width="1.0" height="1.0" fill-opacity="0.18"/><rect x="631.8" y="359.6" width="1.0" height="1.0" fill-opacity="0.35"/><rect x="457.2" y="477.6" width="1.0" height="1.0" fill-opacity="0.20"/><rect x="694.2" y="339.5" width="1.0" height="1.0" fill-opacity="0.27"/><rect x="282.5" y="362.9" width="1.0" height="1.0" fill-opacity="0.16"/><rect x="257.9" y="303.6" width="1.0" height="1.0" fill-opacity="0.29"/><rect x="110.9" y="187.0" width="1.0" height="1.0" fill-opacity="0.27"/><rect x="331.4" y="557.2" width="1.0" height="1.0" fill-opacity="0.12"/><rect x="309.8" y="529.8" width="1.0" height="1.0" fill-opacity="0.29"/><rect x="247.0" y="359.3" width="1.0" height="1.0" fill-opacity="0.21"/><rect x="3.5" y="123.9" width="1.0" height="1.0" fill-opacity="0.17"/><rect x="610.5" y="183.9" width="1.0" height="1.0" fill-opacity="0.19"/><rect x="390.5" y="457.1" width="1.0" height="1.0" fill-opacity="0.27"/><rect x="216.4" y="264.6" width="1.0" height="1.0" fill-opacity="0.12"/><rect x="556.1" y="284.0" width="1.0" height="1.0" fill-opacity="0.19"/><rect x="145.0" y="347.0" width="1.0" height="1.0" fill-opacity="0.15"/><rect x="228.0" y="136.9" width="1.0" height="1.0" fill-opacity="0.16"/><rect x="369.2" y="257.4" width="1.0" height="1.0" fill-opacity="0.14"/><rect x="610.2" y="112.2" width="1.0" height="1.0" fill-opacity="0.21"/><rect x="205.1" y="111.3" width="1.0" height="1.0" fill-opacity="0.19"/><rect x="308.8" y="452.8" width="1.0" height="1.0" fill-opacity="0.18"/><rect x="265.6" y="567.2" width="1.0" height="1.0" fill-opacity="0.27"/><rect x="311.8" y="194.8" width="1.0" height="1.0" fill-opacity="0.30"/><rect x="651.4" y="209.7" width="1.0" height="1.0" fill-opacity="0.32"/><rect x="261.8" y="339.0" width="1.0" height="1.0" fill-opacity="0.13"/><rect x="169.9" y="210.2" width="1.0" height="1.0" fill-opacity="0.17"/><rect x="578.2" y="594.5" width="1.0" height="1.0" fill-opacity="0.19"/><rect x="561.5" y="243.0" width="1.0" height="1.0" fill-opacity="0.25"/><rect x="136.1" y="571.9" width="1.0" height="1.0" fill-opacity="0.24"/><rect x="413.3" y="509.6" width="1.0" height="1.0" fill-opacity="0.24"/><rect x="342.9" y="465.0" width="1.0" height="1.0" fill-opacity="0.23"/><rect x="403.5" y="241.7" width="1.0" height="1.0" fill-opacity="0.16"/><rect x="156.3" y="605.4" width="1.0" height="1.0" fill-opacity="0.26"/><rect x="12.8" y="181.4" width="1.0" height="1.0" fill-opacity="0.25"/><rect x="357.9" y="615.1" width="1.0" height="1.0" fill-opacity="0.33"/><rect x="49.9" y="516.1" width="1.0" height="1.0" fill-opacity="0.35"/><rect x="522.2" y="595.7" width="1.0" height="1.0" fill-opacity="0.21"/><rect x="440.4" y="450.6" width="1.0" height="1.0" fill-opacity="0.30"/><rect x="501.5" y="523.8" width="1.0" height="1.0" fill-opacity="0.20"/><rect x="556.6" y="402.9" width="1.0" height="1.0" fill-opacity="0.34"/><rect x="226.8" y="415.2" width="1.0" height="1.0" fill-opacity="0.32"/><rect x="532.0" y="457.3" width="1.0" height="1.0" fill-opacity="0.15"/><rect x="108.9" y="252.0" width="1.0" height="1.0" fill-opacity="0.27"/><rect x="22.9" y="436.8" width="1.0" height="1.0" fill-opacity="0.15"/><rect x="135.4" y="230.2" width="1.0" height="1.0" fill-opacity="0.25"/><rect x="502.7" y="592.2" width="1.0" height="1.0" fill-opacity="0.17"/><rect x="59.9" y="544.0" width="1.0" height="1.0" fill-opacity="0.26"/><rect x="643.3" y="467.1" width="1.0" height="1.0" fill-opacity="0.15"/><rect x="253.5" y="198.6" width="1.0" height="1.0" fill-opacity="0.22"/><rect x="199.9" y="546.1" width="1.0" height="1.0" fill-opacity="0.33"/><rect x="132.5" y="620.9" width="1.0" height="1.0" fill-opacity="0.34"/><rect x="269.7" y="553.0" width="1.0" height="1.0" fill-opacity="0.34"/><rect x="514.2" y="276.4" width="1.0" height="1.0" fill-opacity="0.26"/><rect x="536.7" y="263.7" width="1.0" height="1.0" fill-opacity="0.23"/><rect x="62.4" y="164.5" width="1.0" height="1.0" fill-opacity="0.30"/><rect x="216.0" y="460.0" width="1.0" height="1.0" fill-opacity="0.22"/><rect x="497.7" y="234.4" width="1.0" height="1.0" fill-opacity="0.14"/><rect x="467.2" y="219.0" width="1.0" height="1.0" fill-opacity="0.17"/><rect x="324.3" y="348.4" width="1.0" height="1.0" fill-opacity="0.32"/><rect x="487.9" y="315.6" width="1.0" height="1.0" fill-opacity="0.22"/><rect x="419.9" y="150.1" width="1.0" height="1.0" fill-opacity="0.19"/><rect x="422.7" y="588.3" width="1.0" height="1.0" fill-opacity="0.26"/><rect x="146.9" y="603.4" width="1.0" height="1.0" fill-opacity="0.30"/><rect x="155.9" y="279.3" width="1.0" height="1.0" fill-opacity="0.13"/><rect x="533.4" y="198.0" width="1.0" height="1.0" fill-opacity="0.31"/><rect x="502.4" y="500.0" width="1.0" height="1.0" fill-opacity="0.25"/><rect x="169.9" y="99.5" width="1.0" height="1.0" fill-opacity="0.26"/><rect x="9.2" y="360.8" width="1.0" height="1.0" fill-opacity="0.30"/><rect x="98.2" y="316.4" width="1.0" height="1.0" fill-opacity="0.24"/><rect x="105.5" y="189.1" width="1.0" height="1.0" fill-opacity="0.26"/><rect x="121.5" y="162.4" width="1.0" height="1.0" fill-opacity="0.17"/><rect x="655.8" y="565.5" width="1.0" height="1.0" fill-opacity="0.15"/><rect x="401.1" y="302.4" width="1.0" height="1.0" fill-opacity="0.13"/><rect x="175.9" y="431.9" width="1.0" height="1.0" fill-opacity="0.12"/><rect x="670.9" y="234.5" width="1.0" height="1.0" fill-opacity="0.20"/><rect x="664.4" y="155.4" width="1.0" height="1.0" fill-opacity="0.15"/><rect x="330.7" y="249.5" width="1.0" height="1.0" fill-opacity="0.19"/><rect x="407.9" y="621.9" width="1" height="1" fill-opacity="0.25"/><rect x="30.7" y="620.4" width="1" height="1" fill-opacity="0.36"/><rect x="302.8" y="619.7" width="1" height="1" fill-opacity="0.21"/><rect x="158.8" y="620.4" width="1" height="1" fill-opacity="0.23"/><rect x="469.6" y="621.3" width="1" height="1" fill-opacity="0.16"/><rect x="101.9" y="621.6" width="1" height="1" fill-opacity="0.37"/><rect x="551.9" y="619.9" width="1" height="1" fill-opacity="0.32"/><rect x="52.7" y="621.2" width="1" height="1" fill-opacity="0.21"/><rect x="587.9" y="621.6" width="1" height="1" fill-opacity="0.27"/><rect x="507.9" y="621.9" width="1" height="1" fill-opacity="0.37"/><rect x="453.1" y="621.0" width="1" height="1" fill-opacity="0.24"/><rect x="478.4" y="619.9" width="1" height="1" fill-opacity="0.26"/><rect x="59.6" y="619.7" width="1" height="1" fill-opacity="0.32"/><rect x="298.3" y="620.0" width="1" height="1" fill-opacity="0.39"/><rect x="203.4" y="620.8" width="1" height="1" fill-opacity="0.27"/><rect x="129.2" y="622.0" width="1" height="1" fill-opacity="0.34"/><rect x="624.3" y="620.2" width="1" height="1" fill-opacity="0.38"/><rect x="637.0" y="621.9" width="1" height="1" fill-opacity="0.19"/><rect x="109.0" y="619.7" width="1" height="1" fill-opacity="0.17"/><rect x="491.0" y="619.6" width="1" height="1" fill-opacity="0.27"/><rect x="248.5" y="621.3" width="1" height="1" fill-opacity="0.16"/><rect x="504.5" y="621.9" width="1" height="1" fill-opacity="0.22"/><rect x="282.5" y="621.4" width="1" height="1" fill-opacity="0.23"/><rect x="592.4" y="622.0" width="1" height="1" fill-opacity="0.21"/><rect x="329.2" y="619.9" width="1" height="1" fill-opacity="0.29"/><rect x="275.4" y="621.9" width="1" height="1" fill-opacity="0.33"/><rect x="694.5" y="621.5" width="1" height="1" fill-opacity="0.36"/><rect x="267.7" y="621.2" width="1" height="1" fill-opacity="0.18"/><rect x="243.6" y="621.8" width="1" height="1" fill-opacity="0.39"/><rect x="121.3" y="620.7" width="1" height="1" fill-opacity="0.25"/><rect x="434.0" y="621.0" width="1" height="1" fill-opacity="0.22"/><rect x="615.9" y="620.6" width="1" height="1" fill-opacity="0.34"/><rect x="505.4" y="622.0" width="1" height="1" fill-opacity="0.28"/><rect x="412.2" y="621.4" width="1" height="1" fill-opacity="0.21"/><rect x="31.5" y="621.5" width="1" height="1" fill-opacity="0.32"/><rect x="524.8" y="621.5" width="1" height="1" fill-opacity="0.20"/><rect x="614.5" y="621.1" width="1" height="1" fill-opacity="0.39"/><rect x="389.2" y="621.7" width="1" height="1" fill-opacity="0.16"/><rect x="115.9" y="620.9" width="1" height="1" fill-opacity="0.32"/><rect x="270.2" y="619.7" width="1" height="1" fill-opacity="0.37"/><rect x="50.1" y="621.7" width="1" height="1" fill-opacity="0.21"/><rect x="494.2" y="621.0" width="1" height="1" fill-opacity="0.21"/><rect x="229.9" y="620.1" width="1" height="1" fill-opacity="0.28"/><rect x="194.5" y="620.9" width="1" height="1" fill-opacity="0.22"/><rect x="84.3" y="621.2" width="1" height="1" fill-opacity="0.22"/><rect x="664.0" y="620.5" width="1" height="1" fill-opacity="0.22"/><rect x="502.7" y="621.8" width="1" height="1" fill-opacity="0.24"/><rect x="513.3" y="620.3" width="1" height="1" fill-opacity="0.40"/><rect x="210.1" y="619.6" width="1" height="1" fill-opacity="0.15"/><rect x="379.9" y="621.1" width="1" height="1" fill-opacity="0.22"/><rect x="289.8" y="620.5" width="1" height="1" fill-opacity="0.24"/><rect x="132.6" y="620.9" width="1" height="1" fill-opacity="0.32"/><rect x="19.0" y="621.7" width="1" height="1" fill-opacity="0.21"/><rect x="332.7" y="620.0" width="1" height="1" fill-opacity="0.32"/><rect x="284.2" y="621.0" width="1" height="1" fill-opacity="0.25"/><rect x="355.7" y="619.7" width="1" height="1" fill-opacity="0.40"/><rect x="298.0" y="620.3" width="1" height="1" fill-opacity="0.36"/><rect x="206.1" y="621.5" width="1" height="1" fill-opacity="0.26"/><rect x="81.6" y="620.9" width="1" height="1" fill-opacity="0.22"/><rect x="141.0" y="622.0" width="1" height="1" fill-opacity="0.38"/><rect x="330.1" y="621.5" width="1" height="1" fill-opacity="0.32"/><rect x="211.9" y="619.8" width="1" height="1" fill-opacity="0.30"/><rect x="133.6" y="621.4" width="1" height="1" fill-opacity="0.30"/><rect x="154.0" y="621.4" width="1" height="1" fill-opacity="0.39"/><rect x="336.0" y="621.9" width="1" height="1" fill-opacity="0.26"/><rect x="12.2" y="620.7" width="1" height="1" fill-opacity="0.24"/><rect x="642.3" y="620.8" width="1" height="1" fill-opacity="0.39"/><rect x="113.8" y="620.5" width="1" height="1" fill-opacity="0.15"/><rect x="36.0" y="621.3" width="1" height="1" fill-opacity="0.16"/><rect x="155.5" y="620.6" width="1" height="1" fill-opacity="0.38"/><rect x="165.3" y="619.5" width="1" height="1" fill-opacity="0.33"/><rect x="487.5" y="619.8" width="1" height="1" fill-opacity="0.38"/><rect x="605.7" y="621.8" width="1" height="1" fill-opacity="0.36"/><rect x="382.7" y="621.3" width="1" height="1" fill-opacity="0.18"/><rect x="450.7" y="620.4" width="1" height="1" fill-opacity="0.23"/><rect x="219.1" y="619.7" width="1" height="1" fill-opacity="0.35"/><rect x="535.0" y="619.5" width="1" height="1" fill-opacity="0.28"/><rect x="16.1" y="620.9" width="1" height="1" fill-opacity="0.19"/><rect x="672.6" y="620.3" width="1" height="1" fill-opacity="0.28"/><rect x="183.6" y="621.8" width="1" height="1" fill-opacity="0.15"/><rect x="212.0" y="620.1" width="1" height="1" fill-opacity="0.34"/><rect x="260.3" y="621.7" width="1" height="1" fill-opacity="0.23"/><rect x="88.1" y="620.6" width="1" height="1" fill-opacity="0.17"/><rect x="106.6" y="620.8" width="1" height="1" fill-opacity="0.29"/><rect x="149.6" y="619.9" width="1" height="1" fill-opacity="0.28"/><rect x="311.7" y="620.7" width="1" height="1" fill-opacity="0.32"/><rect x="98.7" y="619.5" width="1" height="1" fill-opacity="0.17"/><rect x="556.5" y="621.3" width="1" height="1" fill-opacity="0.19"/><rect x="231.3" y="620.3" width="1" height="1" fill-opacity="0.38"/><rect x="288.7" y="621.3" width="1" height="1" fill-opacity="0.17"/><rect x="29.0" y="620.1" width="1" height="1" fill-opacity="0.31"/><rect x="312.8" y="621.7" width="1" height="1" fill-opacity="0.36"/><rect x="465.1" y="622.0" width="1" height="1" fill-opacity="0.39"/><rect x="618.1" y="619.7" width="1" height="1" fill-opacity="0.25"/><rect x="101.8" y="621.0" width="1" height="1" fill-opacity="0.28"/><rect x="64.6" y="619.7" width="1" height="1" fill-opacity="0.27"/><rect x="437.4" y="620.5" width="1" height="1" fill-opacity="0.27"/><rect x="444.0" y="621.2" width="1" height="1" fill-opacity="0.33"/><rect x="290.5" y="619.9" width="1" height="1" fill-opacity="0.37"/><rect x="28.5" y="620.0" width="1" height="1" fill-opacity="0.20"/><rect x="416.0" y="621.1" width="1" height="1" fill-opacity="0.17"/><rect x="360.1" y="620.9" width="1" height="1" fill-opacity="0.32"/><rect x="51.7" y="621.3" width="1" height="1" fill-opacity="0.22"/><rect x="269.4" y="619.8" width="1" height="1" fill-opacity="0.36"/><rect x="432.6" y="621.5" width="1" height="1" fill-opacity="0.28"/><rect x="77.2" y="620.5" width="1" height="1" fill-opacity="0.17"/><rect x="69.1" y="621.5" width="1" height="1" fill-opacity="0.15"/><rect x="272.4" y="619.6" width="1" height="1" fill-opacity="0.34"/><rect x="693.5" y="619.6" width="1" height="1" fill-opacity="0.24"/><rect x="683.0" y="620.1" width="1" height="1" fill-opacity="0.23"/><rect x="691.1" y="621.8" width="1" height="1" fill-opacity="0.25"/><rect x="469.3" y="621.5" width="1" height="1" fill-opacity="0.24"/><rect x="1.6" y="620.4" width="1" height="1" fill-opacity="0.32"/><rect x="675.1" y="620.6" width="1" height="1" fill-opacity="0.25"/><rect x="266.5" y="621.0" width="1" height="1" fill-opacity="0.16"/><rect x="639.0" y="621.9" width="1" height="1" fill-opacity="0.16"/><rect x="4.3" y="620.3" width="1" height="1" fill-opacity="0.19"/><rect x="538.7" y="621.7" width="1" height="1" fill-opacity="0.29"/><rect x="660.8" y="620.1" width="1" height="1" fill-opacity="0.20"/><rect x="268.6" y="620.6" width="1" height="1" fill-opacity="0.20"/></g><g stroke="#111" fill="none" stroke-linecap="butt" stroke-linejoin="round" font-family="Liberation Sans, sans-serif"><line x1="1.5" y1="240" x2="188" y2="240" stroke-width="2.3"/><line x1="2" y1="364" x2="145" y2="364" stroke-width="2.4"/><line x1="0" y1="528.6" x2="78.6" y2="528.6" stroke-width="3"/><polygon points="34.50,240.50 37.90,255.50 28.70,255.50 32.10,240.50" stroke="none" fill="#111"/><line x1="33.3" y1="255" x2="33.3" y2="267" stroke-width="2.5"/><polygon points="32.10,363.00 28.70,348.00 37.90,348.00 34.50,363.00" stroke="none" fill="#111"/><line x1="33.3" y1="335.7" x2="33.3" y2="349" stroke-width="2.5"/><polygon points="34.50,365.00 37.90,380.00 28.70,380.00 32.10,365.00" stroke="none" fill="#111"/><line x1="33.3" y1="379" x2="33.3" y2="425" stroke-width="2.5"/><line x1="33.3" y1="466.4" x2="33.3" y2="514" stroke-width="2.5"/><polygon points="32.10,527.50 28.70,512.50 37.90,512.50 34.50,527.50" stroke="none" fill="#111"/><text fill="#111" stroke="#111" x="14.3" y="321.4" font-size="25.43" stroke-width="1.0" textLength="36.400000000000006" lengthAdjust="spacingAndGlyphs">10.2</text><text fill="#111" stroke="#111" x="20.7" y="453.6" font-size="24.57" stroke-width="1.0" textLength="27.2" lengthAdjust="spacingAndGlyphs">&#8220;A&#8221;</text><text fill="#111" stroke="#111" x="218" y="96.5" font-size="26.43" stroke-width="1.0" textLength="28" lengthAdjust="spacingAndGlyphs">4.0</text><line x1="265" y1="114.5" x2="298.5" y2="114.5" stroke-width="2.4"/><line x1="298" y1="114.5" x2="226" y2="250.5" stroke-width="2.3"/><polygon points="222.44,255.44 226.42,240.58 234.56,244.87 224.56,256.56" stroke="none" fill="#111"/><path d="M180,362 L177.3,332 L179,300 L181,276 C182,266 184,259 185.7,255 C189,246 196,240.8 204,240.8 C213,240.8 220,246 223.5,255 C225,260 226,267 227,276 L229.5,300 L230.7,332 L227.8,362" stroke-width="3.6" fill="none"/><path d="M187.6,362 L184,332 L186,300 L188.2,268 C189,260 190,256 191.7,253 C194,250 199,249.3 205,249.3 C211,249.3 216,252 218.5,259 L221.3,300 L223,332 L219.6,362" stroke-width="3.3" fill="none"/><path d="M199,283 C198,280.5 196.5,279.8 195,279.8 C193,279.8 192,282 191.8,286 L190.3,300 L190,332 C190,348 194,358.3 204,358.3 C214,358.3 218,348 218,332 L217.3,300 L216,286 C215.8,282 215,279.8 213,279.8 C211.5,279.8 210,280.5 209,283" stroke-width="3.1" fill="none"/><rect x="199" y="271.5" width="9.8" height="81.5" rx="0" stroke-width="4" fill="none"/><rect x="199" y="333" width="10" height="4.8" stroke="none" fill="#111"/><rect x="160.3" y="364" width="87" height="19" rx="0" stroke-width="4" fill="none"/><line x1="159.7" y1="383" x2="159.7" y2="495" stroke-width="4.2"/><line x1="247.2" y1="383" x2="247.2" y2="495" stroke-width="4.2"/><line x1="195.7" y1="383" x2="195.7" y2="495" stroke-width="4"/><line x1="211.2" y1="383" x2="211.2" y2="495" stroke-width="4"/><rect x="97.5" y="495.3" width="216.3" height="23" rx="2.5" stroke-width="3.8" fill="none"/><rect x="103" y="518" width="204" height="9.8" stroke="none" fill="#111"/><polygon points="112.0,520.5 121.2,520.5 119.0,523.9 109.6,523.9" fill="#fff" stroke="none"/><polygon points="126.0,520.5 135.2,520.5 133.0,523.9 123.6,523.9" fill="#fff" stroke="none"/><polygon points="140.0,520.5 149.2,520.5 147.0,523.9 137.6,523.9" fill="#fff" stroke="none"/><polygon points="154.0,520.5 163.2,520.5 161.0,523.9 151.6,523.9" fill="#fff" stroke="none"/><polygon points="168.0,520.5 177.2,520.5 175.0,523.9 165.6,523.9" fill="#fff" stroke="none"/><polygon points="182.0,520.5 191.2,520.5 189.0,523.9 179.6,523.9" fill="#fff" stroke="none"/><polygon points="196.0,520.5 205.2,520.5 203.0,523.9 193.6,523.9" fill="#fff" stroke="none"/><polygon points="210.0,520.5 219.2,520.5 217.0,523.9 207.6,523.9" fill="#fff" stroke="none"/><polygon points="224.0,520.5 233.2,520.5 231.0,523.9 221.6,523.9" fill="#fff" stroke="none"/><polygon points="238.0,520.5 247.2,520.5 245.0,523.9 235.6,523.9" fill="#fff" stroke="none"/><polygon points="252.0,520.5 261.2,520.5 259.0,523.9 249.6,523.9" fill="#fff" stroke="none"/><polygon points="266.0,520.5 275.2,520.5 273.0,523.9 263.6,523.9" fill="#fff" stroke="none"/><polygon points="280.0,520.5 289.2,520.5 287.0,523.9 277.6,523.9" fill="#fff" stroke="none"/><polygon points="294.0,520.5 303.2,520.5 301.0,523.9 291.6,523.9" fill="#fff" stroke="none"/><line x1="310" y1="527.8" x2="336.4" y2="527.8" stroke-width="2.8"/><line x1="306.5" y1="517" x2="307.5" y2="529.5" stroke-width="2.2"/><text fill="#111" stroke="#111" x="242.5" y="584" font-size="23.57" stroke-width="1.0" textLength="13.899999999999977" lengthAdjust="spacingAndGlyphs">.8</text><line x1="278.5" y1="533" x2="358.2" y2="597" stroke-width="2.6"/><line x1="330.3" y1="597" x2="358.5" y2="597" stroke-width="2.6"/><polygon points="276.75,530.06 290.58,536.80 284.82,543.98 275.25,531.94" stroke="none" fill="#111"/><line x1="546.4" y1="165.7" x2="546.4" y2="352" stroke-width="2.4"/><line x1="633.6" y1="165.7" x2="633.6" y2="352" stroke-width="2.4"/><line x1="499.4" y1="195.7" x2="531" y2="195.7" stroke-width="2.2"/><polygon points="546.00,196.90 531.00,199.50 531.00,191.90 546.00,194.50" stroke="none" fill="#111"/><line x1="681.4" y1="195.7" x2="649" y2="195.7" stroke-width="2.2"/><polygon points="634.00,194.50 649.00,191.90 649.00,199.50 634.00,196.90" stroke="none" fill="#111"/><text fill="#111" stroke="#111" x="577" y="215.7" font-size="24.43" stroke-width="1.0" textLength="23" lengthAdjust="spacingAndGlyphs">7.1</text><path d="M574.5,365 L574.5,250 L575.5,247.5 C578,244.5 583,242.8 589.5,242.8 C598,242.8 604,247 605.4,254 L605.4,365" stroke-width="4.5" fill="none"/><path d="M574.5,272.5 C571,272.5 569.5,273.5 568.5,276 L555.5,339.5 L567,339.5 L567.5,353 L574.5,353" stroke-width="4.2" fill="none"/><rect x="547" y="366.5" width="87" height="19" rx="0" stroke-width="4.2" fill="none"/><line x1="546.5" y1="385.5" x2="546.5" y2="498" stroke-width="4.2"/><line x1="633.3" y1="385.5" x2="633.3" y2="498" stroke-width="4.2"/><line x1="583" y1="385.5" x2="583" y2="498" stroke-width="4"/><line x1="598" y1="385.5" x2="598" y2="498" stroke-width="4"/><path d="M483.2,497.8 L695,499.2 Q697.5,499.2 697.5,501.7 L697.5,518.6 Q697.5,521.1 695,521.1 L483.2,520.3 Q480.7,520.3 480.7,517.8 L480.7,500.3 Q480.7,497.8 483.2,497.8 Z" stroke-width="3.6" fill="none"/><polygon points="486,520 691.4,520.5 691.4,530 486,529.5" fill="#111" stroke="none"/><polygon points="495.9,523.1 504.1,523.1 502.1,526.4 493.7,526.4" fill="#fff" stroke="none"/><polygon points="510.1,523.1 518.3,523.1 516.3,526.4 507.9,526.4" fill="#fff" stroke="none"/><polygon points="524.3,523.1 532.5,523.1 530.5,526.4 522.1,526.4" fill="#fff" stroke="none"/><polygon points="538.5,523.1 546.7,523.1 544.7,526.4 536.3,526.4" fill="#fff" stroke="none"/><polygon points="552.7,523.1 560.9,523.1 558.9,526.4 550.5,526.4" fill="#fff" stroke="none"/><polygon points="566.9,523.1 575.1,523.1 573.1,526.4 564.7,526.4" fill="#fff" stroke="none"/><polygon points="581.1,523.1 589.3,523.1 587.3,526.4 578.9,526.4" fill="#fff" stroke="none"/><polygon points="595.3,523.1 603.5,523.1 601.5,526.4 593.1,526.4" fill="#fff" stroke="none"/><polygon points="609.5,523.1 617.7,523.1 615.7,526.4 607.3,526.4" fill="#fff" stroke="none"/><polygon points="623.7,523.1 631.9,523.1 629.9,526.4 621.5,526.4" fill="#fff" stroke="none"/><polygon points="637.9,523.1 646.1,523.1 644.1,526.4 635.7,526.4" fill="#fff" stroke="none"/><polygon points="652.1,523.1 660.3,523.1 658.3,526.4 649.9,526.4" fill="#fff" stroke="none"/><polygon points="666.3,523.1 674.5,523.1 672.5,526.4 664.1,526.4" fill="#fff" stroke="none"/><polygon points="680.5,523.1 688.7,523.1 686.7,526.4 678.3,526.4" fill="#fff" stroke="none"/><text fill="#111" stroke="#111" x="410" y="434.3" font-size="25.57" stroke-width="1.0" textLength="27.899999999999977" lengthAdjust="spacingAndGlyphs">2.0</text><line x1="395" y1="497.5" x2="465.7" y2="497.5" stroke-width="3"/><line x1="395" y1="520.7" x2="465.7" y2="520.7" stroke-width="3"/><line x1="426.7" y1="442.9" x2="426.7" y2="482" stroke-width="2.4"/><polygon points="425.50,497.00 422.10,482.00 431.30,482.00 427.90,497.00" stroke="none" fill="#111"/><polygon points="427.90,521.50 431.30,536.50 422.10,536.50 425.50,521.50" stroke="none" fill="#111"/><line x1="426.7" y1="535" x2="426.7" y2="567.1" stroke-width="2.4"/><line x1="480" y1="545.7" x2="480" y2="617.9" stroke-width="3"/><line x1="697.9" y1="547.9" x2="697.9" y2="621.4" stroke-width="3"/><polygon points="481.00,584.50 495.00,581.70 495.00,589.70 481.00,586.90" stroke="none" fill="#111"/><line x1="494" y1="585.7" x2="510" y2="585.7" stroke-width="2.2"/><line x1="513" y1="585.7" x2="523" y2="585.7" stroke-width="2.2"/><polygon points="697.00,589.10 683.00,591.90 683.00,583.90 697.00,586.70" stroke="none" fill="#111"/><line x1="654.3" y1="587.9" x2="683" y2="587.9" stroke-width="2.4"/><text fill="#111" stroke="#111" x="578.3" y="607.1" font-size="24.43" stroke-width="1.0" textLength="34.90000000000009" lengthAdjust="spacingAndGlyphs">17.8</text></g></svg></body></html>
